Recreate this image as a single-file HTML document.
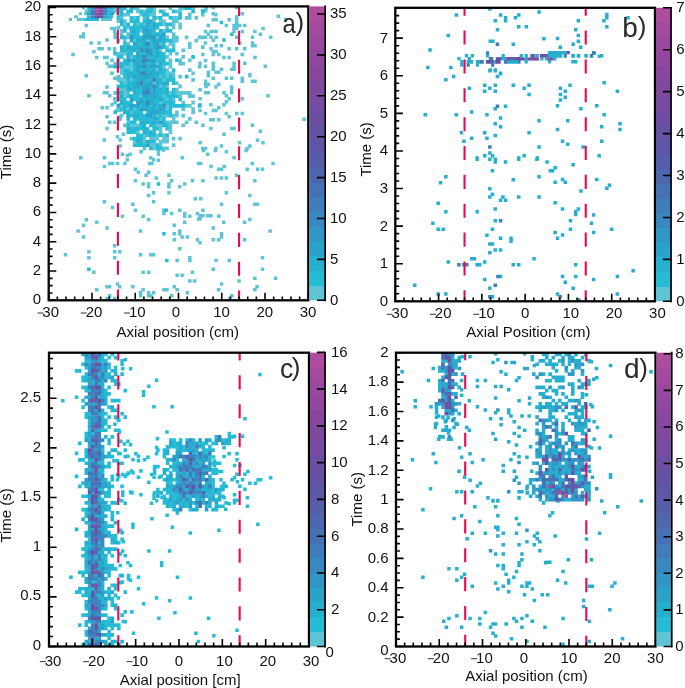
<!DOCTYPE html>
<html><head><meta charset="utf-8"><style>
html,body{margin:0;padding:0;background:#fff;}
svg{display:block;will-change:transform;}
.t{font-family:"Liberation Sans",sans-serif;font-size:15px;fill:#111;}
.t text{font-family:"Liberation Sans",sans-serif;font-size:15px;fill:#111;}
.L{font-family:"Liberation Sans",sans-serif;font-size:28px;fill:#2a2a2a;}
</style></head><body>
<svg width="685" height="688" viewBox="0 0 685 688">
<path fill="#5ec5d7" d="M79.0 156.1h3.5v3.5h-3.5zM102.7 156.1h3.5v3.5h-3.5zM120.6 152.6h3.5v3.5h-3.5zM125.6 153.7h3.5v3.5h-3.5zM128.3 152.6h3.5v3.5h-3.5zM125.6 158.1h3.5v3.5h-3.5zM123.2 161.8h3.5v3.5h-3.5zM149.1 156.1h3.5v3.5h-3.5zM151.9 158.1h3.5v3.5h-3.5zM156.7 152.6h3.5v3.5h-3.5zM156.7 150.0h3.5v3.5h-3.5zM156.7 158.5h3.5v3.5h-3.5zM161.6 148.2h3.5v3.5h-3.5zM180.4 156.1h3.5v3.5h-3.5zM102.7 164.7h3.5v3.5h-3.5zM107.9 161.8h3.5v3.5h-3.5zM110.8 161.8h3.5v3.5h-3.5zM115.8 161.8h3.5v3.5h-3.5zM148.0 161.8h3.5v3.5h-3.5zM150.2 161.8h3.5v3.5h-3.5zM196.8 161.8h3.5v3.5h-3.5zM133.7 167.5h3.5v3.5h-3.5zM136.6 170.6h3.5v3.5h-3.5zM144.3 173.4h3.5v3.5h-3.5zM146.9 170.6h3.5v3.5h-3.5zM167.2 173.4h3.5v3.5h-3.5zM154.5 176.3h3.5v3.5h-3.5zM133.7 179.1h3.5v3.5h-3.5zM141.4 182.2h3.5v3.5h-3.5zM146.9 182.2h3.5v3.5h-3.5zM146.9 185.0h3.5v3.5h-3.5zM167.2 182.2h3.5v3.5h-3.5zM169.9 179.1h3.5v3.5h-3.5zM167.2 185.0h3.5v3.5h-3.5zM178.0 185.0h3.5v3.5h-3.5zM183.0 182.2h3.5v3.5h-3.5zM190.7 179.1h3.5v3.5h-3.5zM151.9 191.0h3.5v3.5h-3.5zM146.9 193.8h3.5v3.5h-3.5zM167.2 191.0h3.5v3.5h-3.5zM193.5 196.9h3.5v3.5h-3.5zM102.7 199.9h3.5v3.5h-3.5zM151.9 199.9h3.5v3.5h-3.5zM131.1 202.6h3.5v3.5h-3.5zM110.8 205.8h3.5v3.5h-3.5zM133.7 208.5h3.5v3.5h-3.5zM162.2 208.5h3.5v3.5h-3.5zM162.2 211.8h3.5v3.5h-3.5zM169.9 211.8h3.5v3.5h-3.5zM178.0 208.5h3.5v3.5h-3.5zM183.0 211.8h3.5v3.5h-3.5zM183.0 214.6h3.5v3.5h-3.5zM188.1 214.6h3.5v3.5h-3.5zM195.7 211.8h3.5v3.5h-3.5zM196.8 217.2h3.5v3.5h-3.5zM120.6 214.6h3.5v3.5h-3.5zM141.4 214.6h3.5v3.5h-3.5zM146.9 217.9h3.5v3.5h-3.5zM84.5 217.9h3.5v3.5h-3.5zM95.0 220.5h3.5v3.5h-3.5zM81.8 223.4h3.5v3.5h-3.5zM105.3 226.2h3.5v3.5h-3.5zM183.0 220.5h3.5v3.5h-3.5zM172.5 223.4h3.5v3.5h-3.5zM76.4 229.3h3.5v3.5h-3.5zM138.8 229.3h3.5v3.5h-3.5zM172.5 232.1h3.5v3.5h-3.5zM178.0 229.3h3.5v3.5h-3.5zM178.0 232.1h3.5v3.5h-3.5zM180.4 235.2h3.5v3.5h-3.5zM185.6 235.2h3.5v3.5h-3.5zM81.8 235.2h3.5v3.5h-3.5zM172.5 238.0h3.5v3.5h-3.5zM195.7 238.0h3.5v3.5h-3.5zM112.9 243.9h3.5v3.5h-3.5zM178.0 247.0h3.5v3.5h-3.5zM63.7 252.9h3.5v3.5h-3.5zM87.1 250.1h3.5v3.5h-3.5zM87.1 256.0h3.5v3.5h-3.5zM112.9 250.1h3.5v3.5h-3.5zM118.0 250.1h3.5v3.5h-3.5zM112.9 256.0h3.5v3.5h-3.5zM138.8 252.9h3.5v3.5h-3.5zM149.1 252.9h3.5v3.5h-3.5zM151.9 252.9h3.5v3.5h-3.5zM175.4 258.8h3.5v3.5h-3.5zM188.1 256.0h3.5v3.5h-3.5zM188.1 258.8h3.5v3.5h-3.5zM92.1 270.4h3.5v3.5h-3.5zM141.4 270.4h3.5v3.5h-3.5zM146.9 270.4h3.5v3.5h-3.5zM175.4 273.5h3.5v3.5h-3.5zM180.4 273.5h3.5v3.5h-3.5zM190.7 270.4h3.5v3.5h-3.5zM188.1 279.2h3.5v3.5h-3.5zM192.9 279.2h3.5v3.5h-3.5zM115.8 282.3h3.5v3.5h-3.5zM95.0 288.0h3.5v3.5h-3.5zM105.3 285.1h3.5v3.5h-3.5zM107.9 285.1h3.5v3.5h-3.5zM118.0 285.1h3.5v3.5h-3.5zM131.1 285.1h3.5v3.5h-3.5zM141.4 288.0h3.5v3.5h-3.5zM162.2 288.0h3.5v3.5h-3.5zM165.1 288.0h3.5v3.5h-3.5zM172.5 285.1h3.5v3.5h-3.5zM175.4 288.0h3.5v3.5h-3.5zM185.6 291.0h3.5v3.5h-3.5zM138.8 291.0h3.5v3.5h-3.5zM138.8 293.9h3.5v3.5h-3.5zM146.9 291.0h3.5v3.5h-3.5zM146.9 293.9h3.5v3.5h-3.5zM149.1 293.9h3.5v3.5h-3.5zM151.9 291.0h3.5v3.5h-3.5zM169.9 293.9h3.5v3.5h-3.5zM107.9 293.9h3.5v3.5h-3.5zM105.3 296.7h3.5v3.5h-3.5zM112.9 296.7h3.5v3.5h-3.5zM206.0 152.6h3.5v3.5h-3.5zM224.6 150.0h3.5v3.5h-3.5zM232.3 156.1h3.5v3.5h-3.5zM201.6 148.7h3.5v3.5h-3.5zM213.7 148.7h3.5v3.5h-3.5zM244.3 148.7h3.5v3.5h-3.5zM199.0 161.8h3.5v3.5h-3.5zM209.3 164.7h3.5v3.5h-3.5zM217.0 167.5h3.5v3.5h-3.5zM219.8 167.5h3.5v3.5h-3.5zM222.4 164.7h3.5v3.5h-3.5zM250.5 161.8h3.5v3.5h-3.5zM271.3 161.8h3.5v3.5h-3.5zM245.4 167.5h3.5v3.5h-3.5zM255.9 167.5h3.5v3.5h-3.5zM260.8 167.5h3.5v3.5h-3.5zM201.2 179.1h3.5v3.5h-3.5zM214.3 176.3h3.5v3.5h-3.5zM219.8 176.3h3.5v3.5h-3.5zM224.6 176.3h3.5v3.5h-3.5zM234.9 173.4h3.5v3.5h-3.5zM253.1 179.1h3.5v3.5h-3.5zM224.6 191.0h3.5v3.5h-3.5zM248.1 193.8h3.5v3.5h-3.5zM199.0 196.9h3.5v3.5h-3.5zM219.8 202.6h3.5v3.5h-3.5zM253.1 202.6h3.5v3.5h-3.5zM255.9 202.6h3.5v3.5h-3.5zM201.2 208.5h3.5v3.5h-3.5zM198.3 213.9h3.5v3.5h-3.5zM201.2 213.9h3.5v3.5h-3.5zM206.0 213.9h3.5v3.5h-3.5zM209.3 213.9h3.5v3.5h-3.5zM198.3 217.2h3.5v3.5h-3.5zM217.0 214.6h3.5v3.5h-3.5zM222.0 220.5h3.5v3.5h-3.5zM242.8 220.5h3.5v3.5h-3.5zM248.1 217.7h3.5v3.5h-3.5zM211.5 226.2h3.5v3.5h-3.5zM219.8 232.1h3.5v3.5h-3.5zM219.8 235.2h3.5v3.5h-3.5zM217.0 238.0h3.5v3.5h-3.5zM211.5 238.0h3.5v3.5h-3.5zM198.3 240.9h3.5v3.5h-3.5zM242.8 238.0h3.5v3.5h-3.5zM268.4 229.3h3.5v3.5h-3.5zM214.3 258.8h3.5v3.5h-3.5zM227.5 258.8h3.5v3.5h-3.5zM260.8 256.0h3.5v3.5h-3.5zM211.5 267.6h3.5v3.5h-3.5zM260.8 267.6h3.5v3.5h-3.5zM253.1 276.4h3.5v3.5h-3.5zM273.9 276.4h3.5v3.5h-3.5zM237.3 279.2h3.5v3.5h-3.5zM219.8 282.3h3.5v3.5h-3.5zM255.3 285.1h3.5v3.5h-3.5zM253.1 288.0h3.5v3.5h-3.5zM217.0 288.0h3.5v3.5h-3.5zM230.1 293.9h3.5v3.5h-3.5zM227.9 296.7h3.5v3.5h-3.5zM211.5 5.7h3.5v3.5h-3.5zM235.0 5.7h3.5v3.5h-3.5zM201.1 9.0h3.5v3.5h-3.5zM204.0 9.0h3.5v3.5h-3.5zM211.5 11.9h3.5v3.5h-3.5zM240.5 11.9h3.5v3.5h-3.5zM211.5 18.0h3.5v3.5h-3.5zM214.4 18.0h3.5v3.5h-3.5zM227.4 18.0h3.5v3.5h-3.5zM235.0 15.2h3.5v3.5h-3.5zM235.0 18.0h3.5v3.5h-3.5zM235.0 20.7h3.5v3.5h-3.5zM206.6 23.7h3.5v3.5h-3.5zM224.6 23.7h3.5v3.5h-3.5zM232.3 23.7h3.5v3.5h-3.5zM235.0 23.7h3.5v3.5h-3.5zM238.0 23.7h3.5v3.5h-3.5zM243.0 23.7h3.5v3.5h-3.5zM232.3 26.7h3.5v3.5h-3.5zM235.0 26.7h3.5v3.5h-3.5zM261.3 26.7h3.5v3.5h-3.5zM203.8 29.8h3.5v3.5h-3.5zM209.3 29.8h3.5v3.5h-3.5zM211.5 29.8h3.5v3.5h-3.5zM214.4 29.8h3.5v3.5h-3.5zM206.6 32.4h3.5v3.5h-3.5zM232.3 29.8h3.5v3.5h-3.5zM240.5 29.8h3.5v3.5h-3.5zM253.1 29.8h3.5v3.5h-3.5zM258.6 32.4h3.5v3.5h-3.5zM203.8 35.5h3.5v3.5h-3.5zM209.3 35.5h3.5v3.5h-3.5zM214.4 35.5h3.5v3.5h-3.5zM211.5 38.5h3.5v3.5h-3.5zM235.0 35.5h3.5v3.5h-3.5zM250.7 35.5h3.5v3.5h-3.5zM269.0 35.5h3.5v3.5h-3.5zM203.8 41.2h3.5v3.5h-3.5zM250.7 41.2h3.5v3.5h-3.5zM250.7 44.0h3.5v3.5h-3.5zM253.3 44.0h3.5v3.5h-3.5zM214.4 44.0h3.5v3.5h-3.5zM219.7 44.0h3.5v3.5h-3.5zM238.0 41.2h3.5v3.5h-3.5zM209.3 47.0h3.5v3.5h-3.5zM211.5 49.7h3.5v3.5h-3.5zM214.4 49.7h3.5v3.5h-3.5zM211.5 52.7h3.5v3.5h-3.5zM217.0 52.7h3.5v3.5h-3.5zM227.4 47.0h3.5v3.5h-3.5zM235.0 47.0h3.5v3.5h-3.5zM243.0 47.0h3.5v3.5h-3.5zM201.1 52.7h3.5v3.5h-3.5zM240.5 52.7h3.5v3.5h-3.5zM222.2 55.7h3.5v3.5h-3.5zM227.4 55.7h3.5v3.5h-3.5zM253.3 55.7h3.5v3.5h-3.5zM203.8 58.8h3.5v3.5h-3.5zM198.3 61.5h3.5v3.5h-3.5zM211.5 61.5h3.5v3.5h-3.5zM211.5 64.5h3.5v3.5h-3.5zM211.5 67.4h3.5v3.5h-3.5zM232.3 61.5h3.5v3.5h-3.5zM232.3 64.5h3.5v3.5h-3.5zM230.1 67.4h3.5v3.5h-3.5zM232.3 67.4h3.5v3.5h-3.5zM243.0 61.5h3.5v3.5h-3.5zM263.5 64.5h3.5v3.5h-3.5zM203.8 64.5h3.5v3.5h-3.5zM219.7 67.4h3.5v3.5h-3.5zM206.6 70.5h3.5v3.5h-3.5zM214.4 70.5h3.5v3.5h-3.5zM217.0 70.5h3.5v3.5h-3.5zM248.2 72.7h3.5v3.5h-3.5zM276.6 14.6h3.5v3.5h-3.5zM283.8 17.8h3.5v3.5h-3.5zM206.6 74.1h3.5v3.5h-3.5zM211.5 76.5h3.5v3.5h-3.5zM224.6 76.5h3.5v3.5h-3.5zM229.9 76.5h3.5v3.5h-3.5zM240.5 76.5h3.5v3.5h-3.5zM240.5 79.6h3.5v3.5h-3.5zM248.2 74.1h3.5v3.5h-3.5zM250.7 79.6h3.5v3.5h-3.5zM253.3 79.6h3.5v3.5h-3.5zM203.8 79.6h3.5v3.5h-3.5zM203.8 82.6h3.5v3.5h-3.5zM206.6 82.6h3.5v3.5h-3.5zM217.0 82.6h3.5v3.5h-3.5zM214.2 85.3h3.5v3.5h-3.5zM229.9 85.3h3.5v3.5h-3.5zM229.9 88.0h3.5v3.5h-3.5zM229.9 91.0h3.5v3.5h-3.5zM198.3 88.0h3.5v3.5h-3.5zM203.8 91.0h3.5v3.5h-3.5zM206.6 91.0h3.5v3.5h-3.5zM222.2 91.0h3.5v3.5h-3.5zM224.6 94.1h3.5v3.5h-3.5zM227.4 97.1h3.5v3.5h-3.5zM224.6 100.1h3.5v3.5h-3.5zM222.2 103.0h3.5v3.5h-3.5zM240.5 97.1h3.5v3.5h-3.5zM266.2 94.1h3.5v3.5h-3.5zM198.3 97.1h3.5v3.5h-3.5zM198.3 103.0h3.5v3.5h-3.5zM209.1 103.0h3.5v3.5h-3.5zM217.0 105.9h3.5v3.5h-3.5zM211.5 108.8h3.5v3.5h-3.5zM214.2 108.8h3.5v3.5h-3.5zM198.3 108.8h3.5v3.5h-3.5zM203.8 111.8h3.5v3.5h-3.5zM224.6 111.8h3.5v3.5h-3.5zM227.4 114.9h3.5v3.5h-3.5zM235.0 111.8h3.5v3.5h-3.5zM240.5 111.8h3.5v3.5h-3.5zM209.1 117.9h3.5v3.5h-3.5zM211.5 117.9h3.5v3.5h-3.5zM217.0 117.9h3.5v3.5h-3.5zM201.1 123.6h3.5v3.5h-3.5zM209.1 126.7h3.5v3.5h-3.5zM229.9 126.7h3.5v3.5h-3.5zM232.3 126.7h3.5v3.5h-3.5zM250.7 123.6h3.5v3.5h-3.5zM258.6 129.6h3.5v3.5h-3.5zM222.2 132.4h3.5v3.5h-3.5zM255.8 138.4h3.5v3.5h-3.5zM261.3 141.1h3.5v3.5h-3.5zM198.3 141.1h3.5v3.5h-3.5zM237.8 141.1h3.5v3.5h-3.5zM219.7 144.2h3.5v3.5h-3.5zM248.2 144.2h3.5v3.5h-3.5zM245.4 146.8h3.5v3.5h-3.5zM201.1 146.8h3.5v3.5h-3.5zM203.8 146.8h3.5v3.5h-3.5zM214.2 146.8h3.5v3.5h-3.5zM302.4 117.5h3.5v3.5h-3.5zM84.5 23.7h3.5v3.5h-3.5zM81.7 32.2h3.5v3.5h-3.5zM79.0 34.9h3.5v3.5h-3.5zM81.7 34.9h3.5v3.5h-3.5zM89.4 41.2h3.5v3.5h-3.5zM97.4 41.2h3.5v3.5h-3.5zM105.3 38.2h3.5v3.5h-3.5zM97.4 47.0h3.5v3.5h-3.5zM100.4 47.0h3.5v3.5h-3.5zM92.1 49.9h3.5v3.5h-3.5zM71.3 52.8h3.5v3.5h-3.5zM94.9 55.7h3.5v3.5h-3.5zM102.9 55.7h3.5v3.5h-3.5zM105.3 55.7h3.5v3.5h-3.5zM107.5 47.0h3.5v3.5h-3.5zM112.9 47.0h3.5v3.5h-3.5zM110.2 26.7h3.5v3.5h-3.5zM112.9 26.7h3.5v3.5h-3.5zM112.9 29.8h3.5v3.5h-3.5zM110.2 58.5h3.5v3.5h-3.5zM105.3 61.5h3.5v3.5h-3.5zM107.5 64.5h3.5v3.5h-3.5zM110.2 64.5h3.5v3.5h-3.5zM112.9 49.7h3.5v3.5h-3.5zM84.5 74.1h3.5v3.5h-3.5zM112.9 76.5h3.5v3.5h-3.5zM115.7 76.5h3.5v3.5h-3.5zM118.4 76.5h3.5v3.5h-3.5zM118.4 79.6h3.5v3.5h-3.5zM105.3 85.3h3.5v3.5h-3.5zM102.5 91.0h3.5v3.5h-3.5zM105.3 91.0h3.5v3.5h-3.5zM108.0 94.1h3.5v3.5h-3.5zM87.2 94.1h3.5v3.5h-3.5zM112.9 97.1h3.5v3.5h-3.5zM110.2 103.0h3.5v3.5h-3.5zM100.4 105.9h3.5v3.5h-3.5zM105.3 105.9h3.5v3.5h-3.5zM115.1 108.8h3.5v3.5h-3.5zM118.4 103.0h3.5v3.5h-3.5zM118.4 108.8h3.5v3.5h-3.5zM118.4 114.9h3.5v3.5h-3.5zM118.4 117.6h3.5v3.5h-3.5zM105.3 114.9h3.5v3.5h-3.5zM108.0 120.5h3.5v3.5h-3.5zM112.9 120.5h3.5v3.5h-3.5zM105.3 126.7h3.5v3.5h-3.5zM102.5 138.2h3.5v3.5h-3.5zM115.7 135.1h3.5v3.5h-3.5zM118.4 138.2h3.5v3.5h-3.5zM118.4 144.2h3.5v3.5h-3.5zM121.7 132.4h3.5v3.5h-3.5zM110.2 71.4h3.6v3.7h-3.6zM113.4 9.5h3.6v3.7h-3.6zM113.4 32.3h3.6v3.7h-3.6zM113.4 35.6h3.6v3.7h-3.6zM113.4 61.7h3.6v3.7h-3.6zM113.4 91.0h3.6v3.7h-3.6zM113.4 100.8h3.6v3.7h-3.6zM116.6 9.5h3.6v3.7h-3.6zM116.6 12.7h3.6v3.7h-3.6zM116.6 19.2h3.6v3.7h-3.6zM116.6 25.8h3.6v3.7h-3.6zM116.6 38.8h3.6v3.7h-3.6zM116.6 51.9h3.6v3.7h-3.6zM116.6 58.4h3.6v3.7h-3.6zM116.6 61.7h3.6v3.7h-3.6zM116.6 74.7h3.6v3.7h-3.6zM116.6 78.0h3.6v3.7h-3.6zM116.6 87.8h3.6v3.7h-3.6zM116.6 94.3h3.6v3.7h-3.6zM116.6 107.3h3.6v3.7h-3.6zM119.9 16.0h3.6v3.7h-3.6zM119.9 29.0h3.6v3.7h-3.6zM119.9 32.3h3.6v3.7h-3.6zM119.9 51.9h3.6v3.7h-3.6zM119.9 68.2h3.6v3.7h-3.6zM119.9 71.4h3.6v3.7h-3.6zM119.9 78.0h3.6v3.7h-3.6zM119.9 87.8h3.6v3.7h-3.6zM119.9 104.1h3.6v3.7h-3.6zM119.9 113.8h3.6v3.7h-3.6zM123.1 12.7h3.6v3.7h-3.6zM123.1 19.2h3.6v3.7h-3.6zM123.1 22.5h3.6v3.7h-3.6zM123.1 38.8h3.6v3.7h-3.6zM123.1 51.9h3.6v3.7h-3.6zM123.1 64.9h3.6v3.7h-3.6zM123.1 78.0h3.6v3.7h-3.6zM123.1 81.2h3.6v3.7h-3.6zM123.1 87.8h3.6v3.7h-3.6zM123.1 91.0h3.6v3.7h-3.6zM123.1 94.3h3.6v3.7h-3.6zM123.1 123.6h3.6v3.7h-3.6zM126.4 12.7h3.6v3.7h-3.6zM126.4 25.8h3.6v3.7h-3.6zM126.4 32.3h3.6v3.7h-3.6zM126.4 35.6h3.6v3.7h-3.6zM126.4 42.1h3.6v3.7h-3.6zM126.4 64.9h3.6v3.7h-3.6zM126.4 91.0h3.6v3.7h-3.6zM126.4 107.3h3.6v3.7h-3.6zM126.4 120.4h3.6v3.7h-3.6zM129.6 55.1h3.6v3.7h-3.6zM129.6 61.7h3.6v3.7h-3.6zM129.6 64.9h3.6v3.7h-3.6zM129.6 68.2h3.6v3.7h-3.6zM129.6 78.0h3.6v3.7h-3.6zM129.6 110.6h3.6v3.7h-3.6zM129.6 123.6h3.6v3.7h-3.6zM129.6 136.7h3.6v3.7h-3.6zM132.9 6.2h3.6v3.7h-3.6zM132.9 16.0h3.6v3.7h-3.6zM132.9 38.8h3.6v3.7h-3.6zM132.9 107.3h3.6v3.7h-3.6zM132.9 123.6h3.6v3.7h-3.6zM132.9 139.9h3.6v3.7h-3.6zM136.1 6.2h3.6v3.7h-3.6zM136.1 9.5h3.6v3.7h-3.6zM136.1 22.5h3.6v3.7h-3.6zM136.1 123.6h3.6v3.7h-3.6zM136.1 130.2h3.6v3.7h-3.6zM139.4 12.7h3.6v3.7h-3.6zM139.4 29.0h3.6v3.7h-3.6zM139.4 94.3h3.6v3.7h-3.6zM139.4 149.7h3.6v3.7h-3.6zM142.6 9.5h3.6v3.7h-3.6zM142.6 16.0h3.6v3.7h-3.6zM142.6 22.5h3.6v3.7h-3.6zM142.6 133.4h3.6v3.7h-3.6zM142.6 136.7h3.6v3.7h-3.6zM142.6 139.9h3.6v3.7h-3.6zM142.6 146.5h3.6v3.7h-3.6zM145.9 6.2h3.6v3.7h-3.6zM145.9 38.8h3.6v3.7h-3.6zM149.1 12.7h3.6v3.7h-3.6zM149.1 136.7h3.6v3.7h-3.6zM149.1 143.2h3.6v3.7h-3.6zM152.3 6.2h3.6v3.7h-3.6zM152.3 9.5h3.6v3.7h-3.6zM152.3 12.7h3.6v3.7h-3.6zM152.3 19.2h3.6v3.7h-3.6zM152.3 81.2h3.6v3.7h-3.6zM152.3 136.7h3.6v3.7h-3.6zM152.3 143.2h3.6v3.7h-3.6zM152.3 146.5h3.6v3.7h-3.6zM155.6 16.0h3.6v3.7h-3.6zM155.6 35.6h3.6v3.7h-3.6zM155.6 61.7h3.6v3.7h-3.6zM155.6 68.2h3.6v3.7h-3.6zM155.6 113.8h3.6v3.7h-3.6zM155.6 123.6h3.6v3.7h-3.6zM155.6 133.4h3.6v3.7h-3.6zM155.6 136.7h3.6v3.7h-3.6zM158.8 19.2h3.6v3.7h-3.6zM158.8 42.1h3.6v3.7h-3.6zM158.8 48.6h3.6v3.7h-3.6zM158.8 74.7h3.6v3.7h-3.6zM158.8 84.5h3.6v3.7h-3.6zM158.8 100.8h3.6v3.7h-3.6zM158.8 117.1h3.6v3.7h-3.6zM158.8 123.6h3.6v3.7h-3.6zM158.8 126.9h3.6v3.7h-3.6zM158.8 130.2h3.6v3.7h-3.6zM158.8 139.9h3.6v3.7h-3.6zM158.8 143.2h3.6v3.7h-3.6zM162.1 9.5h3.6v3.7h-3.6zM162.1 19.2h3.6v3.7h-3.6zM162.1 22.5h3.6v3.7h-3.6zM162.1 29.0h3.6v3.7h-3.6zM162.1 64.9h3.6v3.7h-3.6zM162.1 78.0h3.6v3.7h-3.6zM162.1 94.3h3.6v3.7h-3.6zM162.1 113.8h3.6v3.7h-3.6zM162.1 133.4h3.6v3.7h-3.6zM162.1 136.7h3.6v3.7h-3.6zM162.1 139.9h3.6v3.7h-3.6zM162.1 146.5h3.6v3.7h-3.6zM165.3 25.8h3.6v3.7h-3.6zM165.3 35.6h3.6v3.7h-3.6zM165.3 45.3h3.6v3.7h-3.6zM165.3 55.1h3.6v3.7h-3.6zM165.3 68.2h3.6v3.7h-3.6zM165.3 71.4h3.6v3.7h-3.6zM165.3 74.7h3.6v3.7h-3.6zM165.3 84.5h3.6v3.7h-3.6zM165.3 97.5h3.6v3.7h-3.6zM165.3 104.1h3.6v3.7h-3.6zM165.3 107.3h3.6v3.7h-3.6zM165.3 113.8h3.6v3.7h-3.6zM165.3 120.4h3.6v3.7h-3.6zM165.3 136.7h3.6v3.7h-3.6zM165.3 139.9h3.6v3.7h-3.6zM165.3 146.5h3.6v3.7h-3.6zM168.6 6.2h3.6v3.7h-3.6zM168.6 42.1h3.6v3.7h-3.6zM168.6 51.9h3.6v3.7h-3.6zM168.6 58.4h3.6v3.7h-3.6zM168.6 61.7h3.6v3.7h-3.6zM168.6 64.9h3.6v3.7h-3.6zM168.6 71.4h3.6v3.7h-3.6zM168.6 91.0h3.6v3.7h-3.6zM168.6 120.4h3.6v3.7h-3.6zM168.6 123.6h3.6v3.7h-3.6zM168.6 126.9h3.6v3.7h-3.6zM168.6 130.2h3.6v3.7h-3.6zM171.8 16.0h3.6v3.7h-3.6zM171.8 19.2h3.6v3.7h-3.6zM171.8 22.5h3.6v3.7h-3.6zM171.8 25.8h3.6v3.7h-3.6zM171.8 32.3h3.6v3.7h-3.6zM171.8 35.6h3.6v3.7h-3.6zM171.8 38.8h3.6v3.7h-3.6zM171.8 42.1h3.6v3.7h-3.6zM171.8 45.3h3.6v3.7h-3.6zM171.8 71.4h3.6v3.7h-3.6zM171.8 74.7h3.6v3.7h-3.6zM171.8 97.5h3.6v3.7h-3.6zM171.8 113.8h3.6v3.7h-3.6zM171.8 117.1h3.6v3.7h-3.6zM171.8 120.4h3.6v3.7h-3.6zM171.8 136.7h3.6v3.7h-3.6zM171.8 143.2h3.6v3.7h-3.6zM175.1 9.5h3.6v3.7h-3.6zM175.1 16.0h3.6v3.7h-3.6zM175.1 19.2h3.6v3.7h-3.6zM175.1 35.6h3.6v3.7h-3.6zM175.1 38.8h3.6v3.7h-3.6zM175.1 51.9h3.6v3.7h-3.6zM175.1 81.2h3.6v3.7h-3.6zM175.1 87.8h3.6v3.7h-3.6zM175.1 91.0h3.6v3.7h-3.6zM175.1 110.6h3.6v3.7h-3.6zM175.1 113.8h3.6v3.7h-3.6zM175.1 120.4h3.6v3.7h-3.6zM178.3 6.2h3.6v3.7h-3.6zM178.3 9.5h3.6v3.7h-3.6zM178.3 22.5h3.6v3.7h-3.6zM178.3 25.8h3.6v3.7h-3.6zM178.3 58.4h3.6v3.7h-3.6zM178.3 61.7h3.6v3.7h-3.6zM178.3 74.7h3.6v3.7h-3.6zM178.3 84.5h3.6v3.7h-3.6zM178.3 91.0h3.6v3.7h-3.6zM178.3 94.3h3.6v3.7h-3.6zM178.3 136.7h3.6v3.7h-3.6zM181.5 6.2h3.6v3.7h-3.6zM181.5 48.6h3.6v3.7h-3.6zM181.5 55.1h3.6v3.7h-3.6zM181.5 61.7h3.6v3.7h-3.6zM181.5 91.0h3.6v3.7h-3.6zM181.5 100.8h3.6v3.7h-3.6zM181.5 107.3h3.6v3.7h-3.6zM181.5 113.8h3.6v3.7h-3.6zM181.5 123.6h3.6v3.7h-3.6zM184.8 16.0h3.6v3.7h-3.6zM184.8 35.6h3.6v3.7h-3.6zM184.8 91.0h3.6v3.7h-3.6zM184.8 104.1h3.6v3.7h-3.6zM184.8 120.4h3.6v3.7h-3.6zM188.0 12.7h3.6v3.7h-3.6zM188.0 16.0h3.6v3.7h-3.6zM188.0 42.1h3.6v3.7h-3.6zM188.0 45.3h3.6v3.7h-3.6zM188.0 58.4h3.6v3.7h-3.6zM188.0 68.2h3.6v3.7h-3.6zM188.0 91.0h3.6v3.7h-3.6zM188.0 94.3h3.6v3.7h-3.6zM188.0 104.1h3.6v3.7h-3.6zM188.0 117.1h3.6v3.7h-3.6zM191.3 6.2h3.6v3.7h-3.6zM191.3 71.4h3.6v3.7h-3.6zM191.3 78.0h3.6v3.7h-3.6zM191.3 94.3h3.6v3.7h-3.6zM191.3 100.8h3.6v3.7h-3.6zM191.3 107.3h3.6v3.7h-3.6zM191.3 110.6h3.6v3.7h-3.6zM194.5 16.0h3.6v3.7h-3.6zM194.5 38.8h3.6v3.7h-3.6zM194.5 120.4h3.6v3.7h-3.6zM197.8 35.6h3.6v3.7h-3.6zM197.8 64.9h3.6v3.7h-3.6zM201.0 12.7h3.6v3.7h-3.6zM201.0 35.6h3.6v3.7h-3.6zM201.0 45.3h3.6v3.7h-3.6zM204.3 6.2h3.6v3.7h-3.6zM204.3 84.5h3.6v3.7h-3.6zM214.0 12.7h3.6v3.7h-3.6zM82.0 6.6h3.0v3.0h-3.0zM113.0 6.6h6.0v3.0h-6.0zM85.0 9.5h3.0v3.0h-3.0zM113.0 9.5h3.0v3.0h-3.0zM79.0 12.3h3.0v3.0h-3.0zM84.0 12.3h3.0v3.0h-3.0zM74.0 15.2h4.0v3.0h-4.0zM69.0 18.1h3.0v3.0h-3.0zM77.0 18.1h8.0v3.0h-8.0zM101.0 18.1h11.0v3.0h-11.0z"/>
<path fill="#25bdd5" d="M156.7 182.2h3.5v3.5h-3.5zM164.4 208.5h3.5v3.5h-3.5zM162.2 232.1h3.5v3.5h-3.5zM165.1 258.8h3.5v3.5h-3.5zM87.1 267.6h3.5v3.5h-3.5zM219.7 20.7h3.5v3.5h-3.5zM230.1 32.4h3.5v3.5h-3.5zM222.2 38.2h3.5v3.5h-3.5zM113.4 51.9h3.6v3.7h-3.6zM113.4 64.9h3.6v3.7h-3.6zM113.4 110.6h3.6v3.7h-3.6zM116.6 6.2h3.6v3.7h-3.6zM116.6 16.0h3.6v3.7h-3.6zM116.6 55.1h3.6v3.7h-3.6zM116.6 64.9h3.6v3.7h-3.6zM116.6 84.5h3.6v3.7h-3.6zM116.6 97.5h3.6v3.7h-3.6zM119.9 6.2h3.6v3.7h-3.6zM119.9 9.5h3.6v3.7h-3.6zM119.9 12.7h3.6v3.7h-3.6zM119.9 22.5h3.6v3.7h-3.6zM119.9 48.6h3.6v3.7h-3.6zM119.9 55.1h3.6v3.7h-3.6zM119.9 61.7h3.6v3.7h-3.6zM119.9 81.2h3.6v3.7h-3.6zM119.9 84.5h3.6v3.7h-3.6zM119.9 91.0h3.6v3.7h-3.6zM119.9 97.5h3.6v3.7h-3.6zM119.9 107.3h3.6v3.7h-3.6zM123.1 6.2h3.6v3.7h-3.6zM123.1 25.8h3.6v3.7h-3.6zM123.1 29.0h3.6v3.7h-3.6zM123.1 35.6h3.6v3.7h-3.6zM123.1 42.1h3.6v3.7h-3.6zM123.1 45.3h3.6v3.7h-3.6zM123.1 48.6h3.6v3.7h-3.6zM123.1 58.4h3.6v3.7h-3.6zM123.1 61.7h3.6v3.7h-3.6zM123.1 68.2h3.6v3.7h-3.6zM123.1 71.4h3.6v3.7h-3.6zM123.1 74.7h3.6v3.7h-3.6zM123.1 84.5h3.6v3.7h-3.6zM123.1 97.5h3.6v3.7h-3.6zM123.1 100.8h3.6v3.7h-3.6zM123.1 107.3h3.6v3.7h-3.6zM126.4 9.5h3.6v3.7h-3.6zM126.4 22.5h3.6v3.7h-3.6zM126.4 48.6h3.6v3.7h-3.6zM126.4 51.9h3.6v3.7h-3.6zM126.4 61.7h3.6v3.7h-3.6zM126.4 68.2h3.6v3.7h-3.6zM126.4 78.0h3.6v3.7h-3.6zM126.4 81.2h3.6v3.7h-3.6zM126.4 94.3h3.6v3.7h-3.6zM126.4 100.8h3.6v3.7h-3.6zM126.4 104.1h3.6v3.7h-3.6zM126.4 117.1h3.6v3.7h-3.6zM126.4 123.6h3.6v3.7h-3.6zM126.4 130.2h3.6v3.7h-3.6zM129.6 6.2h3.6v3.7h-3.6zM129.6 9.5h3.6v3.7h-3.6zM129.6 16.0h3.6v3.7h-3.6zM129.6 19.2h3.6v3.7h-3.6zM129.6 25.8h3.6v3.7h-3.6zM129.6 29.0h3.6v3.7h-3.6zM129.6 32.3h3.6v3.7h-3.6zM129.6 45.3h3.6v3.7h-3.6zM129.6 51.9h3.6v3.7h-3.6zM129.6 74.7h3.6v3.7h-3.6zM129.6 81.2h3.6v3.7h-3.6zM129.6 84.5h3.6v3.7h-3.6zM129.6 100.8h3.6v3.7h-3.6zM129.6 113.8h3.6v3.7h-3.6zM129.6 120.4h3.6v3.7h-3.6zM129.6 126.9h3.6v3.7h-3.6zM129.6 130.2h3.6v3.7h-3.6zM132.9 19.2h3.6v3.7h-3.6zM132.9 22.5h3.6v3.7h-3.6zM132.9 25.8h3.6v3.7h-3.6zM132.9 35.6h3.6v3.7h-3.6zM132.9 45.3h3.6v3.7h-3.6zM132.9 55.1h3.6v3.7h-3.6zM132.9 64.9h3.6v3.7h-3.6zM132.9 68.2h3.6v3.7h-3.6zM132.9 71.4h3.6v3.7h-3.6zM132.9 78.0h3.6v3.7h-3.6zM132.9 94.3h3.6v3.7h-3.6zM132.9 97.5h3.6v3.7h-3.6zM132.9 110.6h3.6v3.7h-3.6zM132.9 117.1h3.6v3.7h-3.6zM132.9 120.4h3.6v3.7h-3.6zM132.9 126.9h3.6v3.7h-3.6zM132.9 130.2h3.6v3.7h-3.6zM132.9 136.7h3.6v3.7h-3.6zM132.9 143.2h3.6v3.7h-3.6zM136.1 16.0h3.6v3.7h-3.6zM136.1 19.2h3.6v3.7h-3.6zM136.1 25.8h3.6v3.7h-3.6zM136.1 29.0h3.6v3.7h-3.6zM136.1 32.3h3.6v3.7h-3.6zM136.1 35.6h3.6v3.7h-3.6zM136.1 48.6h3.6v3.7h-3.6zM136.1 87.8h3.6v3.7h-3.6zM136.1 91.0h3.6v3.7h-3.6zM136.1 94.3h3.6v3.7h-3.6zM136.1 97.5h3.6v3.7h-3.6zM136.1 107.3h3.6v3.7h-3.6zM136.1 110.6h3.6v3.7h-3.6zM136.1 117.1h3.6v3.7h-3.6zM136.1 133.4h3.6v3.7h-3.6zM136.1 136.7h3.6v3.7h-3.6zM136.1 143.2h3.6v3.7h-3.6zM139.4 9.5h3.6v3.7h-3.6zM139.4 22.5h3.6v3.7h-3.6zM139.4 25.8h3.6v3.7h-3.6zM139.4 35.6h3.6v3.7h-3.6zM139.4 42.1h3.6v3.7h-3.6zM139.4 51.9h3.6v3.7h-3.6zM139.4 68.2h3.6v3.7h-3.6zM139.4 87.8h3.6v3.7h-3.6zM139.4 91.0h3.6v3.7h-3.6zM139.4 104.1h3.6v3.7h-3.6zM139.4 110.6h3.6v3.7h-3.6zM139.4 113.8h3.6v3.7h-3.6zM139.4 117.1h3.6v3.7h-3.6zM139.4 123.6h3.6v3.7h-3.6zM139.4 126.9h3.6v3.7h-3.6zM139.4 133.4h3.6v3.7h-3.6zM139.4 136.7h3.6v3.7h-3.6zM139.4 139.9h3.6v3.7h-3.6zM139.4 143.2h3.6v3.7h-3.6zM142.6 12.7h3.6v3.7h-3.6zM142.6 19.2h3.6v3.7h-3.6zM142.6 51.9h3.6v3.7h-3.6zM142.6 81.2h3.6v3.7h-3.6zM142.6 97.5h3.6v3.7h-3.6zM142.6 113.8h3.6v3.7h-3.6zM142.6 117.1h3.6v3.7h-3.6zM142.6 120.4h3.6v3.7h-3.6zM142.6 143.2h3.6v3.7h-3.6zM145.9 9.5h3.6v3.7h-3.6zM145.9 12.7h3.6v3.7h-3.6zM145.9 16.0h3.6v3.7h-3.6zM145.9 61.7h3.6v3.7h-3.6zM145.9 78.0h3.6v3.7h-3.6zM145.9 110.6h3.6v3.7h-3.6zM145.9 117.1h3.6v3.7h-3.6zM145.9 126.9h3.6v3.7h-3.6zM145.9 130.2h3.6v3.7h-3.6zM145.9 133.4h3.6v3.7h-3.6zM149.1 6.2h3.6v3.7h-3.6zM149.1 9.5h3.6v3.7h-3.6zM149.1 22.5h3.6v3.7h-3.6zM149.1 25.8h3.6v3.7h-3.6zM149.1 38.8h3.6v3.7h-3.6zM149.1 42.1h3.6v3.7h-3.6zM149.1 45.3h3.6v3.7h-3.6zM149.1 55.1h3.6v3.7h-3.6zM149.1 78.0h3.6v3.7h-3.6zM149.1 104.1h3.6v3.7h-3.6zM149.1 117.1h3.6v3.7h-3.6zM149.1 120.4h3.6v3.7h-3.6zM149.1 123.6h3.6v3.7h-3.6zM149.1 133.4h3.6v3.7h-3.6zM149.1 139.9h3.6v3.7h-3.6zM149.1 146.5h3.6v3.7h-3.6zM152.3 16.0h3.6v3.7h-3.6zM152.3 29.0h3.6v3.7h-3.6zM152.3 32.3h3.6v3.7h-3.6zM152.3 48.6h3.6v3.7h-3.6zM152.3 51.9h3.6v3.7h-3.6zM152.3 123.6h3.6v3.7h-3.6zM152.3 126.9h3.6v3.7h-3.6zM152.3 130.2h3.6v3.7h-3.6zM152.3 133.4h3.6v3.7h-3.6zM152.3 139.9h3.6v3.7h-3.6zM155.6 22.5h3.6v3.7h-3.6zM155.6 25.8h3.6v3.7h-3.6zM155.6 58.4h3.6v3.7h-3.6zM155.6 74.7h3.6v3.7h-3.6zM155.6 87.8h3.6v3.7h-3.6zM155.6 97.5h3.6v3.7h-3.6zM155.6 100.8h3.6v3.7h-3.6zM155.6 104.1h3.6v3.7h-3.6zM155.6 107.3h3.6v3.7h-3.6zM155.6 120.4h3.6v3.7h-3.6zM155.6 126.9h3.6v3.7h-3.6zM155.6 143.2h3.6v3.7h-3.6zM155.6 146.5h3.6v3.7h-3.6zM158.8 9.5h3.6v3.7h-3.6zM158.8 16.0h3.6v3.7h-3.6zM158.8 22.5h3.6v3.7h-3.6zM158.8 32.3h3.6v3.7h-3.6zM158.8 51.9h3.6v3.7h-3.6zM158.8 55.1h3.6v3.7h-3.6zM158.8 58.4h3.6v3.7h-3.6zM158.8 71.4h3.6v3.7h-3.6zM158.8 78.0h3.6v3.7h-3.6zM158.8 81.2h3.6v3.7h-3.6zM158.8 91.0h3.6v3.7h-3.6zM158.8 94.3h3.6v3.7h-3.6zM158.8 110.6h3.6v3.7h-3.6zM158.8 113.8h3.6v3.7h-3.6zM158.8 133.4h3.6v3.7h-3.6zM158.8 146.5h3.6v3.7h-3.6zM162.1 12.7h3.6v3.7h-3.6zM162.1 35.6h3.6v3.7h-3.6zM162.1 42.1h3.6v3.7h-3.6zM162.1 45.3h3.6v3.7h-3.6zM162.1 51.9h3.6v3.7h-3.6zM162.1 55.1h3.6v3.7h-3.6zM162.1 58.4h3.6v3.7h-3.6zM162.1 61.7h3.6v3.7h-3.6zM162.1 68.2h3.6v3.7h-3.6zM162.1 71.4h3.6v3.7h-3.6zM162.1 74.7h3.6v3.7h-3.6zM162.1 84.5h3.6v3.7h-3.6zM162.1 87.8h3.6v3.7h-3.6zM162.1 91.0h3.6v3.7h-3.6zM162.1 97.5h3.6v3.7h-3.6zM162.1 100.8h3.6v3.7h-3.6zM162.1 117.1h3.6v3.7h-3.6zM162.1 120.4h3.6v3.7h-3.6zM162.1 123.6h3.6v3.7h-3.6zM165.3 12.7h3.6v3.7h-3.6zM165.3 22.5h3.6v3.7h-3.6zM165.3 29.0h3.6v3.7h-3.6zM165.3 38.8h3.6v3.7h-3.6zM165.3 48.6h3.6v3.7h-3.6zM165.3 61.7h3.6v3.7h-3.6zM165.3 78.0h3.6v3.7h-3.6zM165.3 94.3h3.6v3.7h-3.6zM165.3 100.8h3.6v3.7h-3.6zM165.3 110.6h3.6v3.7h-3.6zM165.3 123.6h3.6v3.7h-3.6zM165.3 126.9h3.6v3.7h-3.6zM165.3 133.4h3.6v3.7h-3.6zM168.6 16.0h3.6v3.7h-3.6zM168.6 22.5h3.6v3.7h-3.6zM168.6 29.0h3.6v3.7h-3.6zM168.6 38.8h3.6v3.7h-3.6zM168.6 48.6h3.6v3.7h-3.6zM168.6 74.7h3.6v3.7h-3.6zM168.6 78.0h3.6v3.7h-3.6zM168.6 94.3h3.6v3.7h-3.6zM168.6 97.5h3.6v3.7h-3.6zM168.6 100.8h3.6v3.7h-3.6zM168.6 104.1h3.6v3.7h-3.6zM168.6 107.3h3.6v3.7h-3.6zM168.6 110.6h3.6v3.7h-3.6zM168.6 113.8h3.6v3.7h-3.6zM171.8 9.5h3.6v3.7h-3.6zM171.8 48.6h3.6v3.7h-3.6zM171.8 68.2h3.6v3.7h-3.6zM171.8 78.0h3.6v3.7h-3.6zM171.8 81.2h3.6v3.7h-3.6zM171.8 87.8h3.6v3.7h-3.6zM171.8 91.0h3.6v3.7h-3.6zM171.8 94.3h3.6v3.7h-3.6zM171.8 100.8h3.6v3.7h-3.6zM171.8 104.1h3.6v3.7h-3.6zM175.1 58.4h3.6v3.7h-3.6zM175.1 94.3h3.6v3.7h-3.6zM175.1 104.1h3.6v3.7h-3.6zM178.3 12.7h3.6v3.7h-3.6zM178.3 16.0h3.6v3.7h-3.6zM178.3 97.5h3.6v3.7h-3.6zM178.3 104.1h3.6v3.7h-3.6zM181.5 104.1h3.6v3.7h-3.6zM184.8 6.2h3.6v3.7h-3.6zM184.8 74.7h3.6v3.7h-3.6zM188.0 6.2h3.6v3.7h-3.6zM191.3 9.5h3.6v3.7h-3.6zM191.3 55.1h3.6v3.7h-3.6zM197.8 104.1h3.6v3.7h-3.6zM201.0 9.5h3.6v3.7h-3.6zM87.0 6.6h4.0v3.0h-4.0zM107.0 6.6h3.0v3.0h-3.0zM88.0 9.5h3.0v3.0h-3.0zM107.0 9.5h6.0v3.0h-6.0zM107.0 12.3h3.0v3.0h-3.0zM87.0 15.2h4.0v3.0h-4.0zM107.0 15.2h6.0v3.0h-6.0zM85.0 18.1h14.0v3.0h-14.0z"/>
<path fill="#26b0cf" d="M116.6 91.0h3.6v3.7h-3.6zM119.9 19.2h3.6v3.7h-3.6zM119.9 35.6h3.6v3.7h-3.6zM119.9 45.3h3.6v3.7h-3.6zM119.9 64.9h3.6v3.7h-3.6zM119.9 94.3h3.6v3.7h-3.6zM119.9 100.8h3.6v3.7h-3.6zM123.1 104.1h3.6v3.7h-3.6zM123.1 110.6h3.6v3.7h-3.6zM126.4 55.1h3.6v3.7h-3.6zM126.4 71.4h3.6v3.7h-3.6zM126.4 74.7h3.6v3.7h-3.6zM126.4 84.5h3.6v3.7h-3.6zM126.4 87.8h3.6v3.7h-3.6zM126.4 110.6h3.6v3.7h-3.6zM126.4 113.8h3.6v3.7h-3.6zM126.4 126.9h3.6v3.7h-3.6zM129.6 38.8h3.6v3.7h-3.6zM129.6 48.6h3.6v3.7h-3.6zM129.6 58.4h3.6v3.7h-3.6zM129.6 71.4h3.6v3.7h-3.6zM129.6 87.8h3.6v3.7h-3.6zM129.6 94.3h3.6v3.7h-3.6zM129.6 107.3h3.6v3.7h-3.6zM132.9 29.0h3.6v3.7h-3.6zM132.9 32.3h3.6v3.7h-3.6zM132.9 48.6h3.6v3.7h-3.6zM132.9 61.7h3.6v3.7h-3.6zM132.9 81.2h3.6v3.7h-3.6zM132.9 84.5h3.6v3.7h-3.6zM132.9 87.8h3.6v3.7h-3.6zM132.9 91.0h3.6v3.7h-3.6zM132.9 104.1h3.6v3.7h-3.6zM132.9 113.8h3.6v3.7h-3.6zM136.1 38.8h3.6v3.7h-3.6zM136.1 42.1h3.6v3.7h-3.6zM136.1 55.1h3.6v3.7h-3.6zM136.1 58.4h3.6v3.7h-3.6zM136.1 71.4h3.6v3.7h-3.6zM136.1 74.7h3.6v3.7h-3.6zM136.1 78.0h3.6v3.7h-3.6zM136.1 113.8h3.6v3.7h-3.6zM136.1 126.9h3.6v3.7h-3.6zM136.1 139.9h3.6v3.7h-3.6zM139.4 38.8h3.6v3.7h-3.6zM139.4 45.3h3.6v3.7h-3.6zM139.4 55.1h3.6v3.7h-3.6zM139.4 61.7h3.6v3.7h-3.6zM139.4 74.7h3.6v3.7h-3.6zM139.4 84.5h3.6v3.7h-3.6zM139.4 120.4h3.6v3.7h-3.6zM142.6 25.8h3.6v3.7h-3.6zM142.6 32.3h3.6v3.7h-3.6zM142.6 38.8h3.6v3.7h-3.6zM142.6 42.1h3.6v3.7h-3.6zM142.6 45.3h3.6v3.7h-3.6zM142.6 68.2h3.6v3.7h-3.6zM142.6 78.0h3.6v3.7h-3.6zM142.6 100.8h3.6v3.7h-3.6zM142.6 104.1h3.6v3.7h-3.6zM142.6 123.6h3.6v3.7h-3.6zM142.6 126.9h3.6v3.7h-3.6zM142.6 130.2h3.6v3.7h-3.6zM145.9 19.2h3.6v3.7h-3.6zM145.9 22.5h3.6v3.7h-3.6zM145.9 25.8h3.6v3.7h-3.6zM145.9 45.3h3.6v3.7h-3.6zM145.9 55.1h3.6v3.7h-3.6zM145.9 64.9h3.6v3.7h-3.6zM145.9 68.2h3.6v3.7h-3.6zM145.9 71.4h3.6v3.7h-3.6zM145.9 81.2h3.6v3.7h-3.6zM145.9 94.3h3.6v3.7h-3.6zM145.9 97.5h3.6v3.7h-3.6zM145.9 107.3h3.6v3.7h-3.6zM145.9 120.4h3.6v3.7h-3.6zM145.9 139.9h3.6v3.7h-3.6zM149.1 19.2h3.6v3.7h-3.6zM149.1 29.0h3.6v3.7h-3.6zM149.1 32.3h3.6v3.7h-3.6zM149.1 61.7h3.6v3.7h-3.6zM149.1 68.2h3.6v3.7h-3.6zM149.1 74.7h3.6v3.7h-3.6zM149.1 84.5h3.6v3.7h-3.6zM149.1 87.8h3.6v3.7h-3.6zM149.1 91.0h3.6v3.7h-3.6zM149.1 94.3h3.6v3.7h-3.6zM149.1 97.5h3.6v3.7h-3.6zM149.1 100.8h3.6v3.7h-3.6zM149.1 107.3h3.6v3.7h-3.6zM149.1 130.2h3.6v3.7h-3.6zM152.3 25.8h3.6v3.7h-3.6zM152.3 42.1h3.6v3.7h-3.6zM152.3 45.3h3.6v3.7h-3.6zM152.3 55.1h3.6v3.7h-3.6zM152.3 61.7h3.6v3.7h-3.6zM152.3 68.2h3.6v3.7h-3.6zM152.3 71.4h3.6v3.7h-3.6zM152.3 74.7h3.6v3.7h-3.6zM152.3 97.5h3.6v3.7h-3.6zM152.3 100.8h3.6v3.7h-3.6zM152.3 107.3h3.6v3.7h-3.6zM152.3 113.8h3.6v3.7h-3.6zM152.3 117.1h3.6v3.7h-3.6zM155.6 32.3h3.6v3.7h-3.6zM155.6 38.8h3.6v3.7h-3.6zM155.6 48.6h3.6v3.7h-3.6zM155.6 51.9h3.6v3.7h-3.6zM155.6 55.1h3.6v3.7h-3.6zM155.6 64.9h3.6v3.7h-3.6zM155.6 71.4h3.6v3.7h-3.6zM155.6 78.0h3.6v3.7h-3.6zM155.6 81.2h3.6v3.7h-3.6zM155.6 84.5h3.6v3.7h-3.6zM155.6 91.0h3.6v3.7h-3.6zM155.6 94.3h3.6v3.7h-3.6zM155.6 117.1h3.6v3.7h-3.6zM158.8 29.0h3.6v3.7h-3.6zM158.8 38.8h3.6v3.7h-3.6zM158.8 61.7h3.6v3.7h-3.6zM158.8 64.9h3.6v3.7h-3.6zM158.8 68.2h3.6v3.7h-3.6zM158.8 87.8h3.6v3.7h-3.6zM158.8 104.1h3.6v3.7h-3.6zM162.1 38.8h3.6v3.7h-3.6zM162.1 81.2h3.6v3.7h-3.6zM162.1 107.3h3.6v3.7h-3.6zM162.1 110.6h3.6v3.7h-3.6zM165.3 81.2h3.6v3.7h-3.6zM165.3 87.8h3.6v3.7h-3.6zM165.3 91.0h3.6v3.7h-3.6z"/>
<path fill="#2aa3ca" d="M116.6 104.1h3.6v3.7h-3.6zM126.4 45.3h3.6v3.7h-3.6zM126.4 58.4h3.6v3.7h-3.6zM129.6 97.5h3.6v3.7h-3.6zM129.6 104.1h3.6v3.7h-3.6zM132.9 42.1h3.6v3.7h-3.6zM132.9 58.4h3.6v3.7h-3.6zM132.9 74.7h3.6v3.7h-3.6zM136.1 45.3h3.6v3.7h-3.6zM136.1 51.9h3.6v3.7h-3.6zM136.1 61.7h3.6v3.7h-3.6zM136.1 64.9h3.6v3.7h-3.6zM136.1 68.2h3.6v3.7h-3.6zM136.1 81.2h3.6v3.7h-3.6zM136.1 84.5h3.6v3.7h-3.6zM136.1 100.8h3.6v3.7h-3.6zM136.1 104.1h3.6v3.7h-3.6zM139.4 58.4h3.6v3.7h-3.6zM139.4 64.9h3.6v3.7h-3.6zM139.4 78.0h3.6v3.7h-3.6zM139.4 97.5h3.6v3.7h-3.6zM139.4 100.8h3.6v3.7h-3.6zM139.4 107.3h3.6v3.7h-3.6zM142.6 29.0h3.6v3.7h-3.6zM142.6 35.6h3.6v3.7h-3.6zM142.6 48.6h3.6v3.7h-3.6zM142.6 61.7h3.6v3.7h-3.6zM142.6 74.7h3.6v3.7h-3.6zM142.6 84.5h3.6v3.7h-3.6zM142.6 87.8h3.6v3.7h-3.6zM142.6 94.3h3.6v3.7h-3.6zM142.6 107.3h3.6v3.7h-3.6zM145.9 29.0h3.6v3.7h-3.6zM145.9 32.3h3.6v3.7h-3.6zM145.9 35.6h3.6v3.7h-3.6zM145.9 51.9h3.6v3.7h-3.6zM145.9 74.7h3.6v3.7h-3.6zM145.9 84.5h3.6v3.7h-3.6zM145.9 104.1h3.6v3.7h-3.6zM145.9 113.8h3.6v3.7h-3.6zM145.9 143.2h3.6v3.7h-3.6zM149.1 35.6h3.6v3.7h-3.6zM149.1 48.6h3.6v3.7h-3.6zM149.1 58.4h3.6v3.7h-3.6zM149.1 64.9h3.6v3.7h-3.6zM149.1 71.4h3.6v3.7h-3.6zM149.1 81.2h3.6v3.7h-3.6zM149.1 110.6h3.6v3.7h-3.6zM149.1 113.8h3.6v3.7h-3.6zM152.3 22.5h3.6v3.7h-3.6zM152.3 38.8h3.6v3.7h-3.6zM152.3 58.4h3.6v3.7h-3.6zM152.3 64.9h3.6v3.7h-3.6zM152.3 87.8h3.6v3.7h-3.6zM152.3 91.0h3.6v3.7h-3.6zM152.3 94.3h3.6v3.7h-3.6zM152.3 104.1h3.6v3.7h-3.6zM152.3 110.6h3.6v3.7h-3.6zM152.3 120.4h3.6v3.7h-3.6zM155.6 42.1h3.6v3.7h-3.6zM155.6 110.6h3.6v3.7h-3.6zM158.8 35.6h3.6v3.7h-3.6zM158.8 45.3h3.6v3.7h-3.6zM158.8 97.5h3.6v3.7h-3.6zM158.8 107.3h3.6v3.7h-3.6zM158.8 120.4h3.6v3.7h-3.6zM162.1 32.3h3.6v3.7h-3.6zM110.0 6.6h3.0v3.0h-3.0zM87.0 12.3h4.0v3.0h-4.0zM110.0 12.3h4.0v3.0h-4.0zM103.0 15.2h4.0v3.0h-4.0z"/>
<path fill="#3096c5" d="M129.6 35.6h3.6v3.7h-3.6zM145.9 58.4h3.6v3.7h-3.6zM149.1 51.9h3.6v3.7h-3.6zM152.3 35.6h3.6v3.7h-3.6zM155.6 45.3h3.6v3.7h-3.6zM162.1 104.1h3.6v3.7h-3.6z"/>
<path fill="#3889c1" d="M139.4 48.6h3.6v3.7h-3.6zM139.4 71.4h3.6v3.7h-3.6zM142.6 55.1h3.6v3.7h-3.6zM142.6 64.9h3.6v3.7h-3.6zM142.6 71.4h3.6v3.7h-3.6zM142.6 91.0h3.6v3.7h-3.6zM145.9 48.6h3.6v3.7h-3.6zM145.9 87.8h3.6v3.7h-3.6zM145.9 100.8h3.6v3.7h-3.6zM152.3 84.5h3.6v3.7h-3.6zM91.0 6.6h4.0v3.0h-4.0zM103.0 12.3h4.0v3.0h-4.0zM91.0 15.2h4.0v3.0h-4.0z"/>
<path fill="#3f7dbc" d="M139.4 81.2h3.6v3.7h-3.6zM142.6 58.4h3.6v3.7h-3.6zM145.9 42.1h3.6v3.7h-3.6zM145.9 91.0h3.6v3.7h-3.6zM152.3 78.0h3.6v3.7h-3.6zM91.0 9.5h4.0v3.0h-4.0zM103.0 9.5h4.0v3.0h-4.0zM91.0 12.3h4.0v3.0h-4.0z"/>
<path fill="#4671b6" d="M103.0 6.6h4.0v3.0h-4.0z"/>
<path fill="#565dab" d="M99.0 15.2h4.0v3.0h-4.0z"/>
<path fill="#774ba1" d="M99.0 12.3h4.0v3.0h-4.0zM95.0 15.2h4.0v3.0h-4.0z"/>
<path fill="#8049a0" d="M99.0 9.5h4.0v3.0h-4.0z"/>
<path fill="#88479f" d="M99.0 6.6h4.0v3.0h-4.0z"/>
<path fill="#9a489f" d="M95.0 12.3h4.0v3.0h-4.0z"/>
<path fill="#a3499e" d="M95.0 6.6h4.0v3.0h-4.0z"/>
<path fill="#ae4c9e" d="M95.0 9.5h4.0v3.0h-4.0z"/>
<line x1="117.93" y1="6.4" x2="117.93" y2="300.3" stroke="#e80a50" stroke-width="2.1" stroke-dasharray="14.1 14.77" stroke-dashoffset="5.6"/>
<line x1="239.07" y1="6.4" x2="239.07" y2="300.3" stroke="#e80a50" stroke-width="2.1" stroke-dasharray="14.1 14.77" stroke-dashoffset="4.5"/>
<rect x="48.7" y="6.4" width="259.6" height="293.9" fill="none" stroke="#000" stroke-width="2.3"/>
<path d="M48.7 300.3V292.7M57.35 300.3V296.4M66.01 300.3V296.4M74.66 300.3V296.4M83.31 300.3V296.4M91.97 300.3V292.7M100.62 300.3V296.4M109.27 300.3V296.4M117.93 300.3V296.4M126.58 300.3V296.4M135.23 300.3V292.7M143.89 300.3V296.4M152.54 300.3V296.4M161.19 300.3V296.4M169.85 300.3V296.4M178.5 300.3V292.7M187.15 300.3V296.4M195.81 300.3V296.4M204.46 300.3V296.4M213.11 300.3V296.4M221.77 300.3V292.7M230.42 300.3V296.4M239.07 300.3V296.4M247.73 300.3V296.4M256.38 300.3V296.4M265.03 300.3V292.7M273.69 300.3V296.4M282.34 300.3V296.4M290.99 300.3V296.4M299.65 300.3V296.4M308.3 300.3V292.7M48.7 300.3H56.3M48.7 292.98H52.6M48.7 285.66H52.6M48.7 278.33H52.6M48.7 271.01H56.3M48.7 263.69H52.6M48.7 256.37H52.6M48.7 249.05H52.6M48.7 241.72H56.3M48.7 234.4H52.6M48.7 227.08H52.6M48.7 219.76H52.6M48.7 212.44H56.3M48.7 205.11H52.6M48.7 197.79H52.6M48.7 190.47H52.6M48.7 183.15H56.3M48.7 175.83H52.6M48.7 168.5H52.6M48.7 161.18H52.6M48.7 153.86H56.3M48.7 146.54H52.6M48.7 139.22H52.6M48.7 131.89H52.6M48.7 124.57H56.3M48.7 117.25H52.6M48.7 109.93H52.6M48.7 102.61H52.6M48.7 95.28H56.3M48.7 87.96H52.6M48.7 80.64H52.6M48.7 73.32H52.6M48.7 66H56.3M48.7 58.67H52.6M48.7 51.35H52.6M48.7 44.03H52.6M48.7 36.71H56.3M48.7 29.39H52.6M48.7 22.06H52.6M48.7 14.74H52.6M48.7 7.42H56.3" stroke="#000" stroke-width="1.6" fill="none"/>
<defs><linearGradient id="ga" x1="0" y1="1" x2="0" y2="0"><stop offset="0.00%" stop-color="#5ec5d7"/><stop offset="5.00%" stop-color="#5ec5d7"/><stop offset="5.00%" stop-color="#25bdd5"/><stop offset="10.00%" stop-color="#25bdd5"/><stop offset="10.00%" stop-color="#26b0cf"/><stop offset="15.00%" stop-color="#26b0cf"/><stop offset="15.00%" stop-color="#2aa3ca"/><stop offset="20.00%" stop-color="#2aa3ca"/><stop offset="20.00%" stop-color="#3096c5"/><stop offset="25.00%" stop-color="#3096c5"/><stop offset="25.00%" stop-color="#3889c1"/><stop offset="30.00%" stop-color="#3889c1"/><stop offset="30.00%" stop-color="#3f7dbc"/><stop offset="35.00%" stop-color="#3f7dbc"/><stop offset="35.00%" stop-color="#4671b6"/><stop offset="40.00%" stop-color="#4671b6"/><stop offset="40.00%" stop-color="#4e66b0"/><stop offset="45.00%" stop-color="#4e66b0"/><stop offset="45.00%" stop-color="#565dab"/><stop offset="50.00%" stop-color="#565dab"/><stop offset="50.00%" stop-color="#5e57a7"/><stop offset="55.00%" stop-color="#5e57a7"/><stop offset="55.00%" stop-color="#6652a5"/><stop offset="60.00%" stop-color="#6652a5"/><stop offset="60.00%" stop-color="#6e4ea3"/><stop offset="65.00%" stop-color="#6e4ea3"/><stop offset="65.00%" stop-color="#774ba1"/><stop offset="70.00%" stop-color="#774ba1"/><stop offset="70.00%" stop-color="#8049a0"/><stop offset="75.00%" stop-color="#8049a0"/><stop offset="75.00%" stop-color="#88479f"/><stop offset="80.00%" stop-color="#88479f"/><stop offset="80.00%" stop-color="#91479f"/><stop offset="85.00%" stop-color="#91479f"/><stop offset="85.00%" stop-color="#9a489f"/><stop offset="90.00%" stop-color="#9a489f"/><stop offset="90.00%" stop-color="#a3499e"/><stop offset="95.00%" stop-color="#a3499e"/><stop offset="95.00%" stop-color="#ae4c9e"/><stop offset="100.00%" stop-color="#ae4c9e"/></linearGradient></defs>
<rect x="309.3" y="6.4" width="14.9" height="293.9" fill="url(#ga)"/>
<line x1="325.1" y1="5.5" x2="325.1" y2="301.2" stroke="#000" stroke-width="1.8"/>
<path d="M325.1 300.3H317M325.1 259.4H317M325.1 218.5H317M325.1 177.6H317M325.1 136.7H317M325.1 95.81H317M325.1 54.91H317M325.1 14.01H317" stroke="#000" stroke-width="1.6" fill="none"/>
<g class="t"><text x="329.9" y="304.75">0</text><text x="329.9" y="263.85">5</text><text x="329.9" y="222.95">10</text><text x="329.9" y="182.05">15</text><text x="329.9" y="141.15">20</text><text x="329.9" y="100.26">25</text><text x="329.9" y="59.36">30</text><text x="329.9" y="18.46">35</text></g>
<line x1="37.46" y1="313" x2="43.46" y2="313" stroke="#444" stroke-width="1.1"/>
<line x1="80.73" y1="313" x2="86.73" y2="313" stroke="#444" stroke-width="1.1"/>
<line x1="123.99" y1="313" x2="129.99" y2="313" stroke="#444" stroke-width="1.1"/>
<g class="t"><text x="50.7" y="316.9" text-anchor="middle">30</text><text x="93.97" y="316.9" text-anchor="middle">20</text><text x="137.23" y="316.9" text-anchor="middle">10</text><text x="176" y="316.9" text-anchor="middle">0</text><text x="221.57" y="316.9" text-anchor="middle">10</text><text x="264.83" y="316.9" text-anchor="middle">20</text><text x="308.1" y="316.9" text-anchor="middle">30</text></g>
<g class="t"><text x="41.1" y="304.35" text-anchor="end">0</text><text x="41.1" y="275.06" text-anchor="end">2</text><text x="41.1" y="245.77" text-anchor="end">4</text><text x="41.1" y="216.49" text-anchor="end">6</text><text x="41.1" y="187.2" text-anchor="end">8</text><text x="41.1" y="157.91" text-anchor="end">10</text><text x="41.1" y="128.62" text-anchor="end">12</text><text x="41.1" y="99.33" text-anchor="end">14</text><text x="41.1" y="70.05" text-anchor="end">16</text><text x="41.1" y="40.76" text-anchor="end">18</text><text x="41.1" y="11.47" text-anchor="end">20</text></g>
<text class="t" x="177.7" y="337" text-anchor="middle">Axial position (cm)</text>
<text class="t" transform="translate(11.1 152) rotate(-90)" text-anchor="middle">Time (s)</text>
<text class="L" transform="translate(282.45 33) scale(0.85 1)">a</text>
<text class="L" x="295.5" y="31.4" style="font-size:26px">)</text>
<path fill="#26b0cf" d="M488.1 7.3h3.5v3.5h-3.5zM454.6 13.3h3.5v3.5h-3.5zM498.8 13.3h3.5v3.5h-3.5zM503.8 16.1h3.5v3.5h-3.5zM503.8 19.0h3.5v3.5h-3.5zM493.5 19.0h3.5v3.5h-3.5zM513.7 16.1h3.5v3.5h-3.5zM517.0 13.3h3.5v3.5h-3.5zM537.3 10.2h3.5v3.5h-3.5zM495.7 28.1h3.5v3.5h-3.5zM517.0 25.1h3.5v3.5h-3.5zM524.6 25.1h3.5v3.5h-3.5zM446.5 33.8h3.5v3.5h-3.5zM488.5 39.5h3.5v3.5h-3.5zM491.1 39.5h3.5v3.5h-3.5zM511.5 42.6h3.5v3.5h-3.5zM542.2 36.9h3.5v3.5h-3.5zM428.3 48.3h3.5v3.5h-3.5zM426.1 65.8h3.5v3.5h-3.5zM449.1 65.8h3.5v3.5h-3.5zM451.9 74.8h3.5v3.5h-3.5zM444.1 77.9h3.5v3.5h-3.5zM488.1 69.1h3.5v3.5h-3.5zM493.5 69.1h3.5v3.5h-3.5zM498.8 71.9h3.5v3.5h-3.5zM495.7 74.8h3.5v3.5h-3.5zM467.7 86.6h3.5v3.5h-3.5zM483.0 83.5h3.5v3.5h-3.5zM483.0 89.5h3.5v3.5h-3.5zM488.1 86.6h3.5v3.5h-3.5zM493.5 83.5h3.5v3.5h-3.5zM493.5 89.5h3.5v3.5h-3.5zM511.5 83.5h3.5v3.5h-3.5zM522.4 86.6h3.5v3.5h-3.5zM527.3 83.5h3.5v3.5h-3.5zM527.3 92.7h3.5v3.5h-3.5zM493.5 107.0h3.5v3.5h-3.5zM503.8 104.4h3.5v3.5h-3.5zM423.5 113.1h3.5v3.5h-3.5zM454.6 113.1h3.5v3.5h-3.5zM469.9 110.3h3.5v3.5h-3.5zM485.2 113.1h3.5v3.5h-3.5zM498.8 116.2h3.5v3.5h-3.5zM493.5 121.9h3.5v3.5h-3.5zM498.8 124.9h3.5v3.5h-3.5zM537.3 119.0h3.5v3.5h-3.5zM459.6 131.1h3.5v3.5h-3.5zM483.0 131.1h3.5v3.5h-3.5zM493.5 133.7h3.5v3.5h-3.5zM527.3 131.1h3.5v3.5h-3.5zM462.2 139.4h3.5v3.5h-3.5zM469.9 136.5h3.5v3.5h-3.5zM485.2 136.5h3.5v3.5h-3.5zM537.3 145.3h3.5v3.5h-3.5zM488.1 151.2h3.5v3.5h-3.5zM490.7 154.1h3.5v3.5h-3.5zM483.0 154.1h3.5v3.5h-3.5zM475.4 156.2h3.5v3.5h-3.5zM517.0 156.2h3.5v3.5h-3.5zM522.4 154.1h3.5v3.5h-3.5zM535.6 156.2h3.5v3.5h-3.5zM558.5 45.5h3.5v3.5h-3.5zM571.4 42.6h3.5v3.5h-3.5zM576.6 39.6h3.5v3.5h-3.5zM579.0 45.5h3.5v3.5h-3.5zM597.6 54.6h3.5v3.5h-3.5zM576.6 19.0h3.5v3.5h-3.5zM574.0 28.1h3.5v3.5h-3.5zM576.6 33.8h3.5v3.5h-3.5zM576.6 39.5h3.5v3.5h-3.5zM555.8 36.7h3.5v3.5h-3.5zM605.1 12.8h3.5v3.5h-3.5zM605.1 16.1h3.5v3.5h-3.5zM602.2 19.0h3.5v3.5h-3.5zM605.1 25.1h3.5v3.5h-3.5zM626.3 16.1h3.5v3.5h-3.5zM571.4 54.0h3.5v3.5h-3.5zM576.6 54.0h3.5v3.5h-3.5zM571.4 59.9h3.5v3.5h-3.5zM574.0 59.9h3.5v3.5h-3.5zM584.3 54.0h3.5v3.5h-3.5zM600.0 54.0h3.5v3.5h-3.5zM602.4 80.9h3.5v3.5h-3.5zM568.3 83.5h3.5v3.5h-3.5zM558.7 86.6h3.5v3.5h-3.5zM563.5 89.5h3.5v3.5h-3.5zM558.7 92.7h3.5v3.5h-3.5zM563.5 95.6h3.5v3.5h-3.5zM558.7 98.2h3.5v3.5h-3.5zM615.6 89.5h3.5v3.5h-3.5zM555.8 104.1h3.5v3.5h-3.5zM579.2 107.0h3.5v3.5h-3.5zM595.0 104.1h3.5v3.5h-3.5zM602.4 113.1h3.5v3.5h-3.5zM566.1 119.0h3.5v3.5h-3.5zM600.0 124.9h3.5v3.5h-3.5zM618.2 121.9h3.5v3.5h-3.5zM618.2 127.8h3.5v3.5h-3.5zM555.8 127.8h3.5v3.5h-3.5zM560.8 139.4h3.5v3.5h-3.5zM566.1 142.5h3.5v3.5h-3.5zM600.0 139.4h3.5v3.5h-3.5zM581.4 145.3h3.5v3.5h-3.5zM597.4 154.1h3.5v3.5h-3.5zM475.4 157.4h3.5v3.5h-3.5zM488.1 157.4h3.5v3.5h-3.5zM493.5 157.4h3.5v3.5h-3.5zM493.5 160.2h3.5v3.5h-3.5zM503.8 160.2h3.5v3.5h-3.5zM517.0 157.4h3.5v3.5h-3.5zM535.1 157.4h3.5v3.5h-3.5zM490.7 169.0h3.5v3.5h-3.5zM444.1 175.1h3.5v3.5h-3.5zM438.8 181.0h3.5v3.5h-3.5zM511.5 177.9h3.5v3.5h-3.5zM537.3 175.1h3.5v3.5h-3.5zM488.1 186.9h3.5v3.5h-3.5zM490.7 192.6h3.5v3.5h-3.5zM488.1 195.2h3.5v3.5h-3.5zM498.8 198.5h3.5v3.5h-3.5zM501.2 195.2h3.5v3.5h-3.5zM503.8 198.5h3.5v3.5h-3.5zM517.0 195.2h3.5v3.5h-3.5zM537.3 195.2h3.5v3.5h-3.5zM436.4 201.4h3.5v3.5h-3.5zM444.1 210.1h3.5v3.5h-3.5zM475.4 210.1h3.5v3.5h-3.5zM493.5 207.3h3.5v3.5h-3.5zM431.1 221.5h3.5v3.5h-3.5zM493.5 218.9h3.5v3.5h-3.5zM436.4 227.6h3.5v3.5h-3.5zM441.4 227.6h3.5v3.5h-3.5zM490.7 227.6h3.5v3.5h-3.5zM485.2 233.6h3.5v3.5h-3.5zM498.8 236.4h3.5v3.5h-3.5zM509.3 236.4h3.5v3.5h-3.5zM509.3 239.5h3.5v3.5h-3.5zM488.1 242.3h3.5v3.5h-3.5zM490.7 242.3h3.5v3.5h-3.5zM488.1 251.1h3.5v3.5h-3.5zM493.5 248.2h3.5v3.5h-3.5zM498.8 248.2h3.5v3.5h-3.5zM469.9 257.0h3.5v3.5h-3.5zM472.5 257.0h3.5v3.5h-3.5zM446.5 260.3h3.5v3.5h-3.5zM483.0 260.3h3.5v3.5h-3.5zM532.3 257.0h3.5v3.5h-3.5zM475.4 263.1h3.5v3.5h-3.5zM478.0 263.1h3.5v3.5h-3.5zM511.5 263.1h3.5v3.5h-3.5zM517.0 263.1h3.5v3.5h-3.5zM498.8 274.7h3.5v3.5h-3.5zM483.0 277.8h3.5v3.5h-3.5zM413.0 283.5h3.5v3.5h-3.5zM488.1 286.5h3.5v3.5h-3.5zM436.4 292.2h3.5v3.5h-3.5zM444.1 292.2h3.5v3.5h-3.5zM490.7 294.9h3.5v3.5h-3.5zM545.3 160.2h3.5v3.5h-3.5zM571.4 163.0h3.5v3.5h-3.5zM548.6 169.0h3.5v3.5h-3.5zM550.8 169.0h3.5v3.5h-3.5zM553.4 165.9h3.5v3.5h-3.5zM553.4 180.6h3.5v3.5h-3.5zM560.8 177.7h3.5v3.5h-3.5zM563.5 180.6h3.5v3.5h-3.5zM595.0 177.7h3.5v3.5h-3.5zM605.1 186.5h3.5v3.5h-3.5zM607.7 183.6h3.5v3.5h-3.5zM579.2 189.3h3.5v3.5h-3.5zM553.4 201.1h3.5v3.5h-3.5zM560.8 207.3h3.5v3.5h-3.5zM574.0 212.8h3.5v3.5h-3.5zM574.0 210.1h3.5v3.5h-3.5zM576.6 207.3h3.5v3.5h-3.5zM591.9 213.2h3.5v3.5h-3.5zM568.7 218.9h3.5v3.5h-3.5zM589.7 221.5h3.5v3.5h-3.5zM568.7 227.4h3.5v3.5h-3.5zM609.9 227.4h3.5v3.5h-3.5zM553.4 230.7h3.5v3.5h-3.5zM555.8 236.4h3.5v3.5h-3.5zM560.8 233.3h3.5v3.5h-3.5zM591.9 230.7h3.5v3.5h-3.5zM574.0 263.1h3.5v3.5h-3.5zM631.4 269.0h3.5v3.5h-3.5zM560.8 274.7h3.5v3.5h-3.5zM563.5 280.6h3.5v3.5h-3.5zM574.0 274.7h3.5v3.5h-3.5zM591.9 277.8h3.5v3.5h-3.5zM615.6 274.7h3.5v3.5h-3.5zM571.4 286.5h3.5v3.5h-3.5zM555.8 292.2h3.5v3.5h-3.5zM615.6 292.2h3.5v3.5h-3.5zM464.8 54.1h3.2v3.3h-3.2zM470.7 54.1h3.2v3.3h-3.2zM485.9 54.1h3.3v3.3h-3.3zM501.6 54.1h3.2v3.3h-3.2zM519.6 54.1h3.2v3.3h-3.2zM457.2 57.1h3.3v3.2h-3.3zM467.7 57.1h3.3v3.2h-3.3zM501.0 57.1h5.6v3.2h-5.6zM460.2 60.1h3.2v3.6h-3.2zM466.6 60.1h6.7v3.6h-6.7zM475.9 60.1h3.8v3.6h-3.8zM493.4 60.1h2.7v3.6h-2.7zM507.5 60.1h6.1v3.6h-6.1zM513.2 60.1h5.0v3.6h-5.0zM460.2 63.4h3.2v3.4h-3.2zM475.9 63.4h3.2v3.4h-3.2zM488.8 68.2h3.2v3.2h-3.2zM494.0 68.2h3.2v3.2h-3.2zM499.2 71.6h3.2v3.3h-3.2zM547.9 51.0h19.0v3.2h-19.0zM519.9 53.9h3.2v3.8h-3.2zM524.6 53.9h3.2v3.8h-3.2zM535.1 53.9h3.8v3.8h-3.8zM547.9 53.9h14.3v3.8h-14.3zM571.2 53.9h3.8v3.8h-3.8zM577.1 53.9h3.2v3.8h-3.2zM584.6 53.9h3.2v3.8h-3.2zM592.2 51.6h3.8v3.2h-3.8zM524.6 57.4h3.2v3.2h-3.2zM540.2 57.4h3.3v3.2h-3.3zM545.0 57.4h3.2v3.2h-3.2zM552.6 57.4h3.8v3.2h-3.8zM524.6 60.2h3.2v3.3h-3.2zM547.9 60.2h3.3v3.3h-3.3zM571.2 60.2h6.1v3.3h-6.1z"/>
<path fill="#3f7dbc" d="M495.7 42.6h3.5v3.5h-3.5zM495.7 104.4h3.5v3.5h-3.5zM488.1 145.3h3.5v3.5h-3.5zM591.9 51.1h3.5v3.5h-3.5zM589.7 54.0h3.5v3.5h-3.5zM498.8 218.9h3.5v3.5h-3.5zM457.2 263.1h3.5v3.5h-3.5zM462.2 263.1h3.5v3.5h-3.5zM465.1 263.1h3.5v3.5h-3.5zM496.2 274.7h3.5v3.5h-3.5zM493.5 283.5h3.5v3.5h-3.5zM488.1 294.9h3.5v3.5h-3.5zM558.4 294.9h3.5v3.5h-3.5zM577.0 298.2h3.5v3.5h-3.5zM485.9 51.2h3.2v3.2h-3.2zM488.8 57.1h4.4v3.2h-4.4zM479.4 60.1h4.4v3.6h-4.4zM503.9 60.1h3.9v3.6h-3.9zM518.0 60.1h2.6v3.6h-2.6zM466.6 63.4h3.2v3.4h-3.2zM491.1 63.4h3.2v3.4h-3.2zM563.6 53.9h3.2v3.8h-3.2zM590.0 53.9h3.2v3.8h-3.2z"/>
<path fill="#4671b6" d="M545.0 53.9h3.2v3.8h-3.2z"/>
<path fill="#4e66b0" d="M509.8 57.1h6.1v3.2h-6.1z"/>
<path fill="#565dab" d="M485.9 60.1h3.2v3.6h-3.2zM530.4 53.9h4.4v3.8h-4.4z"/>
<path fill="#5e57a7" d="M495.8 57.1h5.5v3.2h-5.5z"/>
<path fill="#6e4ea3" d="M515.6 57.1h4.6v3.2h-4.6zM488.8 60.1h4.9v3.6h-4.9zM495.8 60.1h4.9v3.6h-4.9zM566.6 51.0h3.2v3.2h-3.2zM519.9 57.4h5.0v3.2h-5.0zM527.5 57.4h4.4v3.2h-4.4z"/>
<path fill="#774ba1" d="M539.8 53.9h5.5v3.8h-5.5z"/>
<path fill="#8049a0" d="M531.6 57.4h7.3v3.2h-7.3z"/>
<path fill="#91479f" d="M506.2 57.1h3.8v3.2h-3.8zM547.9 57.4h5.0v3.2h-5.0z"/>
<line x1="464.55" y1="7.8" x2="464.55" y2="301.3" stroke="#e80a50" stroke-width="2.1" stroke-dasharray="14.1 14.77" stroke-dashoffset="6.15"/>
<line x1="585.75" y1="7.8" x2="585.75" y2="301.3" stroke="#e80a50" stroke-width="2.1" stroke-dasharray="14.1 14.77" stroke-dashoffset="6.15"/>
<rect x="395.3" y="7.8" width="259.7" height="293.5" fill="none" stroke="#000" stroke-width="2.3"/>
<path d="M395.3 301.3V293.7M403.96 301.3V297.4M412.61 301.3V297.4M421.27 301.3V297.4M429.93 301.3V297.4M438.58 301.3V293.7M447.24 301.3V297.4M455.9 301.3V297.4M464.55 301.3V297.4M473.21 301.3V297.4M481.87 301.3V293.7M490.52 301.3V297.4M499.18 301.3V297.4M507.84 301.3V297.4M516.49 301.3V297.4M525.15 301.3V293.7M533.81 301.3V297.4M542.46 301.3V297.4M551.12 301.3V297.4M559.78 301.3V297.4M568.43 301.3V293.7M577.09 301.3V297.4M585.75 301.3V297.4M594.4 301.3V297.4M603.06 301.3V297.4M611.72 301.3V293.7M620.37 301.3V297.4M629.03 301.3V297.4M637.69 301.3V297.4M646.34 301.3V297.4M655 301.3V293.7M395.3 301.3H402.9M395.3 293.78H399.2M395.3 286.26H399.2M395.3 278.75H399.2M395.3 271.23H399.2M395.3 263.71H402.9M395.3 256.19H399.2M395.3 248.67H399.2M395.3 241.16H399.2M395.3 233.64H399.2M395.3 226.12H402.9M395.3 218.6H399.2M395.3 211.08H399.2M395.3 203.57H399.2M395.3 196.05H399.2M395.3 188.53H402.9M395.3 181.01H399.2M395.3 173.5H399.2M395.3 165.98H399.2M395.3 158.46H399.2M395.3 150.94H402.9M395.3 143.42H399.2M395.3 135.91H399.2M395.3 128.39H399.2M395.3 120.87H399.2M395.3 113.35H402.9M395.3 105.83H399.2M395.3 98.32H399.2M395.3 90.8H399.2M395.3 83.28H399.2M395.3 75.76H402.9M395.3 68.24H399.2M395.3 60.73H399.2M395.3 53.21H399.2M395.3 45.69H399.2M395.3 38.17H402.9M395.3 30.65H399.2M395.3 23.14H399.2M395.3 15.62H399.2M395.3 8.1H399.2" stroke="#000" stroke-width="1.6" fill="none"/>
<defs><linearGradient id="gb" x1="0" y1="1" x2="0" y2="0"><stop offset="0.00%" stop-color="#5ec5d7"/><stop offset="5.00%" stop-color="#5ec5d7"/><stop offset="5.00%" stop-color="#25bdd5"/><stop offset="10.00%" stop-color="#25bdd5"/><stop offset="10.00%" stop-color="#26b0cf"/><stop offset="15.00%" stop-color="#26b0cf"/><stop offset="15.00%" stop-color="#2aa3ca"/><stop offset="20.00%" stop-color="#2aa3ca"/><stop offset="20.00%" stop-color="#3096c5"/><stop offset="25.00%" stop-color="#3096c5"/><stop offset="25.00%" stop-color="#3889c1"/><stop offset="30.00%" stop-color="#3889c1"/><stop offset="30.00%" stop-color="#3f7dbc"/><stop offset="35.00%" stop-color="#3f7dbc"/><stop offset="35.00%" stop-color="#4671b6"/><stop offset="40.00%" stop-color="#4671b6"/><stop offset="40.00%" stop-color="#4e66b0"/><stop offset="45.00%" stop-color="#4e66b0"/><stop offset="45.00%" stop-color="#565dab"/><stop offset="50.00%" stop-color="#565dab"/><stop offset="50.00%" stop-color="#5e57a7"/><stop offset="55.00%" stop-color="#5e57a7"/><stop offset="55.00%" stop-color="#6652a5"/><stop offset="60.00%" stop-color="#6652a5"/><stop offset="60.00%" stop-color="#6e4ea3"/><stop offset="65.00%" stop-color="#6e4ea3"/><stop offset="65.00%" stop-color="#774ba1"/><stop offset="70.00%" stop-color="#774ba1"/><stop offset="70.00%" stop-color="#8049a0"/><stop offset="75.00%" stop-color="#8049a0"/><stop offset="75.00%" stop-color="#88479f"/><stop offset="80.00%" stop-color="#88479f"/><stop offset="80.00%" stop-color="#91479f"/><stop offset="85.00%" stop-color="#91479f"/><stop offset="85.00%" stop-color="#9a489f"/><stop offset="90.00%" stop-color="#9a489f"/><stop offset="90.00%" stop-color="#a3499e"/><stop offset="95.00%" stop-color="#a3499e"/><stop offset="95.00%" stop-color="#ae4c9e"/><stop offset="100.00%" stop-color="#ae4c9e"/></linearGradient></defs>
<rect x="656" y="7.8" width="14.1" height="293.5" fill="url(#gb)"/>
<line x1="671" y1="6.9" x2="671" y2="302.2" stroke="#000" stroke-width="1.8"/>
<path d="M671 301.3H662.9M671 259.37H662.9M671 217.44H662.9M671 175.51H662.9M671 133.59H662.9M671 91.66H662.9M671 49.73H662.9M671 7.8H662.9" stroke="#000" stroke-width="1.6" fill="none"/>
<g class="t"><text x="676.3" y="305.75">0</text><text x="676.3" y="263.82">1</text><text x="676.3" y="221.89">2</text><text x="676.3" y="179.96">3</text><text x="676.3" y="138.04">4</text><text x="676.3" y="96.11">5</text><text x="676.3" y="54.18">6</text><text x="676.3" y="12.25">7</text></g>
<line x1="386.66" y1="314.3" x2="392.66" y2="314.3" stroke="#444" stroke-width="1.1"/>
<line x1="429.94" y1="314.3" x2="435.94" y2="314.3" stroke="#444" stroke-width="1.1"/>
<line x1="473.23" y1="314.3" x2="479.23" y2="314.3" stroke="#444" stroke-width="1.1"/>
<g class="t"><text x="399.9" y="318.2" text-anchor="middle">30</text><text x="443.18" y="318.2" text-anchor="middle">20</text><text x="486.47" y="318.2" text-anchor="middle">10</text><text x="525.25" y="318.2" text-anchor="middle">0</text><text x="570.83" y="318.2" text-anchor="middle">10</text><text x="614.12" y="318.2" text-anchor="middle">20</text><text x="657.4" y="318.2" text-anchor="middle">30</text></g>
<g class="t"><text x="388.1" y="305.75" text-anchor="end">0</text><text x="388.1" y="268.16" text-anchor="end">1</text><text x="388.1" y="230.57" text-anchor="end">2</text><text x="388.1" y="192.98" text-anchor="end">3</text><text x="388.1" y="155.39" text-anchor="end">4</text><text x="388.1" y="117.8" text-anchor="end">5</text><text x="388.1" y="80.21" text-anchor="end">6</text><text x="388.1" y="42.62" text-anchor="end">7</text></g>
<text class="t" x="528.3" y="336.5" text-anchor="middle">Axial Position (cm)</text>
<text class="t" transform="translate(370.8 149.4) rotate(-90)" text-anchor="middle">Time (s)</text>
<text class="L" transform="translate(622.3 36.9) scale(1 1)">b</text>
<text class="L" x="637.7" y="35.3" style="font-size:26px">)</text>
<path fill="#25bdd5" d="M123.7 358.1h3.5v3.5h-3.5zM121.0 366.9h3.5v3.5h-3.5zM128.9 366.9h3.5v3.5h-3.5zM154.9 378.6h3.5v3.5h-3.5zM147.1 384.4h3.5v3.5h-3.5zM141.8 389.9h3.5v3.5h-3.5zM141.8 393.4h3.5v3.5h-3.5zM152.2 404.9h3.5v3.5h-3.5zM170.4 404.9h3.5v3.5h-3.5zM115.8 416.9h3.5v3.5h-3.5zM113.2 422.6h3.5v3.5h-3.5zM117.8 430.2h3.5v3.5h-3.5zM165.2 430.2h3.5v3.5h-3.5zM258.2 372.8h3.5v3.5h-3.5zM243.2 417.1h3.5v3.5h-3.5zM155.7 436.9h3.5v3.5h-3.5zM232.8 434.4h3.5v3.5h-3.5zM240.8 434.4h3.5v3.5h-3.5zM222.3 446.1h3.5v3.5h-3.5zM227.4 452.1h3.5v3.5h-3.5zM235.2 452.1h3.5v3.5h-3.5zM222.3 454.8h3.5v3.5h-3.5zM211.9 455.2h3.5v3.5h-3.5zM212.8 459.2h3.5v3.5h-3.5zM235.2 457.9h3.5v3.5h-3.5zM232.8 463.8h3.5v3.5h-3.5zM238.3 463.8h3.5v3.5h-3.5zM212.8 464.1h3.5v3.5h-3.5zM211.9 469.8h3.5v3.5h-3.5zM218.3 469.8h3.5v3.5h-3.5zM219.9 469.8h3.5v3.5h-3.5zM243.2 472.4h3.5v3.5h-3.5zM246.2 469.8h3.5v3.5h-3.5zM235.2 472.4h3.5v3.5h-3.5zM230.3 478.1h3.5v3.5h-3.5zM232.8 476.1h3.5v3.5h-3.5zM235.6 480.1h3.5v3.5h-3.5zM238.1 484.6h3.5v3.5h-3.5zM240.8 478.1h3.5v3.5h-3.5zM248.1 481.4h3.5v3.5h-3.5zM253.7 481.4h3.5v3.5h-3.5zM256.4 478.1h3.5v3.5h-3.5zM258.9 478.1h3.5v3.5h-3.5zM268.9 475.9h3.5v3.5h-3.5zM219.2 478.1h3.5v3.5h-3.5zM222.3 481.4h3.5v3.5h-3.5zM219.9 484.9h3.5v3.5h-3.5zM243.2 487.4h3.5v3.5h-3.5zM232.8 492.9h3.5v3.5h-3.5zM245.7 495.9h3.5v3.5h-3.5zM222.3 495.9h3.5v3.5h-3.5zM232.8 498.6h3.5v3.5h-3.5zM232.8 501.1h3.5v3.5h-3.5zM235.2 498.6h3.5v3.5h-3.5zM227.4 501.9h3.5v3.5h-3.5zM245.7 504.6h3.5v3.5h-3.5zM223.9 507.4h3.5v3.5h-3.5zM116.0 511.0h3.5v3.5h-3.5zM150.2 517.0h3.5v3.5h-3.5zM165.4 513.5h3.5v3.5h-3.5zM131.2 522.6h3.5v3.5h-3.5zM131.2 525.4h3.5v3.5h-3.5zM170.6 525.4h3.5v3.5h-3.5zM188.6 531.2h3.5v3.5h-3.5zM217.2 528.4h3.5v3.5h-3.5zM118.8 528.4h3.5v3.5h-3.5zM121.5 540.0h3.5v3.5h-3.5zM147.1 549.2h3.5v3.5h-3.5zM167.9 549.2h3.5v3.5h-3.5zM121.0 549.2h3.5v3.5h-3.5zM118.8 552.2h3.5v3.5h-3.5zM126.2 560.9h3.5v3.5h-3.5zM128.7 563.8h3.5v3.5h-3.5zM118.5 563.8h3.5v3.5h-3.5zM159.9 560.9h3.5v3.5h-3.5zM159.9 563.8h3.5v3.5h-3.5zM136.8 575.4h3.5v3.5h-3.5zM175.7 575.4h3.5v3.5h-3.5zM128.7 578.5h3.5v3.5h-3.5zM118.5 573.8h3.5v3.5h-3.5zM118.5 581.0h3.5v3.5h-3.5zM136.8 587.0h3.5v3.5h-3.5zM154.8 596.2h3.5v3.5h-3.5zM167.9 598.9h3.5v3.5h-3.5zM188.6 596.2h3.5v3.5h-3.5zM141.9 602.0h3.5v3.5h-3.5zM173.2 611.0h3.5v3.5h-3.5zM157.2 616.6h3.5v3.5h-3.5zM206.8 616.6h3.5v3.5h-3.5zM121.5 619.8h3.5v3.5h-3.5zM131.8 631.4h3.5v3.5h-3.5zM194.1 631.4h3.5v3.5h-3.5zM212.1 634.0h3.5v3.5h-3.5zM235.3 628.4h3.5v3.5h-3.5zM196.6 639.8h3.5v3.5h-3.5zM116.5 596.2h3.5v3.5h-3.5zM256.1 522.5h3.5v3.5h-3.5zM61.1 399.1h3.5v3.5h-3.5zM69.2 575.4h3.5v3.5h-3.5zM119.2 439.6h3.5v3.5h-3.5zM122.7 442.2h3.5v3.5h-3.5zM126.2 439.6h3.5v3.5h-3.5zM128.8 443.1h3.5v3.5h-3.5zM118.3 451.9h3.5v3.5h-3.5zM126.2 454.4h3.5v3.5h-3.5zM134.1 451.9h3.5v3.5h-3.5zM136.7 454.4h3.5v3.5h-3.5zM136.7 458.9h3.5v3.5h-3.5zM131.3 457.9h3.5v3.5h-3.5zM142.8 457.9h3.5v3.5h-3.5zM146.2 455.4h3.5v3.5h-3.5zM112.2 458.9h3.5v3.5h-3.5zM115.7 458.9h3.5v3.5h-3.5zM154.9 445.8h3.5v3.5h-3.5zM154.9 451.9h3.5v3.5h-3.5zM129.7 469.2h3.5v3.5h-3.5zM131.3 471.1h3.5v3.5h-3.5zM139.2 469.2h3.5v3.5h-3.5zM115.7 472.8h3.5v3.5h-3.5zM121.0 472.8h3.5v3.5h-3.5zM125.2 472.8h3.5v3.5h-3.5zM136.7 475.4h3.5v3.5h-3.5zM149.8 472.8h3.5v3.5h-3.5zM152.3 475.4h3.5v3.5h-3.5zM157.6 475.4h3.5v3.5h-3.5zM147.1 480.6h3.5v3.5h-3.5zM115.7 478.1h3.5v3.5h-3.5zM121.0 490.2h3.5v3.5h-3.5zM121.0 493.8h3.5v3.5h-3.5zM128.8 490.2h3.5v3.5h-3.5zM139.2 492.9h3.5v3.5h-3.5zM120.0 498.9h3.5v3.5h-3.5zM123.5 501.6h3.5v3.5h-3.5zM152.3 492.9h3.5v3.5h-3.5zM152.3 496.4h3.5v3.5h-3.5zM154.9 498.9h3.5v3.5h-3.5zM149.8 501.6h3.5v3.5h-3.5zM160.2 495.4h3.5v3.5h-3.5zM74.8 590.2h3.6v3.7h-3.6zM74.8 474.6h3.6v3.7h-3.6zM74.8 451.5h3.6v3.7h-3.6zM74.8 395.4h3.6v3.7h-3.6zM74.8 369.0h3.6v3.7h-3.6zM78.0 623.2h3.6v3.7h-3.6zM78.0 590.2h3.6v3.7h-3.6zM78.0 586.9h3.6v3.7h-3.6zM78.0 570.4h3.6v3.7h-3.6zM78.0 484.5h3.6v3.7h-3.6zM78.0 458.1h3.6v3.7h-3.6zM78.0 441.6h3.6v3.7h-3.6zM78.0 369.0h3.6v3.7h-3.6zM81.3 643.0h3.6v3.7h-3.6zM81.3 613.3h3.6v3.7h-3.6zM81.3 593.5h3.6v3.7h-3.6zM81.3 586.9h3.6v3.7h-3.6zM81.3 573.7h3.6v3.7h-3.6zM81.3 570.4h3.6v3.7h-3.6zM81.3 553.9h3.6v3.7h-3.6zM81.3 547.3h3.6v3.7h-3.6zM81.3 507.7h3.6v3.7h-3.6zM81.3 494.4h3.6v3.7h-3.6zM81.3 481.2h3.6v3.7h-3.6zM81.3 458.1h3.6v3.7h-3.6zM81.3 405.3h3.6v3.7h-3.6zM81.3 398.7h3.6v3.7h-3.6zM81.3 385.5h3.6v3.7h-3.6zM81.3 378.9h3.6v3.7h-3.6zM81.3 375.6h3.6v3.7h-3.6zM81.3 362.4h3.6v3.7h-3.6zM84.5 643.0h3.6v3.7h-3.6zM84.5 633.1h3.6v3.7h-3.6zM84.5 629.8h3.6v3.7h-3.6zM84.5 623.2h3.6v3.7h-3.6zM84.5 619.9h3.6v3.7h-3.6zM84.5 613.3h3.6v3.7h-3.6zM84.5 606.7h3.6v3.7h-3.6zM84.5 600.1h3.6v3.7h-3.6zM84.5 593.5h3.6v3.7h-3.6zM84.5 570.4h3.6v3.7h-3.6zM84.5 567.1h3.6v3.7h-3.6zM84.5 557.2h3.6v3.7h-3.6zM84.5 553.9h3.6v3.7h-3.6zM84.5 547.3h3.6v3.7h-3.6zM84.5 544.0h3.6v3.7h-3.6zM84.5 530.8h3.6v3.7h-3.6zM84.5 520.9h3.6v3.7h-3.6zM84.5 514.3h3.6v3.7h-3.6zM84.5 511.0h3.6v3.7h-3.6zM84.5 507.7h3.6v3.7h-3.6zM84.5 501.1h3.6v3.7h-3.6zM84.5 494.4h3.6v3.7h-3.6zM84.5 471.3h3.6v3.7h-3.6zM84.5 461.4h3.6v3.7h-3.6zM84.5 454.8h3.6v3.7h-3.6zM84.5 451.5h3.6v3.7h-3.6zM84.5 448.2h3.6v3.7h-3.6zM84.5 435.0h3.6v3.7h-3.6zM84.5 431.7h3.6v3.7h-3.6zM84.5 415.2h3.6v3.7h-3.6zM84.5 411.9h3.6v3.7h-3.6zM84.5 388.8h3.6v3.7h-3.6zM84.5 385.5h3.6v3.7h-3.6zM84.5 375.6h3.6v3.7h-3.6zM84.5 372.3h3.6v3.7h-3.6zM84.5 365.7h3.6v3.7h-3.6zM84.5 359.1h3.6v3.7h-3.6zM87.8 590.2h3.6v3.7h-3.6zM87.8 544.0h3.6v3.7h-3.6zM87.8 537.4h3.6v3.7h-3.6zM87.8 504.4h3.6v3.7h-3.6zM87.8 428.4h3.6v3.7h-3.6zM87.8 421.8h3.6v3.7h-3.6zM87.8 418.5h3.6v3.7h-3.6zM87.8 411.9h3.6v3.7h-3.6zM87.8 388.8h3.6v3.7h-3.6zM87.8 359.1h3.6v3.7h-3.6zM91.0 586.9h3.6v3.7h-3.6zM91.0 580.3h3.6v3.7h-3.6zM91.0 431.7h3.6v3.7h-3.6zM97.5 593.5h3.6v3.7h-3.6zM97.5 487.8h3.6v3.7h-3.6zM97.5 468.0h3.6v3.7h-3.6zM97.5 461.4h3.6v3.7h-3.6zM97.5 395.4h3.6v3.7h-3.6zM97.5 372.3h3.6v3.7h-3.6zM100.8 619.9h3.6v3.7h-3.6zM100.8 613.3h3.6v3.7h-3.6zM100.8 600.1h3.6v3.7h-3.6zM100.8 596.8h3.6v3.7h-3.6zM100.8 580.3h3.6v3.7h-3.6zM100.8 553.9h3.6v3.7h-3.6zM100.8 547.3h3.6v3.7h-3.6zM100.8 497.7h3.6v3.7h-3.6zM100.8 487.8h3.6v3.7h-3.6zM100.8 471.3h3.6v3.7h-3.6zM100.8 461.4h3.6v3.7h-3.6zM100.8 448.2h3.6v3.7h-3.6zM100.8 428.4h3.6v3.7h-3.6zM100.8 415.2h3.6v3.7h-3.6zM100.8 411.9h3.6v3.7h-3.6zM100.8 385.5h3.6v3.7h-3.6zM100.8 359.1h3.6v3.7h-3.6zM100.8 355.8h3.6v3.7h-3.6zM100.8 352.5h3.6v3.7h-3.6zM104.0 626.5h3.6v3.7h-3.6zM104.0 623.2h3.6v3.7h-3.6zM104.0 619.9h3.6v3.7h-3.6zM104.0 613.3h3.6v3.7h-3.6zM104.0 606.7h3.6v3.7h-3.6zM104.0 600.1h3.6v3.7h-3.6zM104.0 590.2h3.6v3.7h-3.6zM104.0 570.4h3.6v3.7h-3.6zM104.0 563.8h3.6v3.7h-3.6zM104.0 560.5h3.6v3.7h-3.6zM104.0 557.2h3.6v3.7h-3.6zM104.0 530.8h3.6v3.7h-3.6zM104.0 527.5h3.6v3.7h-3.6zM104.0 524.2h3.6v3.7h-3.6zM104.0 520.9h3.6v3.7h-3.6zM104.0 504.4h3.6v3.7h-3.6zM104.0 494.4h3.6v3.7h-3.6zM104.0 491.1h3.6v3.7h-3.6zM104.0 477.9h3.6v3.7h-3.6zM104.0 464.7h3.6v3.7h-3.6zM104.0 435.0h3.6v3.7h-3.6zM104.0 428.4h3.6v3.7h-3.6zM104.0 421.8h3.6v3.7h-3.6zM104.0 418.5h3.6v3.7h-3.6zM104.0 411.9h3.6v3.7h-3.6zM104.0 395.4h3.6v3.7h-3.6zM104.0 392.1h3.6v3.7h-3.6zM104.0 388.8h3.6v3.7h-3.6zM104.0 375.6h3.6v3.7h-3.6zM104.0 372.3h3.6v3.7h-3.6zM104.0 359.1h3.6v3.7h-3.6zM104.0 352.5h3.6v3.7h-3.6zM107.3 643.0h3.6v3.7h-3.6zM107.3 636.4h3.6v3.7h-3.6zM107.3 633.1h3.6v3.7h-3.6zM107.3 629.8h3.6v3.7h-3.6zM107.3 623.2h3.6v3.7h-3.6zM107.3 619.9h3.6v3.7h-3.6zM107.3 616.6h3.6v3.7h-3.6zM107.3 593.5h3.6v3.7h-3.6zM107.3 590.2h3.6v3.7h-3.6zM107.3 573.7h3.6v3.7h-3.6zM107.3 570.4h3.6v3.7h-3.6zM107.3 563.8h3.6v3.7h-3.6zM107.3 550.6h3.6v3.7h-3.6zM107.3 530.8h3.6v3.7h-3.6zM107.3 524.2h3.6v3.7h-3.6zM107.3 507.7h3.6v3.7h-3.6zM107.3 504.4h3.6v3.7h-3.6zM107.3 494.4h3.6v3.7h-3.6zM107.3 491.1h3.6v3.7h-3.6zM107.3 487.8h3.6v3.7h-3.6zM107.3 481.2h3.6v3.7h-3.6zM107.3 464.7h3.6v3.7h-3.6zM107.3 461.4h3.6v3.7h-3.6zM107.3 454.8h3.6v3.7h-3.6zM107.3 441.6h3.6v3.7h-3.6zM107.3 438.3h3.6v3.7h-3.6zM107.3 425.1h3.6v3.7h-3.6zM107.3 415.2h3.6v3.7h-3.6zM107.3 405.3h3.6v3.7h-3.6zM107.3 392.1h3.6v3.7h-3.6zM107.3 385.5h3.6v3.7h-3.6zM107.3 372.3h3.6v3.7h-3.6zM107.3 365.7h3.6v3.7h-3.6zM107.3 362.4h3.6v3.7h-3.6zM107.3 355.8h3.6v3.7h-3.6zM110.5 643.0h3.6v3.7h-3.6zM110.5 633.1h3.6v3.7h-3.6zM110.5 626.5h3.6v3.7h-3.6zM110.5 623.2h3.6v3.7h-3.6zM110.5 603.4h3.6v3.7h-3.6zM110.5 600.1h3.6v3.7h-3.6zM110.5 596.8h3.6v3.7h-3.6zM110.5 583.6h3.6v3.7h-3.6zM110.5 567.1h3.6v3.7h-3.6zM110.5 563.8h3.6v3.7h-3.6zM110.5 553.9h3.6v3.7h-3.6zM110.5 547.3h3.6v3.7h-3.6zM110.5 540.7h3.6v3.7h-3.6zM110.5 534.1h3.6v3.7h-3.6zM110.5 524.2h3.6v3.7h-3.6zM110.5 514.3h3.6v3.7h-3.6zM110.5 511.0h3.6v3.7h-3.6zM110.5 484.5h3.6v3.7h-3.6zM110.5 477.9h3.6v3.7h-3.6zM110.5 474.6h3.6v3.7h-3.6zM110.5 454.8h3.6v3.7h-3.6zM110.5 448.2h3.6v3.7h-3.6zM110.5 435.0h3.6v3.7h-3.6zM110.5 408.6h3.6v3.7h-3.6zM110.5 398.7h3.6v3.7h-3.6zM110.5 378.9h3.6v3.7h-3.6zM110.5 369.0h3.6v3.7h-3.6zM110.5 352.5h3.6v3.7h-3.6zM113.8 639.7h3.6v3.7h-3.6zM113.8 623.2h3.6v3.7h-3.6zM113.8 606.7h3.6v3.7h-3.6zM113.8 593.5h3.6v3.7h-3.6zM113.8 586.9h3.6v3.7h-3.6zM113.8 583.6h3.6v3.7h-3.6zM113.8 567.1h3.6v3.7h-3.6zM113.8 537.4h3.6v3.7h-3.6zM113.8 534.1h3.6v3.7h-3.6zM113.8 501.1h3.6v3.7h-3.6zM113.8 428.4h3.6v3.7h-3.6zM113.8 415.2h3.6v3.7h-3.6zM113.8 408.6h3.6v3.7h-3.6zM113.8 398.7h3.6v3.7h-3.6zM113.8 382.2h3.6v3.7h-3.6zM113.8 378.9h3.6v3.7h-3.6zM113.8 369.0h3.6v3.7h-3.6zM113.8 365.7h3.6v3.7h-3.6zM113.8 355.8h3.6v3.7h-3.6zM117.0 626.5h3.6v3.7h-3.6zM117.0 623.2h3.6v3.7h-3.6zM117.0 540.7h3.6v3.7h-3.6zM117.0 497.7h3.6v3.7h-3.6zM117.0 474.6h3.6v3.7h-3.6zM117.0 461.4h3.6v3.7h-3.6zM117.0 451.5h3.6v3.7h-3.6zM117.0 428.4h3.6v3.7h-3.6zM117.0 418.5h3.6v3.7h-3.6zM117.0 398.7h3.6v3.7h-3.6zM117.0 382.2h3.6v3.7h-3.6zM120.3 613.3h3.6v3.7h-3.6zM120.3 580.3h3.6v3.7h-3.6zM120.3 537.4h3.6v3.7h-3.6zM120.3 484.5h3.6v3.7h-3.6zM120.3 461.4h3.6v3.7h-3.6zM120.3 411.9h3.6v3.7h-3.6zM120.3 372.3h3.6v3.7h-3.6zM120.3 362.4h3.6v3.7h-3.6zM120.3 359.1h3.6v3.7h-3.6zM123.5 619.9h3.6v3.7h-3.6zM123.5 610.0h3.6v3.7h-3.6zM123.5 590.2h3.6v3.7h-3.6zM123.5 553.9h3.6v3.7h-3.6zM123.5 474.6h3.6v3.7h-3.6zM123.5 454.8h3.6v3.7h-3.6zM123.5 448.2h3.6v3.7h-3.6zM123.5 415.2h3.6v3.7h-3.6zM123.5 388.8h3.6v3.7h-3.6zM126.8 577.0h3.6v3.7h-3.6zM126.8 573.7h3.6v3.7h-3.6zM126.8 471.3h3.6v3.7h-3.6zM130.1 610.0h3.6v3.7h-3.6zM130.1 491.1h3.6v3.7h-3.6zM152.8 491.1h3.6v3.7h-3.6zM152.8 471.3h3.6v3.7h-3.6zM152.8 468.0h3.6v3.7h-3.6zM152.8 464.7h3.6v3.7h-3.6zM156.1 491.1h3.6v3.7h-3.6zM156.1 487.8h3.6v3.7h-3.6zM156.1 464.7h3.6v3.7h-3.6zM156.1 448.2h3.6v3.7h-3.6zM159.3 474.6h3.6v3.7h-3.6zM162.6 501.1h3.6v3.7h-3.6zM162.6 497.7h3.6v3.7h-3.6zM162.6 494.4h3.6v3.7h-3.6zM162.6 487.8h3.6v3.7h-3.6zM162.6 477.9h3.6v3.7h-3.6zM162.6 454.8h3.6v3.7h-3.6zM162.6 451.5h3.6v3.7h-3.6zM162.6 448.2h3.6v3.7h-3.6zM165.8 497.7h3.6v3.7h-3.6zM165.8 491.1h3.6v3.7h-3.6zM165.8 487.8h3.6v3.7h-3.6zM165.8 481.2h3.6v3.7h-3.6zM165.8 474.6h3.6v3.7h-3.6zM165.8 468.0h3.6v3.7h-3.6zM165.8 461.4h3.6v3.7h-3.6zM165.8 444.9h3.6v3.7h-3.6zM169.1 504.4h3.6v3.7h-3.6zM169.1 501.1h3.6v3.7h-3.6zM169.1 491.1h3.6v3.7h-3.6zM169.1 481.2h3.6v3.7h-3.6zM169.1 471.3h3.6v3.7h-3.6zM169.1 444.9h3.6v3.7h-3.6zM169.1 438.3h3.6v3.7h-3.6zM172.3 507.7h3.6v3.7h-3.6zM172.3 497.7h3.6v3.7h-3.6zM172.3 494.4h3.6v3.7h-3.6zM172.3 477.9h3.6v3.7h-3.6zM172.3 468.0h3.6v3.7h-3.6zM172.3 461.4h3.6v3.7h-3.6zM172.3 444.9h3.6v3.7h-3.6zM172.3 441.6h3.6v3.7h-3.6zM172.3 438.3h3.6v3.7h-3.6zM175.6 511.0h3.6v3.7h-3.6zM175.6 494.4h3.6v3.7h-3.6zM175.6 481.2h3.6v3.7h-3.6zM175.6 468.0h3.6v3.7h-3.6zM175.6 458.1h3.6v3.7h-3.6zM175.6 448.2h3.6v3.7h-3.6zM175.6 444.9h3.6v3.7h-3.6zM178.8 501.1h3.6v3.7h-3.6zM178.8 461.4h3.6v3.7h-3.6zM178.8 438.3h3.6v3.7h-3.6zM182.1 497.7h3.6v3.7h-3.6zM182.1 448.2h3.6v3.7h-3.6zM182.1 444.9h3.6v3.7h-3.6zM185.3 504.4h3.6v3.7h-3.6zM185.3 501.1h3.6v3.7h-3.6zM185.3 494.4h3.6v3.7h-3.6zM185.3 471.3h3.6v3.7h-3.6zM185.3 438.3h3.6v3.7h-3.6zM188.6 507.7h3.6v3.7h-3.6zM188.6 494.4h3.6v3.7h-3.6zM188.6 477.9h3.6v3.7h-3.6zM191.8 501.1h3.6v3.7h-3.6zM191.8 451.5h3.6v3.7h-3.6zM191.8 438.3h3.6v3.7h-3.6zM195.1 504.4h3.6v3.7h-3.6zM195.1 497.7h3.6v3.7h-3.6zM195.1 451.5h3.6v3.7h-3.6zM198.3 461.4h3.6v3.7h-3.6zM198.3 441.6h3.6v3.7h-3.6zM201.6 497.7h3.6v3.7h-3.6zM201.6 487.8h3.6v3.7h-3.6zM201.6 474.6h3.6v3.7h-3.6zM201.6 448.2h3.6v3.7h-3.6zM201.6 444.9h3.6v3.7h-3.6zM201.6 441.6h3.6v3.7h-3.6zM204.8 504.4h3.6v3.7h-3.6zM204.8 491.1h3.6v3.7h-3.6zM204.8 451.5h3.6v3.7h-3.6zM204.8 448.2h3.6v3.7h-3.6zM204.8 441.6h3.6v3.7h-3.6zM208.1 494.4h3.6v3.7h-3.6zM208.1 454.8h3.6v3.7h-3.6zM208.1 444.9h3.6v3.7h-3.6zM211.3 491.1h3.6v3.7h-3.6zM211.3 487.8h3.6v3.7h-3.6zM211.3 484.5h3.6v3.7h-3.6zM211.3 481.2h3.6v3.7h-3.6zM211.3 477.9h3.6v3.7h-3.6zM211.3 471.3h3.6v3.7h-3.6zM211.3 468.0h3.6v3.7h-3.6zM211.3 461.4h3.6v3.7h-3.6zM211.3 448.2h3.6v3.7h-3.6zM211.3 441.6h3.6v3.7h-3.6zM214.6 507.7h3.6v3.7h-3.6zM214.6 497.7h3.6v3.7h-3.6zM214.6 491.1h3.6v3.7h-3.6zM214.6 471.3h3.6v3.7h-3.6zM214.6 468.0h3.6v3.7h-3.6zM214.6 461.4h3.6v3.7h-3.6zM214.6 435.0h3.6v3.7h-3.6zM217.8 504.4h3.6v3.7h-3.6zM217.8 491.1h3.6v3.7h-3.6zM217.8 487.8h3.6v3.7h-3.6zM217.8 461.4h3.6v3.7h-3.6zM221.1 504.4h3.6v3.7h-3.6zM221.1 494.4h3.6v3.7h-3.6zM221.1 484.5h3.6v3.7h-3.6zM221.1 438.3h3.6v3.7h-3.6zM224.3 501.1h3.6v3.7h-3.6zM227.6 441.6h3.6v3.7h-3.6zM227.6 435.0h3.6v3.7h-3.6zM227.6 431.7h3.6v3.7h-3.6zM230.8 435.0h3.6v3.7h-3.6z"/>
<path fill="#26b0cf" d="M74.8 527.5h3.6v3.7h-3.6zM81.3 517.6h3.6v3.7h-3.6zM84.5 639.7h3.6v3.7h-3.6zM84.5 590.2h3.6v3.7h-3.6zM84.5 586.9h3.6v3.7h-3.6zM84.5 580.3h3.6v3.7h-3.6zM84.5 563.8h3.6v3.7h-3.6zM84.5 560.5h3.6v3.7h-3.6zM84.5 550.6h3.6v3.7h-3.6zM84.5 540.7h3.6v3.7h-3.6zM84.5 534.1h3.6v3.7h-3.6zM84.5 484.5h3.6v3.7h-3.6zM84.5 468.0h3.6v3.7h-3.6zM84.5 395.4h3.6v3.7h-3.6zM84.5 378.9h3.6v3.7h-3.6zM87.8 639.7h3.6v3.7h-3.6zM87.8 619.9h3.6v3.7h-3.6zM87.8 610.0h3.6v3.7h-3.6zM87.8 603.4h3.6v3.7h-3.6zM87.8 593.5h3.6v3.7h-3.6zM87.8 586.9h3.6v3.7h-3.6zM87.8 583.6h3.6v3.7h-3.6zM87.8 567.1h3.6v3.7h-3.6zM87.8 540.7h3.6v3.7h-3.6zM87.8 534.1h3.6v3.7h-3.6zM87.8 520.9h3.6v3.7h-3.6zM87.8 511.0h3.6v3.7h-3.6zM87.8 501.1h3.6v3.7h-3.6zM87.8 484.5h3.6v3.7h-3.6zM87.8 481.2h3.6v3.7h-3.6zM87.8 468.0h3.6v3.7h-3.6zM87.8 458.1h3.6v3.7h-3.6zM87.8 444.9h3.6v3.7h-3.6zM87.8 438.3h3.6v3.7h-3.6zM87.8 435.0h3.6v3.7h-3.6zM87.8 425.1h3.6v3.7h-3.6zM87.8 375.6h3.6v3.7h-3.6zM87.8 362.4h3.6v3.7h-3.6zM87.8 352.5h3.6v3.7h-3.6zM91.0 458.1h3.6v3.7h-3.6zM91.0 402.0h3.6v3.7h-3.6zM91.0 382.2h3.6v3.7h-3.6zM91.0 378.9h3.6v3.7h-3.6zM94.3 636.4h3.6v3.7h-3.6zM94.3 580.3h3.6v3.7h-3.6zM94.3 553.9h3.6v3.7h-3.6zM94.3 514.3h3.6v3.7h-3.6zM97.5 623.2h3.6v3.7h-3.6zM97.5 596.8h3.6v3.7h-3.6zM97.5 577.0h3.6v3.7h-3.6zM97.5 567.1h3.6v3.7h-3.6zM97.5 560.5h3.6v3.7h-3.6zM97.5 550.6h3.6v3.7h-3.6zM97.5 540.7h3.6v3.7h-3.6zM97.5 514.3h3.6v3.7h-3.6zM97.5 497.7h3.6v3.7h-3.6zM97.5 494.4h3.6v3.7h-3.6zM97.5 474.6h3.6v3.7h-3.6zM97.5 428.4h3.6v3.7h-3.6zM97.5 411.9h3.6v3.7h-3.6zM97.5 382.2h3.6v3.7h-3.6zM97.5 359.1h3.6v3.7h-3.6zM100.8 633.1h3.6v3.7h-3.6zM100.8 606.7h3.6v3.7h-3.6zM100.8 586.9h3.6v3.7h-3.6zM100.8 583.6h3.6v3.7h-3.6zM100.8 563.8h3.6v3.7h-3.6zM100.8 557.2h3.6v3.7h-3.6zM100.8 550.6h3.6v3.7h-3.6zM100.8 524.2h3.6v3.7h-3.6zM100.8 514.3h3.6v3.7h-3.6zM100.8 511.0h3.6v3.7h-3.6zM100.8 507.7h3.6v3.7h-3.6zM100.8 504.4h3.6v3.7h-3.6zM100.8 477.9h3.6v3.7h-3.6zM100.8 468.0h3.6v3.7h-3.6zM100.8 458.1h3.6v3.7h-3.6zM100.8 451.5h3.6v3.7h-3.6zM100.8 425.1h3.6v3.7h-3.6zM100.8 421.8h3.6v3.7h-3.6zM100.8 418.5h3.6v3.7h-3.6zM100.8 408.6h3.6v3.7h-3.6zM100.8 395.4h3.6v3.7h-3.6zM100.8 392.1h3.6v3.7h-3.6zM100.8 382.2h3.6v3.7h-3.6zM100.8 378.9h3.6v3.7h-3.6zM100.8 369.0h3.6v3.7h-3.6zM100.8 365.7h3.6v3.7h-3.6zM100.8 362.4h3.6v3.7h-3.6zM104.0 643.0h3.6v3.7h-3.6zM104.0 639.7h3.6v3.7h-3.6zM104.0 633.1h3.6v3.7h-3.6zM104.0 603.4h3.6v3.7h-3.6zM104.0 577.0h3.6v3.7h-3.6zM104.0 553.9h3.6v3.7h-3.6zM104.0 547.3h3.6v3.7h-3.6zM104.0 514.3h3.6v3.7h-3.6zM104.0 507.7h3.6v3.7h-3.6zM104.0 501.1h3.6v3.7h-3.6zM104.0 484.5h3.6v3.7h-3.6zM104.0 402.0h3.6v3.7h-3.6zM104.0 398.7h3.6v3.7h-3.6zM107.3 596.8h3.6v3.7h-3.6zM107.3 586.9h3.6v3.7h-3.6zM107.3 567.1h3.6v3.7h-3.6zM107.3 547.3h3.6v3.7h-3.6zM107.3 534.1h3.6v3.7h-3.6zM107.3 484.5h3.6v3.7h-3.6zM107.3 451.5h3.6v3.7h-3.6zM107.3 375.6h3.6v3.7h-3.6zM110.5 639.7h3.6v3.7h-3.6zM110.5 616.6h3.6v3.7h-3.6zM110.5 590.2h3.6v3.7h-3.6zM110.5 537.4h3.6v3.7h-3.6zM110.5 517.6h3.6v3.7h-3.6zM110.5 501.1h3.6v3.7h-3.6zM110.5 405.3h3.6v3.7h-3.6zM113.8 603.4h3.6v3.7h-3.6zM113.8 547.3h3.6v3.7h-3.6zM113.8 540.7h3.6v3.7h-3.6zM113.8 520.9h3.6v3.7h-3.6zM113.8 448.2h3.6v3.7h-3.6zM113.8 372.3h3.6v3.7h-3.6zM117.0 643.0h3.6v3.7h-3.6zM120.3 639.7h3.6v3.7h-3.6zM120.3 573.7h3.6v3.7h-3.6zM120.3 530.8h3.6v3.7h-3.6zM156.1 494.4h3.6v3.7h-3.6zM159.3 491.1h3.6v3.7h-3.6zM162.6 471.3h3.6v3.7h-3.6zM162.6 468.0h3.6v3.7h-3.6zM165.8 504.4h3.6v3.7h-3.6zM165.8 501.1h3.6v3.7h-3.6zM165.8 484.5h3.6v3.7h-3.6zM165.8 458.1h3.6v3.7h-3.6zM165.8 451.5h3.6v3.7h-3.6zM165.8 448.2h3.6v3.7h-3.6zM169.1 494.4h3.6v3.7h-3.6zM169.1 487.8h3.6v3.7h-3.6zM169.1 484.5h3.6v3.7h-3.6zM169.1 477.9h3.6v3.7h-3.6zM169.1 464.7h3.6v3.7h-3.6zM169.1 458.1h3.6v3.7h-3.6zM172.3 504.4h3.6v3.7h-3.6zM172.3 501.1h3.6v3.7h-3.6zM172.3 491.1h3.6v3.7h-3.6zM172.3 464.7h3.6v3.7h-3.6zM175.6 507.7h3.6v3.7h-3.6zM175.6 497.7h3.6v3.7h-3.6zM175.6 491.1h3.6v3.7h-3.6zM175.6 477.9h3.6v3.7h-3.6zM175.6 471.3h3.6v3.7h-3.6zM175.6 461.4h3.6v3.7h-3.6zM175.6 441.6h3.6v3.7h-3.6zM178.8 504.4h3.6v3.7h-3.6zM178.8 494.4h3.6v3.7h-3.6zM178.8 471.3h3.6v3.7h-3.6zM178.8 451.5h3.6v3.7h-3.6zM178.8 448.2h3.6v3.7h-3.6zM178.8 444.9h3.6v3.7h-3.6zM178.8 441.6h3.6v3.7h-3.6zM182.1 504.4h3.6v3.7h-3.6zM182.1 501.1h3.6v3.7h-3.6zM182.1 458.1h3.6v3.7h-3.6zM185.3 487.8h3.6v3.7h-3.6zM185.3 474.6h3.6v3.7h-3.6zM185.3 448.2h3.6v3.7h-3.6zM188.6 497.7h3.6v3.7h-3.6zM188.6 448.2h3.6v3.7h-3.6zM188.6 444.9h3.6v3.7h-3.6zM188.6 441.6h3.6v3.7h-3.6zM191.8 507.7h3.6v3.7h-3.6zM191.8 474.6h3.6v3.7h-3.6zM191.8 471.3h3.6v3.7h-3.6zM191.8 461.4h3.6v3.7h-3.6zM191.8 444.9h3.6v3.7h-3.6zM191.8 441.6h3.6v3.7h-3.6zM195.1 507.7h3.6v3.7h-3.6zM195.1 494.4h3.6v3.7h-3.6zM195.1 464.7h3.6v3.7h-3.6zM195.1 458.1h3.6v3.7h-3.6zM195.1 448.2h3.6v3.7h-3.6zM198.3 497.7h3.6v3.7h-3.6zM198.3 444.9h3.6v3.7h-3.6zM201.6 501.1h3.6v3.7h-3.6zM201.6 477.9h3.6v3.7h-3.6zM201.6 468.0h3.6v3.7h-3.6zM201.6 451.5h3.6v3.7h-3.6zM204.8 494.4h3.6v3.7h-3.6zM204.8 487.8h3.6v3.7h-3.6zM204.8 484.5h3.6v3.7h-3.6zM204.8 481.2h3.6v3.7h-3.6zM204.8 468.0h3.6v3.7h-3.6zM208.1 504.4h3.6v3.7h-3.6zM208.1 501.1h3.6v3.7h-3.6zM208.1 497.7h3.6v3.7h-3.6zM208.1 491.1h3.6v3.7h-3.6zM208.1 487.8h3.6v3.7h-3.6zM208.1 481.2h3.6v3.7h-3.6zM208.1 477.9h3.6v3.7h-3.6zM208.1 474.6h3.6v3.7h-3.6zM208.1 464.7h3.6v3.7h-3.6zM208.1 458.1h3.6v3.7h-3.6zM208.1 448.2h3.6v3.7h-3.6zM208.1 438.3h3.6v3.7h-3.6zM211.3 507.7h3.6v3.7h-3.6zM211.3 494.4h3.6v3.7h-3.6zM214.6 504.4h3.6v3.7h-3.6zM214.6 441.6h3.6v3.7h-3.6zM217.8 497.7h3.6v3.7h-3.6zM217.8 494.4h3.6v3.7h-3.6zM221.1 487.8h3.6v3.7h-3.6zM224.3 484.5h3.6v3.7h-3.6zM224.3 441.6h3.6v3.7h-3.6zM224.3 438.3h3.6v3.7h-3.6zM227.6 438.3h3.6v3.7h-3.6z"/>
<path fill="#2aa3ca" d="M81.3 352.5h3.6v3.7h-3.6zM84.5 603.4h3.6v3.7h-3.6zM84.5 577.0h3.6v3.7h-3.6zM84.5 481.2h3.6v3.7h-3.6zM84.5 477.9h3.6v3.7h-3.6zM84.5 438.3h3.6v3.7h-3.6zM84.5 402.0h3.6v3.7h-3.6zM84.5 355.8h3.6v3.7h-3.6zM87.8 636.4h3.6v3.7h-3.6zM87.8 626.5h3.6v3.7h-3.6zM87.8 613.3h3.6v3.7h-3.6zM87.8 606.7h3.6v3.7h-3.6zM87.8 596.8h3.6v3.7h-3.6zM87.8 570.4h3.6v3.7h-3.6zM87.8 563.8h3.6v3.7h-3.6zM87.8 557.2h3.6v3.7h-3.6zM87.8 553.9h3.6v3.7h-3.6zM87.8 547.3h3.6v3.7h-3.6zM87.8 530.8h3.6v3.7h-3.6zM87.8 527.5h3.6v3.7h-3.6zM87.8 524.2h3.6v3.7h-3.6zM87.8 497.7h3.6v3.7h-3.6zM87.8 494.4h3.6v3.7h-3.6zM87.8 474.6h3.6v3.7h-3.6zM87.8 464.7h3.6v3.7h-3.6zM87.8 461.4h3.6v3.7h-3.6zM87.8 441.6h3.6v3.7h-3.6zM87.8 431.7h3.6v3.7h-3.6zM87.8 415.2h3.6v3.7h-3.6zM87.8 402.0h3.6v3.7h-3.6zM87.8 395.4h3.6v3.7h-3.6zM87.8 382.2h3.6v3.7h-3.6zM87.8 378.9h3.6v3.7h-3.6zM87.8 369.0h3.6v3.7h-3.6zM87.8 365.7h3.6v3.7h-3.6zM87.8 355.8h3.6v3.7h-3.6zM91.0 619.9h3.6v3.7h-3.6zM91.0 560.5h3.6v3.7h-3.6zM91.0 544.0h3.6v3.7h-3.6zM91.0 527.5h3.6v3.7h-3.6zM91.0 491.1h3.6v3.7h-3.6zM91.0 468.0h3.6v3.7h-3.6zM91.0 441.6h3.6v3.7h-3.6zM91.0 415.2h3.6v3.7h-3.6zM91.0 359.1h3.6v3.7h-3.6zM94.3 593.5h3.6v3.7h-3.6zM94.3 573.7h3.6v3.7h-3.6zM94.3 557.2h3.6v3.7h-3.6zM94.3 504.4h3.6v3.7h-3.6zM94.3 448.2h3.6v3.7h-3.6zM94.3 428.4h3.6v3.7h-3.6zM94.3 418.5h3.6v3.7h-3.6zM94.3 408.6h3.6v3.7h-3.6zM94.3 402.0h3.6v3.7h-3.6zM97.5 636.4h3.6v3.7h-3.6zM97.5 629.8h3.6v3.7h-3.6zM97.5 626.5h3.6v3.7h-3.6zM97.5 613.3h3.6v3.7h-3.6zM97.5 586.9h3.6v3.7h-3.6zM97.5 563.8h3.6v3.7h-3.6zM97.5 544.0h3.6v3.7h-3.6zM97.5 527.5h3.6v3.7h-3.6zM97.5 501.1h3.6v3.7h-3.6zM97.5 471.3h3.6v3.7h-3.6zM97.5 441.6h3.6v3.7h-3.6zM97.5 375.6h3.6v3.7h-3.6zM97.5 355.8h3.6v3.7h-3.6zM100.8 639.7h3.6v3.7h-3.6zM100.8 626.5h3.6v3.7h-3.6zM100.8 623.2h3.6v3.7h-3.6zM100.8 593.5h3.6v3.7h-3.6zM100.8 590.2h3.6v3.7h-3.6zM100.8 570.4h3.6v3.7h-3.6zM100.8 560.5h3.6v3.7h-3.6zM100.8 530.8h3.6v3.7h-3.6zM100.8 527.5h3.6v3.7h-3.6zM100.8 517.6h3.6v3.7h-3.6zM100.8 501.1h3.6v3.7h-3.6zM100.8 491.1h3.6v3.7h-3.6zM100.8 484.5h3.6v3.7h-3.6zM100.8 481.2h3.6v3.7h-3.6zM100.8 464.7h3.6v3.7h-3.6zM100.8 454.8h3.6v3.7h-3.6zM100.8 444.9h3.6v3.7h-3.6zM100.8 402.0h3.6v3.7h-3.6zM100.8 388.8h3.6v3.7h-3.6zM104.0 596.8h3.6v3.7h-3.6zM104.0 567.1h3.6v3.7h-3.6zM104.0 481.2h3.6v3.7h-3.6zM104.0 454.8h3.6v3.7h-3.6zM104.0 369.0h3.6v3.7h-3.6zM104.0 365.7h3.6v3.7h-3.6zM110.5 619.9h3.6v3.7h-3.6zM110.5 375.6h3.6v3.7h-3.6zM165.8 477.9h3.6v3.7h-3.6zM169.1 497.7h3.6v3.7h-3.6zM169.1 474.6h3.6v3.7h-3.6zM169.1 441.6h3.6v3.7h-3.6zM172.3 484.5h3.6v3.7h-3.6zM172.3 454.8h3.6v3.7h-3.6zM175.6 501.1h3.6v3.7h-3.6zM175.6 487.8h3.6v3.7h-3.6zM175.6 474.6h3.6v3.7h-3.6zM175.6 464.7h3.6v3.7h-3.6zM175.6 454.8h3.6v3.7h-3.6zM175.6 451.5h3.6v3.7h-3.6zM178.8 497.7h3.6v3.7h-3.6zM178.8 481.2h3.6v3.7h-3.6zM178.8 477.9h3.6v3.7h-3.6zM182.1 487.8h3.6v3.7h-3.6zM182.1 484.5h3.6v3.7h-3.6zM182.1 474.6h3.6v3.7h-3.6zM182.1 471.3h3.6v3.7h-3.6zM185.3 481.2h3.6v3.7h-3.6zM185.3 461.4h3.6v3.7h-3.6zM185.3 458.1h3.6v3.7h-3.6zM188.6 504.4h3.6v3.7h-3.6zM188.6 501.1h3.6v3.7h-3.6zM188.6 468.0h3.6v3.7h-3.6zM191.8 494.4h3.6v3.7h-3.6zM191.8 481.2h3.6v3.7h-3.6zM191.8 464.7h3.6v3.7h-3.6zM191.8 448.2h3.6v3.7h-3.6zM195.1 487.8h3.6v3.7h-3.6zM195.1 484.5h3.6v3.7h-3.6zM195.1 481.2h3.6v3.7h-3.6zM195.1 454.8h3.6v3.7h-3.6zM195.1 441.6h3.6v3.7h-3.6zM198.3 494.4h3.6v3.7h-3.6zM198.3 487.8h3.6v3.7h-3.6zM198.3 464.7h3.6v3.7h-3.6zM198.3 458.1h3.6v3.7h-3.6zM198.3 438.3h3.6v3.7h-3.6zM201.6 484.5h3.6v3.7h-3.6zM201.6 461.4h3.6v3.7h-3.6zM201.6 458.1h3.6v3.7h-3.6zM201.6 454.8h3.6v3.7h-3.6zM204.8 507.7h3.6v3.7h-3.6zM204.8 458.1h3.6v3.7h-3.6zM204.8 438.3h3.6v3.7h-3.6zM208.1 468.0h3.6v3.7h-3.6zM208.1 461.4h3.6v3.7h-3.6zM211.3 497.7h3.6v3.7h-3.6zM214.6 501.1h3.6v3.7h-3.6zM214.6 487.8h3.6v3.7h-3.6zM214.6 438.3h3.6v3.7h-3.6zM221.1 441.6h3.6v3.7h-3.6z"/>
<path fill="#3889c1" d="M84.5 362.4h3.6v3.7h-3.6zM84.5 352.5h3.6v3.7h-3.6zM87.8 600.1h3.6v3.7h-3.6zM87.8 580.3h3.6v3.7h-3.6zM87.8 573.7h3.6v3.7h-3.6zM87.8 550.6h3.6v3.7h-3.6zM87.8 514.3h3.6v3.7h-3.6zM87.8 507.7h3.6v3.7h-3.6zM87.8 487.8h3.6v3.7h-3.6zM87.8 454.8h3.6v3.7h-3.6zM87.8 408.6h3.6v3.7h-3.6zM87.8 405.3h3.6v3.7h-3.6zM91.0 643.0h3.6v3.7h-3.6zM91.0 626.5h3.6v3.7h-3.6zM91.0 610.0h3.6v3.7h-3.6zM91.0 600.1h3.6v3.7h-3.6zM91.0 577.0h3.6v3.7h-3.6zM91.0 557.2h3.6v3.7h-3.6zM91.0 547.3h3.6v3.7h-3.6zM91.0 520.9h3.6v3.7h-3.6zM91.0 511.0h3.6v3.7h-3.6zM91.0 504.4h3.6v3.7h-3.6zM91.0 477.9h3.6v3.7h-3.6zM91.0 474.6h3.6v3.7h-3.6zM91.0 461.4h3.6v3.7h-3.6zM91.0 435.0h3.6v3.7h-3.6zM91.0 421.8h3.6v3.7h-3.6zM91.0 418.5h3.6v3.7h-3.6zM91.0 395.4h3.6v3.7h-3.6zM91.0 392.1h3.6v3.7h-3.6zM94.3 639.7h3.6v3.7h-3.6zM94.3 619.9h3.6v3.7h-3.6zM94.3 613.3h3.6v3.7h-3.6zM94.3 610.0h3.6v3.7h-3.6zM94.3 603.4h3.6v3.7h-3.6zM94.3 600.1h3.6v3.7h-3.6zM94.3 590.2h3.6v3.7h-3.6zM94.3 577.0h3.6v3.7h-3.6zM94.3 567.1h3.6v3.7h-3.6zM94.3 484.5h3.6v3.7h-3.6zM94.3 461.4h3.6v3.7h-3.6zM94.3 454.8h3.6v3.7h-3.6zM94.3 415.2h3.6v3.7h-3.6zM94.3 388.8h3.6v3.7h-3.6zM94.3 372.3h3.6v3.7h-3.6zM94.3 359.1h3.6v3.7h-3.6zM94.3 352.5h3.6v3.7h-3.6zM97.5 643.0h3.6v3.7h-3.6zM97.5 619.9h3.6v3.7h-3.6zM97.5 606.7h3.6v3.7h-3.6zM97.5 603.4h3.6v3.7h-3.6zM97.5 600.1h3.6v3.7h-3.6zM97.5 583.6h3.6v3.7h-3.6zM97.5 580.3h3.6v3.7h-3.6zM97.5 557.2h3.6v3.7h-3.6zM97.5 553.9h3.6v3.7h-3.6zM97.5 537.4h3.6v3.7h-3.6zM97.5 534.1h3.6v3.7h-3.6zM97.5 517.6h3.6v3.7h-3.6zM97.5 507.7h3.6v3.7h-3.6zM97.5 484.5h3.6v3.7h-3.6zM97.5 458.1h3.6v3.7h-3.6zM97.5 448.2h3.6v3.7h-3.6zM97.5 444.9h3.6v3.7h-3.6zM97.5 438.3h3.6v3.7h-3.6zM97.5 365.7h3.6v3.7h-3.6zM100.8 603.4h3.6v3.7h-3.6zM100.8 577.0h3.6v3.7h-3.6zM100.8 573.7h3.6v3.7h-3.6zM100.8 567.1h3.6v3.7h-3.6zM100.8 544.0h3.6v3.7h-3.6zM100.8 540.7h3.6v3.7h-3.6zM100.8 537.4h3.6v3.7h-3.6zM100.8 534.1h3.6v3.7h-3.6zM100.8 520.9h3.6v3.7h-3.6zM100.8 474.6h3.6v3.7h-3.6zM100.8 438.3h3.6v3.7h-3.6zM100.8 375.6h3.6v3.7h-3.6zM104.0 534.1h3.6v3.7h-3.6zM104.0 378.9h3.6v3.7h-3.6zM172.3 487.8h3.6v3.7h-3.6zM172.3 458.1h3.6v3.7h-3.6zM175.6 484.5h3.6v3.7h-3.6zM178.8 491.1h3.6v3.7h-3.6zM178.8 484.5h3.6v3.7h-3.6zM178.8 474.6h3.6v3.7h-3.6zM178.8 464.7h3.6v3.7h-3.6zM182.1 481.2h3.6v3.7h-3.6zM182.1 468.0h3.6v3.7h-3.6zM182.1 461.4h3.6v3.7h-3.6zM182.1 454.8h3.6v3.7h-3.6zM185.3 497.7h3.6v3.7h-3.6zM185.3 491.1h3.6v3.7h-3.6zM185.3 444.9h3.6v3.7h-3.6zM185.3 441.6h3.6v3.7h-3.6zM188.6 487.8h3.6v3.7h-3.6zM188.6 474.6h3.6v3.7h-3.6zM188.6 464.7h3.6v3.7h-3.6zM188.6 454.8h3.6v3.7h-3.6zM188.6 438.3h3.6v3.7h-3.6zM191.8 491.1h3.6v3.7h-3.6zM195.1 501.1h3.6v3.7h-3.6zM195.1 491.1h3.6v3.7h-3.6zM195.1 477.9h3.6v3.7h-3.6zM195.1 474.6h3.6v3.7h-3.6zM195.1 461.4h3.6v3.7h-3.6zM198.3 491.1h3.6v3.7h-3.6zM198.3 481.2h3.6v3.7h-3.6zM198.3 454.8h3.6v3.7h-3.6zM201.6 494.4h3.6v3.7h-3.6zM201.6 471.3h3.6v3.7h-3.6zM204.8 501.1h3.6v3.7h-3.6zM204.8 464.7h3.6v3.7h-3.6zM204.8 454.8h3.6v3.7h-3.6zM217.8 438.3h3.6v3.7h-3.6z"/>
<path fill="#3f7dbc" d="M87.8 633.1h3.6v3.7h-3.6zM87.8 616.6h3.6v3.7h-3.6zM87.8 577.0h3.6v3.7h-3.6zM87.8 517.6h3.6v3.7h-3.6zM87.8 477.9h3.6v3.7h-3.6zM87.8 398.7h3.6v3.7h-3.6zM87.8 392.1h3.6v3.7h-3.6zM87.8 385.5h3.6v3.7h-3.6zM87.8 372.3h3.6v3.7h-3.6zM91.0 639.7h3.6v3.7h-3.6zM91.0 633.1h3.6v3.7h-3.6zM91.0 623.2h3.6v3.7h-3.6zM91.0 596.8h3.6v3.7h-3.6zM91.0 573.7h3.6v3.7h-3.6zM91.0 553.9h3.6v3.7h-3.6zM91.0 540.7h3.6v3.7h-3.6zM91.0 507.7h3.6v3.7h-3.6zM91.0 484.5h3.6v3.7h-3.6zM91.0 471.3h3.6v3.7h-3.6zM91.0 451.5h3.6v3.7h-3.6zM91.0 448.2h3.6v3.7h-3.6zM91.0 425.1h3.6v3.7h-3.6zM91.0 411.9h3.6v3.7h-3.6zM91.0 408.6h3.6v3.7h-3.6zM91.0 405.3h3.6v3.7h-3.6zM91.0 388.8h3.6v3.7h-3.6zM91.0 375.6h3.6v3.7h-3.6zM91.0 365.7h3.6v3.7h-3.6zM91.0 362.4h3.6v3.7h-3.6zM94.3 629.8h3.6v3.7h-3.6zM94.3 596.8h3.6v3.7h-3.6zM94.3 560.5h3.6v3.7h-3.6zM94.3 544.0h3.6v3.7h-3.6zM94.3 520.9h3.6v3.7h-3.6zM94.3 511.0h3.6v3.7h-3.6zM94.3 471.3h3.6v3.7h-3.6zM94.3 444.9h3.6v3.7h-3.6zM94.3 431.7h3.6v3.7h-3.6zM94.3 411.9h3.6v3.7h-3.6zM94.3 382.2h3.6v3.7h-3.6zM94.3 378.9h3.6v3.7h-3.6zM94.3 365.7h3.6v3.7h-3.6zM97.5 639.7h3.6v3.7h-3.6zM97.5 610.0h3.6v3.7h-3.6zM97.5 590.2h3.6v3.7h-3.6zM97.5 547.3h3.6v3.7h-3.6zM97.5 520.9h3.6v3.7h-3.6zM97.5 477.9h3.6v3.7h-3.6zM97.5 464.7h3.6v3.7h-3.6zM97.5 454.8h3.6v3.7h-3.6zM97.5 435.0h3.6v3.7h-3.6zM97.5 431.7h3.6v3.7h-3.6zM97.5 405.3h3.6v3.7h-3.6zM97.5 388.8h3.6v3.7h-3.6zM97.5 378.9h3.6v3.7h-3.6zM97.5 369.0h3.6v3.7h-3.6zM100.8 398.7h3.6v3.7h-3.6zM100.8 372.3h3.6v3.7h-3.6zM104.0 362.4h3.6v3.7h-3.6zM178.8 507.7h3.6v3.7h-3.6zM178.8 454.8h3.6v3.7h-3.6zM182.1 464.7h3.6v3.7h-3.6zM185.3 477.9h3.6v3.7h-3.6zM185.3 464.7h3.6v3.7h-3.6zM188.6 484.5h3.6v3.7h-3.6zM188.6 481.2h3.6v3.7h-3.6zM188.6 471.3h3.6v3.7h-3.6zM191.8 458.1h3.6v3.7h-3.6zM191.8 454.8h3.6v3.7h-3.6zM195.1 471.3h3.6v3.7h-3.6zM195.1 468.0h3.6v3.7h-3.6zM195.1 444.9h3.6v3.7h-3.6zM198.3 474.6h3.6v3.7h-3.6zM198.3 468.0h3.6v3.7h-3.6zM201.6 464.7h3.6v3.7h-3.6zM204.8 471.3h3.6v3.7h-3.6zM208.1 484.5h3.6v3.7h-3.6zM208.1 451.5h3.6v3.7h-3.6zM217.8 435.0h3.6v3.7h-3.6z"/>
<path fill="#4671b6" d="M87.8 629.8h3.6v3.7h-3.6zM87.8 560.5h3.6v3.7h-3.6zM87.8 471.3h3.6v3.7h-3.6zM87.8 451.5h3.6v3.7h-3.6zM91.0 629.8h3.6v3.7h-3.6zM91.0 613.3h3.6v3.7h-3.6zM91.0 537.4h3.6v3.7h-3.6zM91.0 534.1h3.6v3.7h-3.6zM91.0 530.8h3.6v3.7h-3.6zM91.0 487.8h3.6v3.7h-3.6zM91.0 481.2h3.6v3.7h-3.6zM91.0 464.7h3.6v3.7h-3.6zM91.0 428.4h3.6v3.7h-3.6zM91.0 385.5h3.6v3.7h-3.6zM91.0 372.3h3.6v3.7h-3.6zM94.3 633.1h3.6v3.7h-3.6zM94.3 540.7h3.6v3.7h-3.6zM94.3 534.1h3.6v3.7h-3.6zM94.3 501.1h3.6v3.7h-3.6zM94.3 497.7h3.6v3.7h-3.6zM94.3 481.2h3.6v3.7h-3.6zM94.3 474.6h3.6v3.7h-3.6zM94.3 464.7h3.6v3.7h-3.6zM94.3 451.5h3.6v3.7h-3.6zM94.3 441.6h3.6v3.7h-3.6zM94.3 435.0h3.6v3.7h-3.6zM94.3 421.8h3.6v3.7h-3.6zM94.3 392.1h3.6v3.7h-3.6zM97.5 570.4h3.6v3.7h-3.6zM97.5 530.8h3.6v3.7h-3.6zM97.5 524.2h3.6v3.7h-3.6zM97.5 511.0h3.6v3.7h-3.6zM97.5 504.4h3.6v3.7h-3.6zM97.5 491.1h3.6v3.7h-3.6zM97.5 481.2h3.6v3.7h-3.6zM97.5 425.1h3.6v3.7h-3.6zM97.5 421.8h3.6v3.7h-3.6zM97.5 418.5h3.6v3.7h-3.6zM97.5 415.2h3.6v3.7h-3.6zM97.5 402.0h3.6v3.7h-3.6zM97.5 392.1h3.6v3.7h-3.6zM97.5 352.5h3.6v3.7h-3.6zM178.8 468.0h3.6v3.7h-3.6zM182.1 494.4h3.6v3.7h-3.6zM182.1 491.1h3.6v3.7h-3.6zM188.6 451.5h3.6v3.7h-3.6zM191.8 487.8h3.6v3.7h-3.6zM191.8 477.9h3.6v3.7h-3.6zM191.8 468.0h3.6v3.7h-3.6zM198.3 504.4h3.6v3.7h-3.6zM198.3 501.1h3.6v3.7h-3.6zM198.3 477.9h3.6v3.7h-3.6zM198.3 451.5h3.6v3.7h-3.6z"/>
<path fill="#4e66b0" d="M87.8 643.0h3.6v3.7h-3.6zM87.8 491.1h3.6v3.7h-3.6zM91.0 636.4h3.6v3.7h-3.6zM91.0 590.2h3.6v3.7h-3.6zM91.0 563.8h3.6v3.7h-3.6zM91.0 514.3h3.6v3.7h-3.6zM91.0 494.4h3.6v3.7h-3.6zM91.0 454.8h3.6v3.7h-3.6zM91.0 438.3h3.6v3.7h-3.6zM91.0 355.8h3.6v3.7h-3.6zM94.3 643.0h3.6v3.7h-3.6zM94.3 586.9h3.6v3.7h-3.6zM94.3 550.6h3.6v3.7h-3.6zM94.3 547.3h3.6v3.7h-3.6zM94.3 494.4h3.6v3.7h-3.6zM94.3 398.7h3.6v3.7h-3.6zM97.5 573.7h3.6v3.7h-3.6zM97.5 451.5h3.6v3.7h-3.6zM97.5 408.6h3.6v3.7h-3.6zM178.8 487.8h3.6v3.7h-3.6zM185.3 468.0h3.6v3.7h-3.6zM185.3 454.8h3.6v3.7h-3.6zM188.6 491.1h3.6v3.7h-3.6zM188.6 461.4h3.6v3.7h-3.6zM198.3 471.3h3.6v3.7h-3.6zM201.6 491.1h3.6v3.7h-3.6zM204.8 477.9h3.6v3.7h-3.6z"/>
<path fill="#5e57a7" d="M91.0 616.6h3.6v3.7h-3.6zM91.0 570.4h3.6v3.7h-3.6zM91.0 524.2h3.6v3.7h-3.6zM91.0 517.6h3.6v3.7h-3.6zM91.0 501.1h3.6v3.7h-3.6zM91.0 444.9h3.6v3.7h-3.6zM94.3 623.2h3.6v3.7h-3.6zM94.3 616.6h3.6v3.7h-3.6zM94.3 563.8h3.6v3.7h-3.6zM94.3 477.9h3.6v3.7h-3.6zM94.3 458.1h3.6v3.7h-3.6zM94.3 438.3h3.6v3.7h-3.6zM94.3 405.3h3.6v3.7h-3.6zM94.3 395.4h3.6v3.7h-3.6zM94.3 385.5h3.6v3.7h-3.6zM94.3 375.6h3.6v3.7h-3.6zM94.3 369.0h3.6v3.7h-3.6zM97.5 385.5h3.6v3.7h-3.6zM97.5 362.4h3.6v3.7h-3.6zM182.1 477.9h3.6v3.7h-3.6zM185.3 484.5h3.6v3.7h-3.6zM188.6 458.1h3.6v3.7h-3.6zM198.3 484.5h3.6v3.7h-3.6z"/>
<path fill="#6652a5" d="M91.0 606.7h3.6v3.7h-3.6zM91.0 603.4h3.6v3.7h-3.6zM91.0 593.5h3.6v3.7h-3.6zM91.0 583.6h3.6v3.7h-3.6zM94.3 626.5h3.6v3.7h-3.6zM94.3 530.8h3.6v3.7h-3.6zM94.3 527.5h3.6v3.7h-3.6zM94.3 507.7h3.6v3.7h-3.6zM94.3 491.1h3.6v3.7h-3.6zM97.5 633.1h3.6v3.7h-3.6zM97.5 616.6h3.6v3.7h-3.6zM97.5 398.7h3.6v3.7h-3.6zM191.8 484.5h3.6v3.7h-3.6z"/>
<path fill="#6e4ea3" d="M87.8 448.2h3.6v3.7h-3.6zM91.0 550.6h3.6v3.7h-3.6zM91.0 497.7h3.6v3.7h-3.6zM91.0 369.0h3.6v3.7h-3.6zM94.3 606.7h3.6v3.7h-3.6zM94.3 537.4h3.6v3.7h-3.6zM94.3 524.2h3.6v3.7h-3.6zM94.3 517.6h3.6v3.7h-3.6zM94.3 487.8h3.6v3.7h-3.6zM94.3 362.4h3.6v3.7h-3.6zM94.3 355.8h3.6v3.7h-3.6z"/>
<path fill="#774ba1" d="M91.0 567.1h3.6v3.7h-3.6zM91.0 352.5h3.6v3.7h-3.6zM94.3 583.6h3.6v3.7h-3.6zM94.3 425.1h3.6v3.7h-3.6z"/>
<path fill="#88479f" d="M91.0 398.7h3.6v3.7h-3.6zM94.3 570.4h3.6v3.7h-3.6zM94.3 468.0h3.6v3.7h-3.6z"/>
<line x1="118.33" y1="352.7" x2="118.33" y2="646.5" stroke="#e80a50" stroke-width="2.1" stroke-dasharray="14.1 14.77" stroke-dashoffset="6.2"/>
<line x1="239.67" y1="352.7" x2="239.67" y2="646.5" stroke="#e80a50" stroke-width="2.1" stroke-dasharray="14.1 14.77" stroke-dashoffset="6.2"/>
<rect x="49" y="352.7" width="260" height="293.8" fill="none" stroke="#000" stroke-width="2.3"/>
<path d="M49 646.5V638.9M57.67 646.5V642.6M66.33 646.5V642.6M75 646.5V642.6M83.67 646.5V642.6M92.33 646.5V638.9M101 646.5V642.6M109.67 646.5V642.6M118.33 646.5V642.6M127 646.5V642.6M135.67 646.5V638.9M144.33 646.5V642.6M153 646.5V642.6M161.67 646.5V642.6M170.33 646.5V642.6M179 646.5V638.9M187.67 646.5V642.6M196.33 646.5V642.6M205 646.5V642.6M213.67 646.5V642.6M222.33 646.5V638.9M231 646.5V642.6M239.67 646.5V642.6M248.33 646.5V642.6M257 646.5V642.6M265.67 646.5V638.9M274.33 646.5V642.6M283 646.5V642.6M291.67 646.5V642.6M300.33 646.5V642.6M309 646.5V638.9M49 646.5H56.6M49 636.57H52.9M49 626.64H52.9M49 616.7H52.9M49 606.77H52.9M49 596.84H56.6M49 586.91H52.9M49 576.97H52.9M49 567.04H52.9M49 557.11H52.9M49 547.18H56.6M49 537.24H52.9M49 527.31H52.9M49 517.38H52.9M49 507.45H52.9M49 497.51H56.6M49 487.58H52.9M49 477.65H52.9M49 467.72H52.9M49 457.78H52.9M49 447.85H56.6M49 437.92H52.9M49 427.99H52.9M49 418.06H52.9M49 408.12H52.9M49 398.19H56.6M49 388.26H52.9M49 378.33H52.9M49 368.39H52.9M49 358.46H52.9" stroke="#000" stroke-width="1.6" fill="none"/>
<defs><linearGradient id="gc" x1="0" y1="1" x2="0" y2="0"><stop offset="0.00%" stop-color="#5ec5d7"/><stop offset="5.00%" stop-color="#5ec5d7"/><stop offset="5.00%" stop-color="#25bdd5"/><stop offset="10.00%" stop-color="#25bdd5"/><stop offset="10.00%" stop-color="#26b0cf"/><stop offset="15.00%" stop-color="#26b0cf"/><stop offset="15.00%" stop-color="#2aa3ca"/><stop offset="20.00%" stop-color="#2aa3ca"/><stop offset="20.00%" stop-color="#3096c5"/><stop offset="25.00%" stop-color="#3096c5"/><stop offset="25.00%" stop-color="#3889c1"/><stop offset="30.00%" stop-color="#3889c1"/><stop offset="30.00%" stop-color="#3f7dbc"/><stop offset="35.00%" stop-color="#3f7dbc"/><stop offset="35.00%" stop-color="#4671b6"/><stop offset="40.00%" stop-color="#4671b6"/><stop offset="40.00%" stop-color="#4e66b0"/><stop offset="45.00%" stop-color="#4e66b0"/><stop offset="45.00%" stop-color="#565dab"/><stop offset="50.00%" stop-color="#565dab"/><stop offset="50.00%" stop-color="#5e57a7"/><stop offset="55.00%" stop-color="#5e57a7"/><stop offset="55.00%" stop-color="#6652a5"/><stop offset="60.00%" stop-color="#6652a5"/><stop offset="60.00%" stop-color="#6e4ea3"/><stop offset="65.00%" stop-color="#6e4ea3"/><stop offset="65.00%" stop-color="#774ba1"/><stop offset="70.00%" stop-color="#774ba1"/><stop offset="70.00%" stop-color="#8049a0"/><stop offset="75.00%" stop-color="#8049a0"/><stop offset="75.00%" stop-color="#88479f"/><stop offset="80.00%" stop-color="#88479f"/><stop offset="80.00%" stop-color="#91479f"/><stop offset="85.00%" stop-color="#91479f"/><stop offset="85.00%" stop-color="#9a489f"/><stop offset="90.00%" stop-color="#9a489f"/><stop offset="90.00%" stop-color="#a3499e"/><stop offset="95.00%" stop-color="#a3499e"/><stop offset="95.00%" stop-color="#ae4c9e"/><stop offset="100.00%" stop-color="#ae4c9e"/></linearGradient></defs>
<rect x="310" y="352.7" width="14.1" height="293.8" fill="url(#gc)"/>
<line x1="325" y1="351.8" x2="325" y2="647.4" stroke="#000" stroke-width="1.8"/>
<path d="M325 646.5H316.9M325 609.73H316.9M325 572.96H316.9M325 536.19H316.9M325 499.42H316.9M325 462.65H316.9M325 425.87H316.9M325 389.1H316.9M325 352.33H316.9" stroke="#000" stroke-width="1.6" fill="none"/>
<g class="t"><text x="325.5" y="657.4">0</text><text x="330.9" y="614.18">2</text><text x="330.9" y="577.41">4</text><text x="330.9" y="540.64">6</text><text x="330.9" y="503.87">8</text><text x="330.9" y="467.1">10</text><text x="330.9" y="430.32">12</text><text x="330.9" y="393.55">14</text><text x="330.9" y="356.78">16</text></g>
<line x1="39.86" y1="661.6" x2="45.86" y2="661.6" stroke="#444" stroke-width="1.1"/>
<line x1="83.19" y1="661.6" x2="89.19" y2="661.6" stroke="#444" stroke-width="1.1"/>
<line x1="126.53" y1="661.6" x2="132.53" y2="661.6" stroke="#444" stroke-width="1.1"/>
<g class="t"><text x="53.1" y="665.5" text-anchor="middle">30</text><text x="96.43" y="665.5" text-anchor="middle">20</text><text x="139.77" y="665.5" text-anchor="middle">10</text><text x="179" y="665.5" text-anchor="middle">0</text><text x="224.43" y="665.5" text-anchor="middle">10</text><text x="267.77" y="665.5" text-anchor="middle">20</text><text x="311.1" y="665.5" text-anchor="middle">30</text></g>
<g class="t"><text x="41" y="650.15" text-anchor="end">0</text><text x="41" y="600.49" text-anchor="end">0.5</text><text x="41" y="550.83" text-anchor="end">1</text><text x="41" y="501.16" text-anchor="end">1.5</text><text x="41" y="451.5" text-anchor="end">2</text><text x="41" y="401.84" text-anchor="end">2.5</text></g>
<text class="t" x="180.2" y="685" text-anchor="middle">Axial position [cm]</text>
<text class="t" transform="translate(11 515.4) rotate(-90)" text-anchor="middle">Time (s)</text>
<text class="L" transform="translate(279.9 378) scale(0.95 1)">c</text>
<text class="L" x="291.7" y="376.4" style="font-size:26px">)</text>
<path fill="#26b0cf" d="M400.4 370.0h3.5v3.5h-3.5zM431.5 366.7h3.5v3.5h-3.5zM426.7 378.7h3.5v3.5h-3.5zM413.5 398.9h3.5v3.5h-3.5zM413.5 405.0h3.5v3.5h-3.5zM429.3 405.0h3.5v3.5h-3.5zM434.8 408.3h3.5v3.5h-3.5zM434.8 411.1h3.5v3.5h-3.5zM437.0 414.2h3.5v3.5h-3.5zM441.3 415.9h3.5v3.5h-3.5zM443.5 419.9h3.5v3.5h-3.5zM446.4 415.9h3.5v3.5h-3.5zM433.7 422.5h3.5v3.5h-3.5zM433.7 425.8h3.5v3.5h-3.5zM452.3 417.0h3.5v3.5h-3.5zM455.6 422.5h3.5v3.5h-3.5zM452.3 425.8h3.5v3.5h-3.5zM444.6 428.0h3.5v3.5h-3.5zM446.8 431.3h3.5v3.5h-3.5zM437.0 437.4h3.5v3.5h-3.5zM446.8 437.4h3.5v3.5h-3.5zM449.4 437.4h3.5v3.5h-3.5zM461.0 355.1h3.5v3.5h-3.5zM468.3 355.1h3.5v3.5h-3.5zM459.9 378.7h3.5v3.5h-3.5zM459.9 387.9h3.5v3.5h-3.5zM459.9 393.4h3.5v3.5h-3.5zM467.6 398.9h3.5v3.5h-3.5zM457.8 402.1h3.5v3.5h-3.5zM465.0 425.8h3.5v3.5h-3.5zM467.6 428.6h3.5v3.5h-3.5zM475.7 378.7h3.5v3.5h-3.5zM475.7 384.8h3.5v3.5h-3.5zM483.6 378.7h3.5v3.5h-3.5zM475.7 405.0h3.5v3.5h-3.5zM483.6 408.3h3.5v3.5h-3.5zM493.9 352.0h3.5v3.5h-3.5zM491.3 360.8h3.5v3.5h-3.5zM496.1 357.9h3.5v3.5h-3.5zM510.3 360.8h3.5v3.5h-3.5zM512.5 360.8h3.5v3.5h-3.5zM499.4 370.0h3.5v3.5h-3.5zM504.2 372.6h3.5v3.5h-3.5zM493.9 384.8h3.5v3.5h-3.5zM499.4 384.8h3.5v3.5h-3.5zM507.0 387.9h3.5v3.5h-3.5zM493.9 396.2h3.5v3.5h-3.5zM493.9 411.1h3.5v3.5h-3.5zM488.8 417.0h3.5v3.5h-3.5zM499.4 417.0h3.5v3.5h-3.5zM499.4 423.0h3.5v3.5h-3.5zM507.0 408.3h3.5v3.5h-3.5zM507.0 411.1h3.5v3.5h-3.5zM509.2 414.2h3.5v3.5h-3.5zM512.5 419.9h3.5v3.5h-3.5zM517.3 398.9h3.5v3.5h-3.5zM520.2 414.2h3.5v3.5h-3.5zM514.7 378.7h3.5v3.5h-3.5zM517.3 376.1h3.5v3.5h-3.5zM523.0 352.0h3.5v3.5h-3.5zM523.0 366.7h3.5v3.5h-3.5zM525.6 366.7h3.5v3.5h-3.5zM530.5 355.1h3.5v3.5h-3.5zM530.5 357.9h3.5v3.5h-3.5zM532.6 363.8h3.5v3.5h-3.5zM527.8 396.2h3.5v3.5h-3.5zM527.8 402.1h3.5v3.5h-3.5zM527.4 414.2h3.5v3.5h-3.5zM517.3 425.8h3.5v3.5h-3.5zM523.0 428.6h3.5v3.5h-3.5zM491.3 431.7h3.5v3.5h-3.5zM493.9 437.4h3.5v3.5h-3.5zM512.5 431.7h3.5v3.5h-3.5zM517.3 434.6h3.5v3.5h-3.5zM507.0 440.0h3.5v3.5h-3.5zM514.7 443.3h3.5v3.5h-3.5zM457.8 445.9h3.5v3.5h-3.5zM468.3 452.1h3.5v3.5h-3.5zM459.9 455.4h3.5v3.5h-3.5zM431.5 452.1h3.5v3.5h-3.5zM410.7 458.0h3.5v3.5h-3.5zM434.1 460.8h3.5v3.5h-3.5zM470.5 460.8h3.5v3.5h-3.5zM481.4 458.0h3.5v3.5h-3.5zM501.5 463.7h3.5v3.5h-3.5zM501.5 469.6h3.5v3.5h-3.5zM457.3 469.6h3.5v3.5h-3.5zM509.2 458.0h3.5v3.5h-3.5zM512.5 452.1h3.5v3.5h-3.5zM517.3 454.9h3.5v3.5h-3.5zM525.2 455.4h3.5v3.5h-3.5zM512.5 469.6h3.5v3.5h-3.5zM530.0 469.6h3.5v3.5h-3.5zM462.8 475.5h3.5v3.5h-3.5zM468.3 478.4h3.5v3.5h-3.5zM475.7 484.3h3.5v3.5h-3.5zM478.6 481.6h3.5v3.5h-3.5zM514.7 475.5h3.5v3.5h-3.5zM525.2 487.1h3.5v3.5h-3.5zM428.8 487.1h3.5v3.5h-3.5zM455.1 490.0h3.5v3.5h-3.5zM459.9 490.0h3.5v3.5h-3.5zM470.5 490.0h3.5v3.5h-3.5zM517.3 490.0h3.5v3.5h-3.5zM520.2 490.0h3.5v3.5h-3.5zM486.2 495.9h3.5v3.5h-3.5zM491.3 498.7h3.5v3.5h-3.5zM496.1 498.7h3.5v3.5h-3.5zM517.3 495.9h3.5v3.5h-3.5zM589.7 360.1h3.5v3.5h-3.5zM594.6 366.7h3.5v3.5h-3.5zM608.8 363.8h3.5v3.5h-3.5zM591.9 377.6h3.5v3.5h-3.5zM595.0 376.1h3.5v3.5h-3.5zM584.7 393.0h3.5v3.5h-3.5zM589.1 402.8h3.5v3.5h-3.5zM590.6 405.0h3.5v3.5h-3.5zM592.4 419.9h3.5v3.5h-3.5zM595.7 425.8h3.5v3.5h-3.5zM608.8 434.6h3.5v3.5h-3.5zM592.4 437.4h3.5v3.5h-3.5zM589.7 446.2h3.5v3.5h-3.5zM597.8 446.2h3.5v3.5h-3.5zM588.0 469.6h3.5v3.5h-3.5zM590.6 475.5h3.5v3.5h-3.5zM608.8 472.9h3.5v3.5h-3.5zM608.8 475.5h3.5v3.5h-3.5zM587.6 490.4h3.5v3.5h-3.5zM600.0 499.2h3.5v3.5h-3.5zM649.3 370.0h3.5v3.5h-3.5zM486.2 496.3h3.5v3.5h-3.5zM491.3 499.2h3.5v3.5h-3.5zM496.1 499.2h3.5v3.5h-3.5zM517.3 496.3h3.5v3.5h-3.5zM421.2 508.0h3.5v3.5h-3.5zM473.1 505.1h3.5v3.5h-3.5zM493.9 505.1h3.5v3.5h-3.5zM452.3 516.7h3.5v3.5h-3.5zM459.9 513.9h3.5v3.5h-3.5zM478.1 519.8h3.5v3.5h-3.5zM496.1 513.9h3.5v3.5h-3.5zM514.7 516.7h3.5v3.5h-3.5zM517.3 522.6h3.5v3.5h-3.5zM493.9 525.5h3.5v3.5h-3.5zM496.1 525.5h3.5v3.5h-3.5zM496.1 528.1h3.5v3.5h-3.5zM470.5 531.4h3.5v3.5h-3.5zM483.6 531.4h3.5v3.5h-3.5zM501.5 531.4h3.5v3.5h-3.5zM496.1 534.2h3.5v3.5h-3.5zM514.7 531.4h3.5v3.5h-3.5zM532.6 534.2h3.5v3.5h-3.5zM535.5 531.4h3.5v3.5h-3.5zM535.5 536.9h3.5v3.5h-3.5zM538.1 540.1h3.5v3.5h-3.5zM465.4 536.9h3.5v3.5h-3.5zM525.2 540.1h3.5v3.5h-3.5zM501.5 543.0h3.5v3.5h-3.5zM517.3 543.0h3.5v3.5h-3.5zM532.6 543.0h3.5v3.5h-3.5zM538.1 548.9h3.5v3.5h-3.5zM493.9 552.2h3.5v3.5h-3.5zM501.5 552.2h3.5v3.5h-3.5zM520.2 552.2h3.5v3.5h-3.5zM520.2 558.1h3.5v3.5h-3.5zM517.3 560.9h3.5v3.5h-3.5zM517.3 563.8h3.5v3.5h-3.5zM543.8 560.9h3.5v3.5h-3.5zM447.2 566.9h3.5v3.5h-3.5zM455.1 566.9h3.5v3.5h-3.5zM496.1 563.8h3.5v3.5h-3.5zM501.5 563.8h3.5v3.5h-3.5zM501.5 566.9h3.5v3.5h-3.5zM514.7 569.7h3.5v3.5h-3.5zM421.2 575.6h3.5v3.5h-3.5zM459.9 575.6h3.5v3.5h-3.5zM462.8 572.5h3.5v3.5h-3.5zM455.1 578.5h3.5v3.5h-3.5zM504.4 572.5h3.5v3.5h-3.5zM512.1 575.6h3.5v3.5h-3.5zM507.0 578.5h3.5v3.5h-3.5zM507.0 581.3h3.5v3.5h-3.5zM470.5 584.4h3.5v3.5h-3.5zM493.9 581.3h3.5v3.5h-3.5zM496.1 587.2h3.5v3.5h-3.5zM501.5 584.4h3.5v3.5h-3.5zM520.2 584.4h3.5v3.5h-3.5zM525.2 581.3h3.5v3.5h-3.5zM525.2 584.4h3.5v3.5h-3.5zM527.8 581.3h3.5v3.5h-3.5zM530.5 587.2h3.5v3.5h-3.5zM507.0 590.1h3.5v3.5h-3.5zM522.8 593.1h3.5v3.5h-3.5zM540.5 593.1h3.5v3.5h-3.5zM532.6 598.8h3.5v3.5h-3.5zM483.6 610.7h3.5v3.5h-3.5zM455.1 613.9h3.5v3.5h-3.5zM447.2 616.8h3.5v3.5h-3.5zM442.0 619.6h3.5v3.5h-3.5zM444.6 625.5h3.5v3.5h-3.5zM459.9 625.5h3.5v3.5h-3.5zM468.3 616.8h3.5v3.5h-3.5zM478.1 616.8h3.5v3.5h-3.5zM478.1 622.3h3.5v3.5h-3.5zM488.8 625.5h3.5v3.5h-3.5zM491.3 622.3h3.5v3.5h-3.5zM493.9 622.3h3.5v3.5h-3.5zM491.3 631.5h3.5v3.5h-3.5zM493.9 634.3h3.5v3.5h-3.5zM504.4 622.3h3.5v3.5h-3.5zM512.1 616.8h3.5v3.5h-3.5zM514.7 619.6h3.5v3.5h-3.5zM520.2 616.8h3.5v3.5h-3.5zM525.2 613.9h3.5v3.5h-3.5zM530.5 619.6h3.5v3.5h-3.5zM520.2 625.5h3.5v3.5h-3.5zM543.2 625.5h3.5v3.5h-3.5zM509.7 637.1h3.5v3.5h-3.5zM525.2 639.8h3.5v3.5h-3.5zM556.2 499.2h3.5v3.5h-3.5zM600.0 499.2h3.5v3.5h-3.5zM639.5 499.2h3.5v3.5h-3.5zM616.0 505.1h3.5v3.5h-3.5zM602.9 511.0h3.5v3.5h-3.5zM548.1 513.9h3.5v3.5h-3.5zM550.8 511.0h3.5v3.5h-3.5zM553.4 534.2h3.5v3.5h-3.5zM597.8 531.4h3.5v3.5h-3.5zM584.7 537.3h3.5v3.5h-3.5zM545.3 560.5h3.5v3.5h-3.5zM548.1 560.5h3.5v3.5h-3.5zM566.5 558.1h3.5v3.5h-3.5zM589.7 558.1h3.5v3.5h-3.5zM561.3 569.7h3.5v3.5h-3.5zM555.8 578.5h3.5v3.5h-3.5zM563.9 581.3h3.5v3.5h-3.5zM587.6 584.4h3.5v3.5h-3.5zM590.6 584.4h3.5v3.5h-3.5zM610.3 584.4h3.5v3.5h-3.5zM613.2 581.3h3.5v3.5h-3.5zM546.0 593.1h3.5v3.5h-3.5zM581.9 598.8h3.5v3.5h-3.5zM581.9 604.7h3.5v3.5h-3.5zM608.1 608.0h3.5v3.5h-3.5zM561.3 616.8h3.5v3.5h-3.5zM587.6 619.6h3.5v3.5h-3.5zM620.8 637.1h3.5v3.5h-3.5zM587.6 639.8h3.5v3.5h-3.5zM561.3 642.4h3.5v3.5h-3.5zM434.7 421.8h3.6v3.7h-3.6zM434.7 415.2h3.6v3.7h-3.6zM434.7 405.3h3.6v3.7h-3.6zM438.0 435.0h3.6v3.7h-3.6zM438.0 402.0h3.6v3.7h-3.6zM438.0 388.8h3.6v3.7h-3.6zM438.0 385.5h3.6v3.7h-3.6zM438.0 382.2h3.6v3.7h-3.6zM438.0 378.9h3.6v3.7h-3.6zM438.0 369.0h3.6v3.7h-3.6zM438.0 365.7h3.6v3.7h-3.6zM441.2 435.0h3.6v3.7h-3.6zM441.2 428.4h3.6v3.7h-3.6zM441.2 415.2h3.6v3.7h-3.6zM441.2 405.3h3.6v3.7h-3.6zM441.2 395.4h3.6v3.7h-3.6zM441.2 382.2h3.6v3.7h-3.6zM441.2 375.6h3.6v3.7h-3.6zM441.2 369.0h3.6v3.7h-3.6zM441.2 359.1h3.6v3.7h-3.6zM444.5 428.4h3.6v3.7h-3.6zM444.5 425.1h3.6v3.7h-3.6zM444.5 418.5h3.6v3.7h-3.6zM444.5 408.6h3.6v3.7h-3.6zM444.5 385.5h3.6v3.7h-3.6zM444.5 382.2h3.6v3.7h-3.6zM444.5 372.3h3.6v3.7h-3.6zM444.5 359.1h3.6v3.7h-3.6zM447.7 428.4h3.6v3.7h-3.6zM447.7 408.6h3.6v3.7h-3.6zM447.7 388.8h3.6v3.7h-3.6zM450.9 411.9h3.6v3.7h-3.6zM450.9 398.7h3.6v3.7h-3.6zM450.9 392.1h3.6v3.7h-3.6zM450.9 382.2h3.6v3.7h-3.6zM450.9 372.3h3.6v3.7h-3.6zM450.9 359.1h3.6v3.7h-3.6zM450.9 355.8h3.6v3.7h-3.6zM454.2 421.8h3.6v3.7h-3.6zM454.2 408.6h3.6v3.7h-3.6zM454.2 392.1h3.6v3.7h-3.6zM454.2 382.2h3.6v3.7h-3.6zM454.2 365.7h3.6v3.7h-3.6zM454.2 362.4h3.6v3.7h-3.6zM454.2 359.1h3.6v3.7h-3.6zM457.4 411.9h3.6v3.7h-3.6zM457.4 385.5h3.6v3.7h-3.6zM457.4 359.1h3.6v3.7h-3.6zM457.4 355.8h3.6v3.7h-3.6zM460.7 372.3h3.6v3.7h-3.6zM525.5 491.1h3.6v3.7h-3.6zM525.5 484.5h3.6v3.7h-3.6zM528.8 494.4h3.6v3.7h-3.6zM528.8 481.2h3.6v3.7h-3.6zM528.8 477.9h3.6v3.7h-3.6zM528.8 444.9h3.6v3.7h-3.6zM532.0 491.1h3.6v3.7h-3.6zM532.0 487.8h3.6v3.7h-3.6zM532.0 477.9h3.6v3.7h-3.6zM532.0 461.4h3.6v3.7h-3.6zM532.0 372.3h3.6v3.7h-3.6zM535.3 494.4h3.6v3.7h-3.6zM535.3 471.3h3.6v3.7h-3.6zM535.3 454.8h3.6v3.7h-3.6zM535.3 451.5h3.6v3.7h-3.6zM535.3 441.6h3.6v3.7h-3.6zM535.3 428.4h3.6v3.7h-3.6zM535.3 421.8h3.6v3.7h-3.6zM535.3 415.2h3.6v3.7h-3.6zM535.3 405.3h3.6v3.7h-3.6zM535.3 385.5h3.6v3.7h-3.6zM535.3 362.4h3.6v3.7h-3.6zM538.5 497.7h3.6v3.7h-3.6zM538.5 484.5h3.6v3.7h-3.6zM538.5 477.9h3.6v3.7h-3.6zM538.5 454.8h3.6v3.7h-3.6zM538.5 448.2h3.6v3.7h-3.6zM538.5 444.9h3.6v3.7h-3.6zM538.5 408.6h3.6v3.7h-3.6zM538.5 405.3h3.6v3.7h-3.6zM538.5 402.0h3.6v3.7h-3.6zM538.5 392.1h3.6v3.7h-3.6zM538.5 385.5h3.6v3.7h-3.6zM538.5 359.1h3.6v3.7h-3.6zM541.8 501.1h3.6v3.7h-3.6zM541.8 487.8h3.6v3.7h-3.6zM541.8 471.3h3.6v3.7h-3.6zM541.8 461.4h3.6v3.7h-3.6zM541.8 441.6h3.6v3.7h-3.6zM541.8 435.0h3.6v3.7h-3.6zM541.8 431.7h3.6v3.7h-3.6zM541.8 428.4h3.6v3.7h-3.6zM541.8 425.1h3.6v3.7h-3.6zM541.8 395.4h3.6v3.7h-3.6zM541.8 392.1h3.6v3.7h-3.6zM541.8 385.5h3.6v3.7h-3.6zM541.8 372.3h3.6v3.7h-3.6zM541.8 359.1h3.6v3.7h-3.6zM541.8 352.5h3.6v3.7h-3.6zM545.0 497.7h3.6v3.7h-3.6zM545.0 491.1h3.6v3.7h-3.6zM545.0 481.2h3.6v3.7h-3.6zM545.0 451.5h3.6v3.7h-3.6zM545.0 448.2h3.6v3.7h-3.6zM545.0 444.9h3.6v3.7h-3.6zM545.0 438.3h3.6v3.7h-3.6zM545.0 405.3h3.6v3.7h-3.6zM545.0 402.0h3.6v3.7h-3.6zM545.0 388.8h3.6v3.7h-3.6zM545.0 378.9h3.6v3.7h-3.6zM545.0 362.4h3.6v3.7h-3.6zM545.0 355.8h3.6v3.7h-3.6zM545.0 352.5h3.6v3.7h-3.6zM548.3 494.4h3.6v3.7h-3.6zM548.3 471.3h3.6v3.7h-3.6zM548.3 468.0h3.6v3.7h-3.6zM548.3 464.7h3.6v3.7h-3.6zM548.3 461.4h3.6v3.7h-3.6zM548.3 454.8h3.6v3.7h-3.6zM548.3 441.6h3.6v3.7h-3.6zM548.3 418.5h3.6v3.7h-3.6zM548.3 415.2h3.6v3.7h-3.6zM548.3 411.9h3.6v3.7h-3.6zM548.3 408.6h3.6v3.7h-3.6zM548.3 405.3h3.6v3.7h-3.6zM548.3 402.0h3.6v3.7h-3.6zM548.3 395.4h3.6v3.7h-3.6zM548.3 378.9h3.6v3.7h-3.6zM548.3 372.3h3.6v3.7h-3.6zM548.3 362.4h3.6v3.7h-3.6zM548.3 359.1h3.6v3.7h-3.6zM551.5 494.4h3.6v3.7h-3.6zM551.5 487.8h3.6v3.7h-3.6zM551.5 471.3h3.6v3.7h-3.6zM551.5 451.5h3.6v3.7h-3.6zM551.5 448.2h3.6v3.7h-3.6zM551.5 421.8h3.6v3.7h-3.6zM551.5 415.2h3.6v3.7h-3.6zM551.5 408.6h3.6v3.7h-3.6zM551.5 405.3h3.6v3.7h-3.6zM551.5 398.7h3.6v3.7h-3.6zM551.5 388.8h3.6v3.7h-3.6zM551.5 375.6h3.6v3.7h-3.6zM551.5 365.7h3.6v3.7h-3.6zM551.5 362.4h3.6v3.7h-3.6zM551.5 355.8h3.6v3.7h-3.6zM554.7 474.6h3.6v3.7h-3.6zM554.7 471.3h3.6v3.7h-3.6zM554.7 468.0h3.6v3.7h-3.6zM554.7 464.7h3.6v3.7h-3.6zM554.7 451.5h3.6v3.7h-3.6zM554.7 448.2h3.6v3.7h-3.6zM554.7 438.3h3.6v3.7h-3.6zM554.7 425.1h3.6v3.7h-3.6zM554.7 418.5h3.6v3.7h-3.6zM554.7 402.0h3.6v3.7h-3.6zM554.7 392.1h3.6v3.7h-3.6zM554.7 388.8h3.6v3.7h-3.6zM554.7 378.9h3.6v3.7h-3.6zM554.7 375.6h3.6v3.7h-3.6zM554.7 369.0h3.6v3.7h-3.6zM554.7 362.4h3.6v3.7h-3.6zM554.7 352.5h3.6v3.7h-3.6zM558.0 484.5h3.6v3.7h-3.6zM558.0 481.2h3.6v3.7h-3.6zM558.0 477.9h3.6v3.7h-3.6zM558.0 474.6h3.6v3.7h-3.6zM558.0 464.7h3.6v3.7h-3.6zM558.0 461.4h3.6v3.7h-3.6zM558.0 444.9h3.6v3.7h-3.6zM558.0 431.7h3.6v3.7h-3.6zM558.0 398.7h3.6v3.7h-3.6zM558.0 385.5h3.6v3.7h-3.6zM558.0 378.9h3.6v3.7h-3.6zM558.0 375.6h3.6v3.7h-3.6zM558.0 359.1h3.6v3.7h-3.6zM558.0 352.5h3.6v3.7h-3.6zM561.2 487.8h3.6v3.7h-3.6zM561.2 477.9h3.6v3.7h-3.6zM561.2 471.3h3.6v3.7h-3.6zM561.2 468.0h3.6v3.7h-3.6zM561.2 454.8h3.6v3.7h-3.6zM561.2 425.1h3.6v3.7h-3.6zM561.2 421.8h3.6v3.7h-3.6zM561.2 408.6h3.6v3.7h-3.6zM561.2 402.0h3.6v3.7h-3.6zM561.2 392.1h3.6v3.7h-3.6zM561.2 378.9h3.6v3.7h-3.6zM561.2 375.6h3.6v3.7h-3.6zM561.2 362.4h3.6v3.7h-3.6zM561.2 355.8h3.6v3.7h-3.6zM564.5 497.7h3.6v3.7h-3.6zM564.5 468.0h3.6v3.7h-3.6zM564.5 464.7h3.6v3.7h-3.6zM564.5 461.4h3.6v3.7h-3.6zM564.5 451.5h3.6v3.7h-3.6zM564.5 415.2h3.6v3.7h-3.6zM564.5 402.0h3.6v3.7h-3.6zM564.5 395.4h3.6v3.7h-3.6zM564.5 369.0h3.6v3.7h-3.6zM564.5 352.5h3.6v3.7h-3.6zM567.7 497.7h3.6v3.7h-3.6zM567.7 471.3h3.6v3.7h-3.6zM567.7 468.0h3.6v3.7h-3.6zM567.7 454.8h3.6v3.7h-3.6zM567.7 448.2h3.6v3.7h-3.6zM567.7 438.3h3.6v3.7h-3.6zM567.7 435.0h3.6v3.7h-3.6zM567.7 418.5h3.6v3.7h-3.6zM567.7 411.9h3.6v3.7h-3.6zM567.7 398.7h3.6v3.7h-3.6zM567.7 382.2h3.6v3.7h-3.6zM567.7 362.4h3.6v3.7h-3.6zM567.7 359.1h3.6v3.7h-3.6zM567.7 355.8h3.6v3.7h-3.6zM571.0 494.4h3.6v3.7h-3.6zM571.0 444.9h3.6v3.7h-3.6zM571.0 438.3h3.6v3.7h-3.6zM571.0 435.0h3.6v3.7h-3.6zM571.0 411.9h3.6v3.7h-3.6zM571.0 405.3h3.6v3.7h-3.6zM571.0 398.7h3.6v3.7h-3.6zM571.0 392.1h3.6v3.7h-3.6zM571.0 388.8h3.6v3.7h-3.6zM571.0 385.5h3.6v3.7h-3.6zM571.0 382.2h3.6v3.7h-3.6zM571.0 369.0h3.6v3.7h-3.6zM571.0 355.8h3.6v3.7h-3.6zM574.2 487.8h3.6v3.7h-3.6zM574.2 481.2h3.6v3.7h-3.6zM574.2 471.3h3.6v3.7h-3.6zM574.2 464.7h3.6v3.7h-3.6zM574.2 448.2h3.6v3.7h-3.6zM574.2 428.4h3.6v3.7h-3.6zM574.2 421.8h3.6v3.7h-3.6zM574.2 411.9h3.6v3.7h-3.6zM574.2 408.6h3.6v3.7h-3.6zM574.2 365.7h3.6v3.7h-3.6zM574.2 359.1h3.6v3.7h-3.6zM574.2 352.5h3.6v3.7h-3.6zM577.4 494.4h3.6v3.7h-3.6zM577.4 477.9h3.6v3.7h-3.6zM577.4 474.6h3.6v3.7h-3.6zM577.4 471.3h3.6v3.7h-3.6zM577.4 464.7h3.6v3.7h-3.6zM577.4 451.5h3.6v3.7h-3.6zM577.4 448.2h3.6v3.7h-3.6zM577.4 441.6h3.6v3.7h-3.6zM577.4 428.4h3.6v3.7h-3.6zM577.4 425.1h3.6v3.7h-3.6zM577.4 418.5h3.6v3.7h-3.6zM577.4 415.2h3.6v3.7h-3.6zM577.4 402.0h3.6v3.7h-3.6zM577.4 398.7h3.6v3.7h-3.6zM577.4 378.9h3.6v3.7h-3.6zM577.4 365.7h3.6v3.7h-3.6zM577.4 362.4h3.6v3.7h-3.6zM577.4 359.1h3.6v3.7h-3.6zM580.7 491.1h3.6v3.7h-3.6zM580.7 477.9h3.6v3.7h-3.6zM580.7 461.4h3.6v3.7h-3.6zM580.7 451.5h3.6v3.7h-3.6zM580.7 441.6h3.6v3.7h-3.6zM580.7 431.7h3.6v3.7h-3.6zM580.7 428.4h3.6v3.7h-3.6zM580.7 425.1h3.6v3.7h-3.6zM580.7 415.2h3.6v3.7h-3.6zM580.7 411.9h3.6v3.7h-3.6zM580.7 408.6h3.6v3.7h-3.6zM580.7 405.3h3.6v3.7h-3.6zM580.7 395.4h3.6v3.7h-3.6zM580.7 392.1h3.6v3.7h-3.6zM580.7 385.5h3.6v3.7h-3.6zM580.7 382.2h3.6v3.7h-3.6zM580.7 372.3h3.6v3.7h-3.6zM580.7 355.8h3.6v3.7h-3.6zM583.9 494.4h3.6v3.7h-3.6zM583.9 487.8h3.6v3.7h-3.6zM583.9 484.5h3.6v3.7h-3.6zM583.9 454.8h3.6v3.7h-3.6zM583.9 441.6h3.6v3.7h-3.6zM583.9 438.3h3.6v3.7h-3.6zM583.9 431.7h3.6v3.7h-3.6zM583.9 425.1h3.6v3.7h-3.6zM583.9 421.8h3.6v3.7h-3.6zM583.9 418.5h3.6v3.7h-3.6zM583.9 405.3h3.6v3.7h-3.6zM583.9 382.2h3.6v3.7h-3.6zM583.9 352.5h3.6v3.7h-3.6zM587.2 494.4h3.6v3.7h-3.6zM587.2 491.1h3.6v3.7h-3.6zM587.2 487.8h3.6v3.7h-3.6zM587.2 484.5h3.6v3.7h-3.6zM587.2 464.7h3.6v3.7h-3.6zM587.2 444.9h3.6v3.7h-3.6zM587.2 418.5h3.6v3.7h-3.6zM587.2 382.2h3.6v3.7h-3.6zM587.2 378.9h3.6v3.7h-3.6zM587.2 359.1h3.6v3.7h-3.6z"/>
<path fill="#3096c5" d="M457.8 366.7h3.5v3.5h-3.5zM504.2 360.8h3.5v3.5h-3.5zM496.1 408.3h3.5v3.5h-3.5zM517.3 460.8h3.5v3.5h-3.5zM512.5 478.4h3.5v3.5h-3.5zM517.3 481.6h3.5v3.5h-3.5zM507.0 490.0h3.5v3.5h-3.5zM595.0 487.1h3.5v3.5h-3.5zM525.2 528.5h3.5v3.5h-3.5zM488.8 548.9h3.5v3.5h-3.5zM434.7 402.0h3.6v3.7h-3.6zM441.2 402.0h3.6v3.7h-3.6zM441.2 392.1h3.6v3.7h-3.6zM441.2 385.5h3.6v3.7h-3.6zM444.5 398.7h3.6v3.7h-3.6zM444.5 395.4h3.6v3.7h-3.6zM444.5 388.8h3.6v3.7h-3.6zM444.5 369.0h3.6v3.7h-3.6zM444.5 365.7h3.6v3.7h-3.6zM447.7 435.0h3.6v3.7h-3.6zM447.7 411.9h3.6v3.7h-3.6zM447.7 362.4h3.6v3.7h-3.6zM447.7 352.5h3.6v3.7h-3.6zM450.9 418.5h3.6v3.7h-3.6zM450.9 405.3h3.6v3.7h-3.6zM450.9 402.0h3.6v3.7h-3.6zM450.9 365.7h3.6v3.7h-3.6zM450.9 362.4h3.6v3.7h-3.6zM450.9 352.5h3.6v3.7h-3.6zM454.2 402.0h3.6v3.7h-3.6zM454.2 372.3h3.6v3.7h-3.6zM532.0 484.5h3.6v3.7h-3.6zM535.3 487.8h3.6v3.7h-3.6zM535.3 461.4h3.6v3.7h-3.6zM535.3 448.2h3.6v3.7h-3.6zM535.3 431.7h3.6v3.7h-3.6zM535.3 375.6h3.6v3.7h-3.6zM538.5 487.8h3.6v3.7h-3.6zM538.5 474.6h3.6v3.7h-3.6zM538.5 468.0h3.6v3.7h-3.6zM538.5 464.7h3.6v3.7h-3.6zM538.5 451.5h3.6v3.7h-3.6zM538.5 435.0h3.6v3.7h-3.6zM538.5 431.7h3.6v3.7h-3.6zM538.5 372.3h3.6v3.7h-3.6zM541.8 491.1h3.6v3.7h-3.6zM541.8 454.8h3.6v3.7h-3.6zM541.8 438.3h3.6v3.7h-3.6zM541.8 421.8h3.6v3.7h-3.6zM541.8 418.5h3.6v3.7h-3.6zM541.8 405.3h3.6v3.7h-3.6zM545.0 494.4h3.6v3.7h-3.6zM545.0 487.8h3.6v3.7h-3.6zM545.0 484.5h3.6v3.7h-3.6zM545.0 471.3h3.6v3.7h-3.6zM545.0 435.0h3.6v3.7h-3.6zM545.0 418.5h3.6v3.7h-3.6zM545.0 395.4h3.6v3.7h-3.6zM548.3 497.7h3.6v3.7h-3.6zM548.3 491.1h3.6v3.7h-3.6zM548.3 487.8h3.6v3.7h-3.6zM548.3 481.2h3.6v3.7h-3.6zM548.3 474.6h3.6v3.7h-3.6zM548.3 451.5h3.6v3.7h-3.6zM548.3 448.2h3.6v3.7h-3.6zM548.3 444.9h3.6v3.7h-3.6zM548.3 425.1h3.6v3.7h-3.6zM548.3 385.5h3.6v3.7h-3.6zM551.5 497.7h3.6v3.7h-3.6zM551.5 481.2h3.6v3.7h-3.6zM551.5 468.0h3.6v3.7h-3.6zM551.5 464.7h3.6v3.7h-3.6zM551.5 461.4h3.6v3.7h-3.6zM551.5 441.6h3.6v3.7h-3.6zM554.7 484.5h3.6v3.7h-3.6zM554.7 461.4h3.6v3.7h-3.6zM554.7 454.8h3.6v3.7h-3.6zM554.7 441.6h3.6v3.7h-3.6zM554.7 435.0h3.6v3.7h-3.6zM554.7 431.7h3.6v3.7h-3.6zM554.7 428.4h3.6v3.7h-3.6zM554.7 408.6h3.6v3.7h-3.6zM554.7 405.3h3.6v3.7h-3.6zM558.0 471.3h3.6v3.7h-3.6zM558.0 441.6h3.6v3.7h-3.6zM558.0 438.3h3.6v3.7h-3.6zM558.0 405.3h3.6v3.7h-3.6zM561.2 497.7h3.6v3.7h-3.6zM561.2 494.4h3.6v3.7h-3.6zM561.2 464.7h3.6v3.7h-3.6zM561.2 458.1h3.6v3.7h-3.6zM561.2 451.5h3.6v3.7h-3.6zM561.2 448.2h3.6v3.7h-3.6zM561.2 444.9h3.6v3.7h-3.6zM561.2 431.7h3.6v3.7h-3.6zM561.2 428.4h3.6v3.7h-3.6zM561.2 385.5h3.6v3.7h-3.6zM561.2 359.1h3.6v3.7h-3.6zM564.5 471.3h3.6v3.7h-3.6zM564.5 458.1h3.6v3.7h-3.6zM564.5 441.6h3.6v3.7h-3.6zM564.5 365.7h3.6v3.7h-3.6zM567.7 491.1h3.6v3.7h-3.6zM567.7 487.8h3.6v3.7h-3.6zM567.7 481.2h3.6v3.7h-3.6zM567.7 464.7h3.6v3.7h-3.6zM567.7 461.4h3.6v3.7h-3.6zM567.7 451.5h3.6v3.7h-3.6zM567.7 372.3h3.6v3.7h-3.6zM567.7 352.5h3.6v3.7h-3.6zM571.0 497.7h3.6v3.7h-3.6zM571.0 461.4h3.6v3.7h-3.6zM571.0 458.1h3.6v3.7h-3.6zM571.0 448.2h3.6v3.7h-3.6zM571.0 421.8h3.6v3.7h-3.6zM571.0 372.3h3.6v3.7h-3.6zM571.0 359.1h3.6v3.7h-3.6zM574.2 497.7h3.6v3.7h-3.6zM574.2 491.1h3.6v3.7h-3.6zM574.2 468.0h3.6v3.7h-3.6zM574.2 458.1h3.6v3.7h-3.6zM574.2 451.5h3.6v3.7h-3.6zM574.2 441.6h3.6v3.7h-3.6zM574.2 425.1h3.6v3.7h-3.6zM574.2 415.2h3.6v3.7h-3.6zM574.2 398.7h3.6v3.7h-3.6zM574.2 362.4h3.6v3.7h-3.6zM577.4 497.7h3.6v3.7h-3.6zM577.4 481.2h3.6v3.7h-3.6zM577.4 468.0h3.6v3.7h-3.6zM577.4 461.4h3.6v3.7h-3.6zM577.4 458.1h3.6v3.7h-3.6zM577.4 421.8h3.6v3.7h-3.6zM577.4 408.6h3.6v3.7h-3.6zM577.4 385.5h3.6v3.7h-3.6zM580.7 497.7h3.6v3.7h-3.6zM580.7 484.5h3.6v3.7h-3.6zM580.7 474.6h3.6v3.7h-3.6zM580.7 464.7h3.6v3.7h-3.6zM580.7 454.8h3.6v3.7h-3.6zM580.7 448.2h3.6v3.7h-3.6zM580.7 438.3h3.6v3.7h-3.6zM580.7 421.8h3.6v3.7h-3.6zM580.7 369.0h3.6v3.7h-3.6zM580.7 362.4h3.6v3.7h-3.6zM583.9 481.2h3.6v3.7h-3.6zM583.9 468.0h3.6v3.7h-3.6zM583.9 458.1h3.6v3.7h-3.6zM583.9 451.5h3.6v3.7h-3.6zM583.9 448.2h3.6v3.7h-3.6zM587.2 497.7h3.6v3.7h-3.6zM587.2 481.2h3.6v3.7h-3.6zM587.2 454.8h3.6v3.7h-3.6z"/>
<path fill="#4671b6" d="M438.0 398.7h3.6v3.7h-3.6zM441.2 378.9h3.6v3.7h-3.6zM441.2 365.7h3.6v3.7h-3.6zM441.2 362.4h3.6v3.7h-3.6zM441.2 355.8h3.6v3.7h-3.6zM441.2 352.5h3.6v3.7h-3.6zM444.5 392.1h3.6v3.7h-3.6zM444.5 352.5h3.6v3.7h-3.6zM447.7 382.2h3.6v3.7h-3.6zM447.7 378.9h3.6v3.7h-3.6zM450.9 408.6h3.6v3.7h-3.6zM450.9 385.5h3.6v3.7h-3.6zM450.9 378.9h3.6v3.7h-3.6zM454.2 395.4h3.6v3.7h-3.6zM535.3 477.9h3.6v3.7h-3.6zM538.5 494.4h3.6v3.7h-3.6zM538.5 491.1h3.6v3.7h-3.6zM538.5 438.3h3.6v3.7h-3.6zM538.5 418.5h3.6v3.7h-3.6zM541.8 484.5h3.6v3.7h-3.6zM541.8 481.2h3.6v3.7h-3.6zM541.8 477.9h3.6v3.7h-3.6zM541.8 474.6h3.6v3.7h-3.6zM545.0 477.9h3.6v3.7h-3.6zM545.0 425.1h3.6v3.7h-3.6zM548.3 477.9h3.6v3.7h-3.6zM548.3 435.0h3.6v3.7h-3.6zM551.5 491.1h3.6v3.7h-3.6zM551.5 477.9h3.6v3.7h-3.6zM551.5 474.6h3.6v3.7h-3.6zM551.5 458.1h3.6v3.7h-3.6zM551.5 454.8h3.6v3.7h-3.6zM551.5 428.4h3.6v3.7h-3.6zM554.7 494.4h3.6v3.7h-3.6zM554.7 491.1h3.6v3.7h-3.6zM554.7 487.8h3.6v3.7h-3.6zM554.7 477.9h3.6v3.7h-3.6zM554.7 444.9h3.6v3.7h-3.6zM554.7 421.8h3.6v3.7h-3.6zM558.0 497.7h3.6v3.7h-3.6zM558.0 487.8h3.6v3.7h-3.6zM558.0 468.0h3.6v3.7h-3.6zM558.0 458.1h3.6v3.7h-3.6zM561.2 484.5h3.6v3.7h-3.6zM561.2 481.2h3.6v3.7h-3.6zM564.5 487.8h3.6v3.7h-3.6zM564.5 477.9h3.6v3.7h-3.6zM564.5 405.3h3.6v3.7h-3.6zM567.7 458.1h3.6v3.7h-3.6zM571.0 491.1h3.6v3.7h-3.6zM571.0 468.0h3.6v3.7h-3.6zM571.0 441.6h3.6v3.7h-3.6zM574.2 494.4h3.6v3.7h-3.6zM574.2 444.9h3.6v3.7h-3.6zM577.4 484.5h3.6v3.7h-3.6zM580.7 458.1h3.6v3.7h-3.6zM583.9 477.9h3.6v3.7h-3.6zM583.9 474.6h3.6v3.7h-3.6zM583.9 402.0h3.6v3.7h-3.6zM587.2 458.1h3.6v3.7h-3.6z"/>
<path fill="#565dab" d="M441.2 398.7h3.6v3.7h-3.6zM441.2 388.8h3.6v3.7h-3.6zM444.5 375.6h3.6v3.7h-3.6zM447.7 402.0h3.6v3.7h-3.6zM447.7 398.7h3.6v3.7h-3.6zM447.7 392.1h3.6v3.7h-3.6zM447.7 375.6h3.6v3.7h-3.6zM447.7 365.7h3.6v3.7h-3.6zM447.7 355.8h3.6v3.7h-3.6zM450.9 369.0h3.6v3.7h-3.6zM538.5 441.6h3.6v3.7h-3.6zM545.0 468.0h3.6v3.7h-3.6zM545.0 461.4h3.6v3.7h-3.6zM545.0 458.1h3.6v3.7h-3.6zM545.0 454.8h3.6v3.7h-3.6zM551.5 484.5h3.6v3.7h-3.6zM554.7 497.7h3.6v3.7h-3.6zM554.7 458.1h3.6v3.7h-3.6zM558.0 451.5h3.6v3.7h-3.6zM564.5 491.1h3.6v3.7h-3.6zM564.5 484.5h3.6v3.7h-3.6zM564.5 474.6h3.6v3.7h-3.6zM567.7 484.5h3.6v3.7h-3.6zM571.0 484.5h3.6v3.7h-3.6zM571.0 471.3h3.6v3.7h-3.6zM571.0 464.7h3.6v3.7h-3.6zM574.2 405.3h3.6v3.7h-3.6zM577.4 454.8h3.6v3.7h-3.6zM580.7 494.4h3.6v3.7h-3.6zM580.7 481.2h3.6v3.7h-3.6zM580.7 468.0h3.6v3.7h-3.6zM583.9 464.7h3.6v3.7h-3.6zM587.2 428.4h3.6v3.7h-3.6z"/>
<path fill="#6e4ea3" d="M444.5 411.9h3.6v3.7h-3.6zM444.5 402.0h3.6v3.7h-3.6zM444.5 355.8h3.6v3.7h-3.6zM447.7 405.3h3.6v3.7h-3.6zM447.7 395.4h3.6v3.7h-3.6zM447.7 385.5h3.6v3.7h-3.6zM447.7 372.3h3.6v3.7h-3.6zM447.7 369.0h3.6v3.7h-3.6zM538.5 471.3h3.6v3.7h-3.6zM558.0 454.8h3.6v3.7h-3.6zM561.2 491.1h3.6v3.7h-3.6zM564.5 431.7h3.6v3.7h-3.6zM567.7 477.9h3.6v3.7h-3.6zM571.0 487.8h3.6v3.7h-3.6zM571.0 481.2h3.6v3.7h-3.6zM571.0 477.9h3.6v3.7h-3.6zM574.2 484.5h3.6v3.7h-3.6z"/>
<path fill="#8049a0" d="M444.5 405.3h3.6v3.7h-3.6zM447.7 359.1h3.6v3.7h-3.6zM541.8 458.1h3.6v3.7h-3.6z"/>
<path fill="#9a489f" d="M548.3 484.5h3.6v3.7h-3.6z"/>
<path fill="#ae4c9e" d="M558.0 491.1h3.6v3.7h-3.6zM564.5 494.4h3.6v3.7h-3.6z"/>
<line x1="465.2" y1="352.7" x2="465.2" y2="646.5" stroke="#e80a50" stroke-width="2.1" stroke-dasharray="14.1 14.77" stroke-dashoffset="6.6"/>
<line x1="586.3" y1="352.7" x2="586.3" y2="646.5" stroke="#e80a50" stroke-width="2.1" stroke-dasharray="14.1 14.77" stroke-dashoffset="5.6"/>
<rect x="396" y="352.7" width="259.5" height="293.8" fill="none" stroke="#000" stroke-width="2.3"/>
<path d="M396 646.5V638.9M404.65 646.5V642.6M413.3 646.5V642.6M421.95 646.5V642.6M430.6 646.5V642.6M439.25 646.5V638.9M447.9 646.5V642.6M456.55 646.5V642.6M465.2 646.5V642.6M473.85 646.5V642.6M482.5 646.5V638.9M491.15 646.5V642.6M499.8 646.5V642.6M508.45 646.5V642.6M517.1 646.5V642.6M525.75 646.5V638.9M534.4 646.5V642.6M543.05 646.5V642.6M551.7 646.5V642.6M560.35 646.5V642.6M569 646.5V638.9M577.65 646.5V642.6M586.3 646.5V642.6M594.95 646.5V642.6M603.6 646.5V642.6M612.25 646.5V638.9M620.9 646.5V642.6M629.55 646.5V642.6M638.2 646.5V642.6M646.85 646.5V642.6M655.5 646.5V638.9M396 646.5H403.6M396 639.15H399.9M396 631.81H399.9M396 624.47H399.9M396 617.12H403.6M396 609.77H399.9M396 602.43H399.9M396 595.09H399.9M396 587.74H403.6M396 580.39H399.9M396 573.05H399.9M396 565.7H399.9M396 558.36H403.6M396 551.01H399.9M396 543.67H399.9M396 536.33H399.9M396 528.98H403.6M396 521.63H399.9M396 514.29H399.9M396 506.94H399.9M396 499.6H403.6M396 492.25H399.9M396 484.91H399.9M396 477.56H399.9M396 470.22H403.6M396 462.88H399.9M396 455.53H399.9M396 448.18H399.9M396 440.84H403.6M396 433.5H399.9M396 426.15H399.9M396 418.8H399.9M396 411.46H403.6M396 404.12H399.9M396 396.77H399.9M396 389.43H399.9M396 382.08H403.6M396 374.73H399.9M396 367.39H399.9M396 360.04H399.9M396 352.7H403.6" stroke="#000" stroke-width="1.6" fill="none"/>
<defs><linearGradient id="gd" x1="0" y1="1" x2="0" y2="0"><stop offset="0.00%" stop-color="#5ec5d7"/><stop offset="5.00%" stop-color="#5ec5d7"/><stop offset="5.00%" stop-color="#25bdd5"/><stop offset="10.00%" stop-color="#25bdd5"/><stop offset="10.00%" stop-color="#26b0cf"/><stop offset="15.00%" stop-color="#26b0cf"/><stop offset="15.00%" stop-color="#2aa3ca"/><stop offset="20.00%" stop-color="#2aa3ca"/><stop offset="20.00%" stop-color="#3096c5"/><stop offset="25.00%" stop-color="#3096c5"/><stop offset="25.00%" stop-color="#3889c1"/><stop offset="30.00%" stop-color="#3889c1"/><stop offset="30.00%" stop-color="#3f7dbc"/><stop offset="35.00%" stop-color="#3f7dbc"/><stop offset="35.00%" stop-color="#4671b6"/><stop offset="40.00%" stop-color="#4671b6"/><stop offset="40.00%" stop-color="#4e66b0"/><stop offset="45.00%" stop-color="#4e66b0"/><stop offset="45.00%" stop-color="#565dab"/><stop offset="50.00%" stop-color="#565dab"/><stop offset="50.00%" stop-color="#5e57a7"/><stop offset="55.00%" stop-color="#5e57a7"/><stop offset="55.00%" stop-color="#6652a5"/><stop offset="60.00%" stop-color="#6652a5"/><stop offset="60.00%" stop-color="#6e4ea3"/><stop offset="65.00%" stop-color="#6e4ea3"/><stop offset="65.00%" stop-color="#774ba1"/><stop offset="70.00%" stop-color="#774ba1"/><stop offset="70.00%" stop-color="#8049a0"/><stop offset="75.00%" stop-color="#8049a0"/><stop offset="75.00%" stop-color="#88479f"/><stop offset="80.00%" stop-color="#88479f"/><stop offset="80.00%" stop-color="#91479f"/><stop offset="85.00%" stop-color="#91479f"/><stop offset="85.00%" stop-color="#9a489f"/><stop offset="90.00%" stop-color="#9a489f"/><stop offset="90.00%" stop-color="#a3499e"/><stop offset="95.00%" stop-color="#a3499e"/><stop offset="95.00%" stop-color="#ae4c9e"/><stop offset="100.00%" stop-color="#ae4c9e"/></linearGradient></defs>
<rect x="656.5" y="352.7" width="14.3" height="293.8" fill="url(#gd)"/>
<line x1="671.7" y1="351.8" x2="671.7" y2="647.4" stroke="#000" stroke-width="1.8"/>
<path d="M671.7 646.5H663.6M671.7 609.91H663.6M671.7 573.32H663.6M671.7 536.74H663.6M671.7 500.15H663.6M671.7 463.56H663.6M671.7 426.97H663.6M671.7 390.39H663.6M671.7 353.8H663.6" stroke="#000" stroke-width="1.6" fill="none"/>
<g class="t"><text x="675.3" y="650.95">0</text><text x="675.3" y="614.36">1</text><text x="675.3" y="577.77">2</text><text x="675.3" y="541.19">3</text><text x="675.3" y="504.6">4</text><text x="675.3" y="468.01">5</text><text x="675.3" y="431.42">6</text><text x="675.3" y="394.84">7</text><text x="675.3" y="358.25">8</text></g>
<line x1="384.71" y1="658.7" x2="390.71" y2="658.7" stroke="#444" stroke-width="1.1"/>
<line x1="427.96" y1="658.7" x2="433.96" y2="658.7" stroke="#444" stroke-width="1.1"/>
<line x1="471.21" y1="658.7" x2="477.21" y2="658.7" stroke="#444" stroke-width="1.1"/>
<g class="t"><text x="397.95" y="662.6" text-anchor="middle">30</text><text x="441.2" y="662.6" text-anchor="middle">20</text><text x="484.45" y="662.6" text-anchor="middle">10</text><text x="524" y="662.6" text-anchor="middle">0</text><text x="568.9" y="662.6" text-anchor="middle">10</text><text x="612.15" y="662.6" text-anchor="middle">20</text><text x="655.4" y="662.6" text-anchor="middle">30</text></g>
<g class="t"><text x="388.6" y="655.05" text-anchor="end">0</text><text x="388.6" y="621.52" text-anchor="end">0.2</text><text x="388.6" y="592.14" text-anchor="end">0.4</text><text x="388.6" y="562.76" text-anchor="end">0.6</text><text x="388.6" y="533.38" text-anchor="end">0.8</text><text x="388.6" y="504" text-anchor="end">1</text><text x="388.6" y="474.62" text-anchor="end">1.2</text><text x="388.6" y="445.24" text-anchor="end">1.4</text><text x="388.6" y="415.86" text-anchor="end">1.6</text><text x="388.6" y="386.48" text-anchor="end">1.8</text><text x="388.6" y="357.1" text-anchor="end">2</text></g>
<text class="t" x="526.5" y="680.5" text-anchor="middle">Axial position (cm)</text>
<text class="t" transform="translate(361.5 499.3) rotate(-90)" text-anchor="middle">Time (s)</text>
<text class="L" transform="translate(624.1 378.4) scale(1 1)">d</text>
<text class="L" x="639.2" y="376.8" style="font-size:26px">)</text>
</svg>
</body></html>
